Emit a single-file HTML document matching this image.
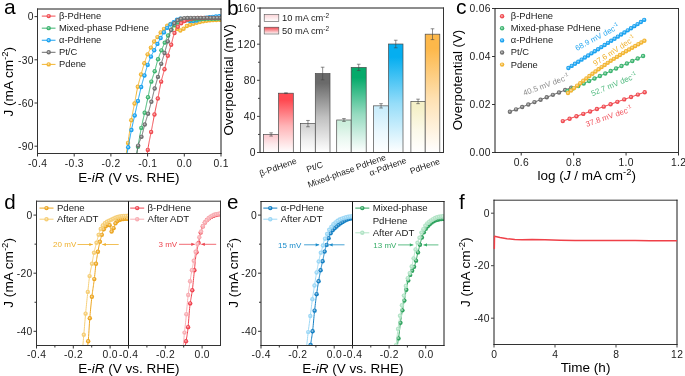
<!DOCTYPE html>
<html><head><meta charset="utf-8"><style>
html,body{margin:0;padding:0;background:#fff;}
svg{display:block;will-change:transform;}
text{font-family:'Liberation Sans', sans-serif;}
</style></head><body>
<svg width="685" height="376" viewBox="0 0 685 376">
<defs><clipPath id="ca"><rect x="37.5" y="9" width="183.5" height="144.5"/></clipPath><linearGradient id="g0" x1="0" y1="0" x2="0" y2="1"><stop offset="0" stop-color="#FBCDD2"/><stop offset="0.12" stop-color="#FBCDD2"/><stop offset="0.55" stop-color="#fdeaec"/><stop offset="1" stop-color="#fff"/></linearGradient><linearGradient id="g1" x1="0" y1="0" x2="0" y2="1"><stop offset="0" stop-color="#FF4A52"/><stop offset="0.12" stop-color="#FF4A52"/><stop offset="0.55" stop-color="#ffb3b6"/><stop offset="1" stop-color="#fff"/></linearGradient><linearGradient id="g2" x1="0" y1="0" x2="0" y2="1"><stop offset="0" stop-color="#D5D5D5"/><stop offset="0.12" stop-color="#D5D5D5"/><stop offset="0.55" stop-color="#ededed"/><stop offset="1" stop-color="#fff"/></linearGradient><linearGradient id="g3" x1="0" y1="0" x2="0" y2="1"><stop offset="0" stop-color="#6A6A6A"/><stop offset="0.12" stop-color="#6A6A6A"/><stop offset="0.55" stop-color="#c0c0c0"/><stop offset="1" stop-color="#fff"/></linearGradient><linearGradient id="g4" x1="0" y1="0" x2="0" y2="1"><stop offset="0" stop-color="#CDEFDD"/><stop offset="0.12" stop-color="#CDEFDD"/><stop offset="0.55" stop-color="#eaf8f1"/><stop offset="1" stop-color="#fff"/></linearGradient><linearGradient id="g5" x1="0" y1="0" x2="0" y2="1"><stop offset="0" stop-color="#05AA6A"/><stop offset="0.12" stop-color="#05AA6A"/><stop offset="0.55" stop-color="#96dbc0"/><stop offset="1" stop-color="#fff"/></linearGradient><linearGradient id="g6" x1="0" y1="0" x2="0" y2="1"><stop offset="0" stop-color="#CDEEFC"/><stop offset="0.12" stop-color="#CDEEFC"/><stop offset="0.55" stop-color="#eaf8fe"/><stop offset="1" stop-color="#fff"/></linearGradient><linearGradient id="g7" x1="0" y1="0" x2="0" y2="1"><stop offset="0" stop-color="#05AEF0"/><stop offset="0.12" stop-color="#05AEF0"/><stop offset="0.55" stop-color="#96ddf9"/><stop offset="1" stop-color="#fff"/></linearGradient><linearGradient id="g8" x1="0" y1="0" x2="0" y2="1"><stop offset="0" stop-color="#F5F0C8"/><stop offset="0.12" stop-color="#F5F0C8"/><stop offset="0.55" stop-color="#fbf9e8"/><stop offset="1" stop-color="#fff"/></linearGradient><linearGradient id="g9" x1="0" y1="0" x2="0" y2="1"><stop offset="0" stop-color="#FDB84A"/><stop offset="0.12" stop-color="#FDB84A"/><stop offset="0.55" stop-color="#fee1b3"/><stop offset="1" stop-color="#fff"/></linearGradient><linearGradient id="lg1" x1="0" y1="0" x2="0" y2="1"><stop offset="0" stop-color="#FBD3D7"/><stop offset="1" stop-color="#fff"/></linearGradient><linearGradient id="lg2" x1="0" y1="0" x2="0" y2="1"><stop offset="0" stop-color="#F2434B"/><stop offset="1" stop-color="#fff"/></linearGradient><clipPath id="cddL"><rect x="36.5" y="201.2" width="92" height="144.3"/></clipPath><clipPath id="cddR"><rect x="128.5" y="201.2" width="92" height="144.3"/></clipPath><clipPath id="cdeL"><rect x="261" y="201.5" width="91.5" height="144"/></clipPath><clipPath id="cdeR"><rect x="352.5" y="201.5" width="91.5" height="144"/></clipPath></defs>
<rect width="685" height="376" fill="#fff"/>
<text x="4" y="13.8" font-size="21" text-anchor="start" fill="#000" >a</text>
<g clip-path="url(#ca)">
<path d="M125.5,158 L125.7,156.87 L125.9,155.73 L126.1,154.57 L126.3,153.41 L126.5,152.22 L126.7,151.03 L126.9,149.82 L127.1,148.6 L127.3,147.36 L127.5,146.11 L127.7,144.84 L127.9,143.55 L128.1,142.23 L128.3,140.86 L128.5,139.46 L128.7,138.03 L128.9,136.58 L129.1,135.12 L129.3,133.65 L129.5,132.19 L129.7,130.73 L129.9,129.29 L130.1,127.86 L130.3,126.47 L130.5,125.11 L130.7,123.79 L130.9,122.52 L131.1,121.3 L131.3,120.13 L131.5,118.99 L131.7,117.88 L131.9,116.79 L132.1,115.73 L132.3,114.69 L132.5,113.66 L132.7,112.65 L132.9,111.65 L133.1,110.66 L133.3,109.68 L133.5,108.69 L133.7,107.71 L133.9,106.73 L134.1,105.74 L134.3,104.74 L134.5,103.73 L134.7,102.7 L134.9,101.66 L135.1,100.6 L135.3,99.52 L135.5,98.44 L135.7,97.35 L135.9,96.27 L136.1,95.19 L136.3,94.11 L136.5,93.05 L136.7,92.01 L136.9,90.99 L137.1,89.99 L137.3,89.02 L137.5,88.09 L137.7,87.2 L137.9,86.34 L138.1,85.5 L138.3,84.69 L138.5,83.89 L138.7,83.11 L138.9,82.35 L139.1,81.6 L139.3,80.86 L139.5,80.14 L139.7,79.42 L139.9,78.7 L140.1,78 L140.3,77.29 L140.5,76.59 L140.7,75.88 L140.9,75.17 L141.1,74.46 L141.3,73.74 L141.5,73.02 L141.7,72.3 L141.9,71.57 L142.1,70.85 L142.3,70.13 L142.5,69.42 L142.7,68.71 L142.9,68.01 L143.1,67.31 L143.3,66.63 L143.5,65.95 L143.7,65.29 L143.9,64.64 L144.1,64.01 L144.3,63.39 L144.5,62.78 L144.7,62.18 L144.9,61.58 L145.1,60.99 L145.3,60.41 L145.5,59.84 L145.7,59.27 L145.9,58.71 L146.1,58.17 L146.3,57.63 L146.5,57.1 L146.7,56.58 L146.9,56.08 L147.1,55.58 L147.3,55.1 L147.5,54.63 L147.7,54.17 L147.9,53.71 L148.1,53.27 L148.3,52.83 L148.5,52.41 L148.7,51.99 L148.9,51.57 L149.1,51.16 L149.3,50.76 L149.5,50.36 L149.7,49.96 L149.9,49.56 L150.1,49.17 L150.3,48.78 L150.5,48.39 L150.7,48 L150.9,47.6 L151.1,47.21 L151.3,46.82 L151.5,46.42 L151.7,46.03 L151.9,45.64 L152.1,45.25 L152.3,44.86 L152.5,44.48 L152.7,44.11 L152.9,43.73 L153.1,43.37 L153.3,43.01 L153.5,42.66 L153.7,42.32 L153.9,41.98 L154.1,41.66 L154.3,41.34 L154.5,41.04 L154.7,40.75 L154.9,40.46 L155.1,40.18 L155.3,39.91 L155.5,39.64 L155.7,39.38 L155.9,39.11 L156.1,38.86 L156.3,38.6 L156.5,38.34 L156.7,38.08 L156.9,37.81 L157.1,37.55 L157.3,37.28 L157.5,37 L157.7,36.72 L157.9,36.43 L158.1,36.13 L158.3,35.84 L158.5,35.54 L158.7,35.24 L158.9,34.94 L159.1,34.64 L159.3,34.34 L159.5,34.04 L159.7,33.75 L159.9,33.47 L160.1,33.19 L160.3,32.92 L160.5,32.65 L160.7,32.4 L160.9,32.15 L161.1,31.91 L161.3,31.68 L161.5,31.45 L161.7,31.22 L161.9,31 L162.1,30.78 L162.3,30.56 L162.5,30.35 L162.7,30.14 L162.9,29.93 L163.1,29.72 L163.3,29.52 L163.5,29.31 L163.7,29.11 L163.9,28.9 L164.1,28.69 L164.3,28.48 L164.5,28.27 L164.7,28.05 L164.9,27.84 L165.1,27.63 L165.3,27.41 L165.5,27.2 L165.7,27 L165.9,26.8 L166.1,26.61 L166.3,26.42 L166.5,26.24 L166.7,26.07 L166.9,25.92 L167.1,25.77 L167.3,25.63 L167.5,25.49 L167.7,25.35 L167.9,25.21 L168.1,25.07 L168.3,24.93 L168.5,24.8 L168.7,24.67 L168.9,24.54 L169.1,24.43 L169.3,24.32 L169.5,24.23 L169.7,24.15 L169.9,24.09 L170.1,24.04 L170.3,24.01 L170.5,24 L170.7,24.01 L170.9,24.02 L171.1,24.05 L171.3,24.09 L171.5,24.14 L171.7,24.19 L171.9,24.25 L172.1,24.32 L172.3,24.4 L172.5,24.48 L172.7,24.57 L172.9,24.66 L173.1,24.75 L173.3,24.85 L173.5,24.95 L173.7,25.06 L173.9,25.2 L174.1,25.38 L174.3,25.59 L174.5,25.82 L174.7,26.08 L174.9,26.36 L175.1,26.65 L175.3,26.94 L175.5,27.24 L175.7,27.53 L175.9,27.81 L176.1,28.08 L176.3,28.34 L176.5,28.56 L176.7,28.76 L176.9,28.93 L177.1,29.06 L177.3,29.19 L177.5,29.32 L177.7,29.45 L177.9,29.57 L178.1,29.69 L178.3,29.81 L178.5,29.92 L178.7,30.02 L178.9,30.12 L179.1,30.21 L179.3,30.29 L179.5,30.35 L179.7,30.41 L179.9,30.45 L180.1,30.48 L180.3,30.5 L180.5,30.5 L180.7,30.48 L180.9,30.43 L181.1,30.38 L181.3,30.3 L181.5,30.21 L181.7,30.1 L181.9,29.99 L182.1,29.86 L182.3,29.72 L182.5,29.58 L182.7,29.43 L182.9,29.28 L183.1,29.12 L183.3,28.97 L183.5,28.81 L183.7,28.66 L183.9,28.51 L184.1,28.37 L184.3,28.23 L184.5,28.08 L184.7,27.92 L184.9,27.75 L185.1,27.57 L185.3,27.39 L185.5,27.2 L185.7,27.01 L185.9,26.83 L186.1,26.65 L186.3,26.47 L186.5,26.3 L186.7,26.14 L186.9,26 L187.1,25.87 L187.3,25.75 L187.5,25.65 L187.7,25.56 L187.9,25.48 L188.1,25.4 L188.3,25.32 L188.5,25.25 L188.7,25.18 L188.9,25.11 L189.1,25.05 L189.3,24.99 L189.5,24.93 L189.7,24.87 L189.9,24.81 L190.1,24.76 L190.3,24.7 L190.5,24.64 L190.7,24.58 L190.9,24.53 L191.1,24.46 L191.3,24.4 L191.5,24.33 L191.7,24.27 L191.9,24.2 L192.1,24.14 L192.3,24.07 L192.5,24.01 L192.7,23.94 L192.9,23.88 L193.1,23.81 L193.3,23.75 L193.5,23.68 L193.7,23.62 L193.9,23.56 L194.1,23.49 L194.3,23.43 L194.5,23.37 L194.7,23.31 L194.9,23.26 L195.1,23.2 L195.3,23.14 L195.5,23.09 L195.7,23.04 L195.9,22.98 L196.1,22.93 L196.3,22.88 L196.5,22.83 L196.7,22.78 L196.9,22.73 L197.1,22.68 L197.3,22.63 L197.5,22.58 L197.7,22.53 L197.9,22.48 L198.1,22.43 L198.3,22.39 L198.5,22.34 L198.7,22.29 L198.9,22.25 L199.1,22.2 L199.3,22.16 L199.5,22.11 L199.7,22.07 L199.9,22.02 L200.1,21.98 L200.3,21.93 L200.5,21.89 L200.7,21.85 L200.9,21.8 L201.1,21.76 L201.3,21.71 L201.5,21.67 L201.7,21.63 L201.9,21.58 L202.1,21.54 L202.3,21.5 L202.5,21.46 L202.7,21.41 L202.9,21.37 L203.1,21.33 L203.3,21.3 L203.5,21.26 L203.7,21.22 L203.9,21.18 L204.1,21.15 L204.3,21.11 L204.5,21.08 L204.7,21.05 L204.9,21.02 L205.1,20.99 L205.3,20.96 L205.5,20.93 L205.7,20.9 L205.9,20.87 L206.1,20.84 L206.3,20.81 L206.5,20.78 L206.7,20.76 L206.9,20.73 L207.1,20.7 L207.3,20.68 L207.5,20.65 L207.7,20.63 L207.9,20.61 L208.1,20.58 L208.3,20.56 L208.5,20.54 L208.7,20.52 L208.9,20.5 L209.1,20.48 L209.3,20.46 L209.5,20.44 L209.7,20.42 L209.9,20.41 L210.1,20.39 L210.3,20.38 L210.5,20.36 L210.7,20.35 L210.9,20.33 L211.1,20.32 L211.3,20.3 L211.5,20.29 L211.7,20.27 L211.9,20.26 L212.1,20.24 L212.3,20.23 L212.5,20.21 L212.7,20.2 L212.9,20.18 L213.1,20.17 L213.3,20.15 L213.5,20.14 L213.7,20.13 L213.9,20.11 L214.1,20.1 L214.3,20.09 L214.5,20.07 L214.7,20.06 L214.9,20.05 L215.1,20.04 L215.3,20.02 L215.5,20.01 L215.7,20 L215.9,19.99 L216.1,19.98 L216.3,19.97 L216.5,19.96 L216.7,19.94 L216.9,19.93 L217.1,19.92 L217.3,19.92 L217.5,19.91 L217.7,19.9 L217.9,19.89 L218.1,19.88 L218.3,19.87 L218.5,19.86 L218.7,19.86 L218.9,19.85 L219.1,19.84 L219.3,19.84 L219.5,19.83 L219.7,19.83 L219.9,19.82 L220.1,19.82 L220.3,19.81 L220.5,19.81 L220.7,19.81 L220.9,19.81 L221.1,19.8 L221.3,19.8 L221.5,19.8" fill="none" stroke="#F2B430" stroke-width="1.0" stroke-linejoin="round"/>
<circle cx="128" cy="142.89" r="2.2" fill="#F2B430"/>
<circle cx="127.8" cy="142.59" r="0.99" fill="#fff" fill-opacity="0.5"/>
<circle cx="131.27" cy="120.3" r="2.2" fill="#F2B430"/>
<circle cx="131.07" cy="120" r="0.99" fill="#fff" fill-opacity="0.5"/>
<circle cx="134.54" cy="103.52" r="2.2" fill="#F2B430"/>
<circle cx="134.34" cy="103.22" r="0.99" fill="#fff" fill-opacity="0.5"/>
<circle cx="137.81" cy="86.72" r="2.2" fill="#F2B430"/>
<circle cx="137.61" cy="86.42" r="0.99" fill="#fff" fill-opacity="0.5"/>
<circle cx="141.08" cy="74.53" r="2.2" fill="#F2B430"/>
<circle cx="140.88" cy="74.23" r="0.99" fill="#fff" fill-opacity="0.5"/>
<circle cx="144.35" cy="63.24" r="2.2" fill="#F2B430"/>
<circle cx="144.15" cy="62.94" r="0.99" fill="#fff" fill-opacity="0.5"/>
<circle cx="147.62" cy="54.35" r="2.2" fill="#F2B430"/>
<circle cx="147.42" cy="54.05" r="0.99" fill="#fff" fill-opacity="0.5"/>
<circle cx="150.89" cy="47.62" r="2.2" fill="#F2B430"/>
<circle cx="150.69" cy="47.32" r="0.99" fill="#fff" fill-opacity="0.5"/>
<circle cx="154.16" cy="41.56" r="2.2" fill="#F2B430"/>
<circle cx="153.96" cy="41.26" r="0.99" fill="#fff" fill-opacity="0.5"/>
<circle cx="157.43" cy="37.1" r="2.2" fill="#F2B430"/>
<circle cx="157.23" cy="36.8" r="0.99" fill="#fff" fill-opacity="0.5"/>
<circle cx="160.7" cy="32.4" r="2.2" fill="#F2B430"/>
<circle cx="160.5" cy="32.1" r="0.99" fill="#fff" fill-opacity="0.5"/>
<circle cx="163.97" cy="28.83" r="2.2" fill="#F2B430"/>
<circle cx="163.77" cy="28.53" r="0.99" fill="#fff" fill-opacity="0.5"/>
<circle cx="167.24" cy="25.67" r="2.2" fill="#F2B430"/>
<circle cx="167.04" cy="25.37" r="0.99" fill="#fff" fill-opacity="0.5"/>
<circle cx="170.51" cy="24" r="2.2" fill="#F2B430"/>
<circle cx="170.31" cy="23.7" r="0.99" fill="#fff" fill-opacity="0.5"/>
<circle cx="173.78" cy="25.11" r="2.2" fill="#F2B430"/>
<circle cx="173.58" cy="24.81" r="0.99" fill="#fff" fill-opacity="0.5"/>
<circle cx="177.05" cy="29.03" r="2.2" fill="#F2B430"/>
<circle cx="176.85" cy="28.73" r="0.99" fill="#fff" fill-opacity="0.5"/>
<circle cx="180.32" cy="30.5" r="2.2" fill="#F2B430"/>
<circle cx="180.12" cy="30.2" r="0.99" fill="#fff" fill-opacity="0.5"/>
<circle cx="183.59" cy="28.74" r="2.2" fill="#F2B430"/>
<circle cx="183.39" cy="28.44" r="0.99" fill="#fff" fill-opacity="0.5"/>
<circle cx="186.86" cy="26.02" r="2.2" fill="#F2B430"/>
<circle cx="186.66" cy="25.72" r="0.99" fill="#fff" fill-opacity="0.5"/>
<circle cx="190.13" cy="24.75" r="2.2" fill="#F2B430"/>
<circle cx="189.93" cy="24.45" r="0.99" fill="#fff" fill-opacity="0.5"/>
<circle cx="193.4" cy="23.71" r="2.2" fill="#F2B430"/>
<circle cx="193.2" cy="23.41" r="0.99" fill="#fff" fill-opacity="0.5"/>
<circle cx="196.67" cy="22.78" r="2.2" fill="#F2B430"/>
<circle cx="196.47" cy="22.48" r="0.99" fill="#fff" fill-opacity="0.5"/>
<circle cx="199.94" cy="22.01" r="2.2" fill="#F2B430"/>
<circle cx="199.74" cy="21.71" r="0.99" fill="#fff" fill-opacity="0.5"/>
<circle cx="203.21" cy="21.31" r="2.2" fill="#F2B430"/>
<circle cx="203.01" cy="21.01" r="0.99" fill="#fff" fill-opacity="0.5"/>
<circle cx="206.48" cy="20.79" r="2.2" fill="#F2B430"/>
<circle cx="206.28" cy="20.49" r="0.99" fill="#fff" fill-opacity="0.5"/>
<circle cx="209.75" cy="20.42" r="2.2" fill="#F2B430"/>
<circle cx="209.55" cy="20.12" r="0.99" fill="#fff" fill-opacity="0.5"/>
<circle cx="213.02" cy="20.17" r="2.2" fill="#F2B430"/>
<circle cx="212.82" cy="19.87" r="0.99" fill="#fff" fill-opacity="0.5"/>
<circle cx="216.29" cy="19.97" r="2.2" fill="#F2B430"/>
<circle cx="216.09" cy="19.67" r="0.99" fill="#fff" fill-opacity="0.5"/>
<circle cx="219.56" cy="19.83" r="2.2" fill="#F2B430"/>
<circle cx="219.36" cy="19.53" r="0.99" fill="#fff" fill-opacity="0.5"/>
</g>
<g clip-path="url(#ca)">
<path d="M126.3,158 L126.5,156.85 L126.7,155.71 L126.9,154.57 L127.1,153.44 L127.3,152.31 L127.5,151.19 L127.7,150.07 L127.9,148.96 L128.1,147.85 L128.3,146.75 L128.5,145.65 L128.7,144.55 L128.9,143.44 L129.1,142.34 L129.3,141.24 L129.5,140.14 L129.7,139.05 L129.9,137.96 L130.1,136.89 L130.3,135.82 L130.5,134.77 L130.7,133.72 L130.9,132.69 L131.1,131.68 L131.3,130.68 L131.5,129.7 L131.7,128.74 L131.9,127.79 L132.1,126.87 L132.3,125.95 L132.5,125.05 L132.7,124.16 L132.9,123.27 L133.1,122.4 L133.3,121.53 L133.5,120.67 L133.7,119.81 L133.9,118.95 L134.1,118.09 L134.3,117.23 L134.5,116.37 L134.7,115.5 L134.9,114.63 L135.1,113.74 L135.3,112.85 L135.5,111.96 L135.7,111.06 L135.9,110.17 L136.1,109.27 L136.3,108.37 L136.5,107.46 L136.7,106.56 L136.9,105.66 L137.1,104.77 L137.3,103.87 L137.5,102.97 L137.7,102.08 L137.9,101.2 L138.1,100.31 L138.3,99.44 L138.5,98.56 L138.7,97.69 L138.9,96.81 L139.1,95.93 L139.3,95.04 L139.5,94.17 L139.7,93.29 L139.9,92.42 L140.1,91.55 L140.3,90.69 L140.5,89.85 L140.7,89.01 L140.9,88.18 L141.1,87.37 L141.3,86.58 L141.5,85.8 L141.7,85.04 L141.9,84.29 L142.1,83.55 L142.3,82.82 L142.5,82.11 L142.7,81.4 L142.9,80.7 L143.1,80.01 L143.3,79.32 L143.5,78.64 L143.7,77.96 L143.9,77.28 L144.1,76.61 L144.3,75.94 L144.5,75.27 L144.7,74.6 L144.9,73.93 L145.1,73.25 L145.3,72.58 L145.5,71.9 L145.7,71.23 L145.9,70.56 L146.1,69.89 L146.3,69.23 L146.5,68.58 L146.7,67.93 L146.9,67.3 L147.1,66.68 L147.3,66.06 L147.5,65.47 L147.7,64.89 L147.9,64.32 L148.1,63.76 L148.3,63.21 L148.5,62.67 L148.7,62.13 L148.9,61.6 L149.1,61.08 L149.3,60.57 L149.5,60.07 L149.7,59.57 L149.9,59.08 L150.1,58.6 L150.3,58.12 L150.5,57.66 L150.7,57.2 L150.9,56.74 L151.1,56.3 L151.3,55.86 L151.5,55.44 L151.7,55.02 L151.9,54.61 L152.1,54.2 L152.3,53.81 L152.5,53.42 L152.7,53.03 L152.9,52.65 L153.1,52.27 L153.3,51.89 L153.5,51.52 L153.7,51.14 L153.9,50.77 L154.1,50.4 L154.3,50.02 L154.5,49.65 L154.7,49.27 L154.9,48.89 L155.1,48.5 L155.3,48.11 L155.5,47.72 L155.7,47.33 L155.9,46.94 L156.1,46.54 L156.3,46.15 L156.5,45.76 L156.7,45.37 L156.9,44.98 L157.1,44.59 L157.3,44.21 L157.5,43.82 L157.7,43.44 L157.9,43.06 L158.1,42.69 L158.3,42.31 L158.5,41.94 L158.7,41.58 L158.9,41.21 L159.1,40.85 L159.3,40.48 L159.5,40.12 L159.7,39.76 L159.9,39.41 L160.1,39.05 L160.3,38.7 L160.5,38.34 L160.7,37.99 L160.9,37.64 L161.1,37.29 L161.3,36.95 L161.5,36.6 L161.7,36.25 L161.9,35.9 L162.1,35.55 L162.3,35.2 L162.5,34.85 L162.7,34.51 L162.9,34.16 L163.1,33.82 L163.3,33.48 L163.5,33.14 L163.7,32.81 L163.9,32.48 L164.1,32.17 L164.3,31.85 L164.5,31.55 L164.7,31.25 L164.9,30.96 L165.1,30.67 L165.3,30.39 L165.5,30.11 L165.7,29.83 L165.9,29.56 L166.1,29.29 L166.3,29.03 L166.5,28.77 L166.7,28.51 L166.9,28.26 L167.1,28.02 L167.3,27.77 L167.5,27.53 L167.7,27.3 L167.9,27.07 L168.1,26.84 L168.3,26.61 L168.5,26.39 L168.7,26.17 L168.9,25.95 L169.1,25.73 L169.3,25.53 L169.5,25.32 L169.7,25.12 L169.9,24.93 L170.1,24.75 L170.3,24.57 L170.5,24.4 L170.7,24.24 L170.9,24.08 L171.1,23.94 L171.3,23.79 L171.5,23.65 L171.7,23.52 L171.9,23.39 L172.1,23.26 L172.3,23.13 L172.5,23.01 L172.7,22.88 L172.9,22.75 L173.1,22.62 L173.3,22.48 L173.5,22.34 L173.7,22.2 L173.9,22.05 L174.1,21.89 L174.3,21.72 L174.5,21.55 L174.7,21.37 L174.9,21.19 L175.1,21.02 L175.3,20.84 L175.5,20.67 L175.7,20.5 L175.9,20.34 L176.1,20.19 L176.3,20.04 L176.5,19.91 L176.7,19.8 L176.9,19.7 L177.1,19.61 L177.3,19.52 L177.5,19.42 L177.7,19.33 L177.9,19.25 L178.1,19.16 L178.3,19.08 L178.5,19.01 L178.7,18.94 L178.9,18.87 L179.1,18.82 L179.3,18.77 L179.5,18.74 L179.7,18.71 L179.9,18.7 L180.1,18.7 L180.3,18.71 L180.5,18.71 L180.7,18.73 L180.9,18.75 L181.1,18.77 L181.3,18.79 L181.5,18.82 L181.7,18.85 L181.9,18.88 L182.1,18.91 L182.3,18.95 L182.5,18.99 L182.7,19.03 L182.9,19.07 L183.1,19.11 L183.3,19.15 L183.5,19.2 L183.7,19.24 L183.9,19.28 L184.1,19.32 L184.3,19.37 L184.5,19.42 L184.7,19.48 L184.9,19.55 L185.1,19.61 L185.3,19.69 L185.5,19.76 L185.7,19.83 L185.9,19.91 L186.1,19.99 L186.3,20.07 L186.5,20.14 L186.7,20.21 L186.9,20.29 L187.1,20.35 L187.3,20.42 L187.5,20.48 L187.7,20.53 L187.9,20.58 L188.1,20.62 L188.3,20.66 L188.5,20.7 L188.7,20.75 L188.9,20.79 L189.1,20.83 L189.3,20.87 L189.5,20.91 L189.7,20.95 L189.9,20.99 L190.1,21.02 L190.3,21.05 L190.5,21.08 L190.7,21.11 L190.9,21.13 L191.1,21.15 L191.3,21.17 L191.5,21.19 L191.7,21.19 L191.9,21.2 L192.1,21.2 L192.3,21.19 L192.5,21.19 L192.7,21.17 L192.9,21.15 L193.1,21.13 L193.3,21.11 L193.5,21.08 L193.7,21.05 L193.9,21.02 L194.1,20.99 L194.3,20.95 L194.5,20.91 L194.7,20.87 L194.9,20.83 L195.1,20.79 L195.3,20.75 L195.5,20.7 L195.7,20.66 L195.9,20.62 L196.1,20.58 L196.3,20.53 L196.5,20.48 L196.7,20.42 L196.9,20.36 L197.1,20.3 L197.3,20.23 L197.5,20.16 L197.7,20.09 L197.9,20.02 L198.1,19.94 L198.3,19.87 L198.5,19.79 L198.7,19.72 L198.9,19.65 L199.1,19.58 L199.3,19.51 L199.5,19.45 L199.7,19.38 L199.9,19.33 L200.1,19.27 L200.3,19.22 L200.5,19.17 L200.7,19.12 L200.9,19.07 L201.1,19.01 L201.3,18.96 L201.5,18.91 L201.7,18.86 L201.9,18.81 L202.1,18.76 L202.3,18.71 L202.5,18.66 L202.7,18.61 L202.9,18.56 L203.1,18.51 L203.3,18.47 L203.5,18.42 L203.7,18.37 L203.9,18.32 L204.1,18.28 L204.3,18.23 L204.5,18.19 L204.7,18.14 L204.9,18.1 L205.1,18.05 L205.3,18.01 L205.5,17.97 L205.7,17.93 L205.9,17.89 L206.1,17.85 L206.3,17.81 L206.5,17.77 L206.7,17.73 L206.9,17.69 L207.1,17.65 L207.3,17.62 L207.5,17.58 L207.7,17.54 L207.9,17.51 L208.1,17.48 L208.3,17.44 L208.5,17.41 L208.7,17.38 L208.9,17.35 L209.1,17.32 L209.3,17.29 L209.5,17.27 L209.7,17.24 L209.9,17.21 L210.1,17.19 L210.3,17.16 L210.5,17.14 L210.7,17.11 L210.9,17.09 L211.1,17.06 L211.3,17.04 L211.5,17.02 L211.7,16.99 L211.9,16.97 L212.1,16.94 L212.3,16.92 L212.5,16.9 L212.7,16.87 L212.9,16.85 L213.1,16.83 L213.3,16.81 L213.5,16.78 L213.7,16.76 L213.9,16.74 L214.1,16.72 L214.3,16.7 L214.5,16.68 L214.7,16.66 L214.9,16.63 L215.1,16.61 L215.3,16.6 L215.5,16.58 L215.7,16.56 L215.9,16.54 L216.1,16.52 L216.3,16.5 L216.5,16.48 L216.7,16.47 L216.9,16.45 L217.1,16.43 L217.3,16.42 L217.5,16.4 L217.7,16.39 L217.9,16.37 L218.1,16.36 L218.3,16.34 L218.5,16.33 L218.7,16.32 L218.9,16.31 L219.1,16.3 L219.3,16.28 L219.5,16.27 L219.7,16.26 L219.9,16.25 L220.1,16.25 L220.3,16.24 L220.5,16.23 L220.7,16.22 L220.9,16.22 L221.1,16.21 L221.3,16.2 L221.5,16.2" fill="none" stroke="#1AA2F0" stroke-width="1.0" stroke-linejoin="round"/>
<circle cx="128.2" cy="147.3" r="2.2" fill="#1AA2F0"/>
<circle cx="128" cy="147" r="0.99" fill="#fff" fill-opacity="0.5"/>
<circle cx="131.45" cy="129.94" r="2.2" fill="#1AA2F0"/>
<circle cx="131.25" cy="129.64" r="0.99" fill="#fff" fill-opacity="0.5"/>
<circle cx="134.7" cy="115.5" r="2.2" fill="#1AA2F0"/>
<circle cx="134.5" cy="115.2" r="0.99" fill="#fff" fill-opacity="0.5"/>
<circle cx="137.95" cy="100.98" r="2.2" fill="#1AA2F0"/>
<circle cx="137.75" cy="100.68" r="0.99" fill="#fff" fill-opacity="0.5"/>
<circle cx="141.2" cy="86.97" r="2.2" fill="#1AA2F0"/>
<circle cx="141" cy="86.67" r="0.99" fill="#fff" fill-opacity="0.5"/>
<circle cx="144.45" cy="75.44" r="2.2" fill="#1AA2F0"/>
<circle cx="144.25" cy="75.14" r="0.99" fill="#fff" fill-opacity="0.5"/>
<circle cx="147.7" cy="64.89" r="2.2" fill="#1AA2F0"/>
<circle cx="147.5" cy="64.59" r="0.99" fill="#fff" fill-opacity="0.5"/>
<circle cx="150.95" cy="56.63" r="2.2" fill="#1AA2F0"/>
<circle cx="150.75" cy="56.33" r="0.99" fill="#fff" fill-opacity="0.5"/>
<circle cx="154.2" cy="50.21" r="2.2" fill="#1AA2F0"/>
<circle cx="154" cy="49.91" r="0.99" fill="#fff" fill-opacity="0.5"/>
<circle cx="157.45" cy="43.92" r="2.2" fill="#1AA2F0"/>
<circle cx="157.25" cy="43.62" r="0.99" fill="#fff" fill-opacity="0.5"/>
<circle cx="160.7" cy="37.99" r="2.2" fill="#1AA2F0"/>
<circle cx="160.5" cy="37.69" r="0.99" fill="#fff" fill-opacity="0.5"/>
<circle cx="163.95" cy="32.4" r="2.2" fill="#1AA2F0"/>
<circle cx="163.75" cy="32.1" r="0.99" fill="#fff" fill-opacity="0.5"/>
<circle cx="167.2" cy="27.89" r="2.2" fill="#1AA2F0"/>
<circle cx="167" cy="27.59" r="0.99" fill="#fff" fill-opacity="0.5"/>
<circle cx="170.45" cy="24.44" r="2.2" fill="#1AA2F0"/>
<circle cx="170.25" cy="24.14" r="0.99" fill="#fff" fill-opacity="0.5"/>
<circle cx="173.7" cy="22.2" r="2.2" fill="#1AA2F0"/>
<circle cx="173.5" cy="21.9" r="0.99" fill="#fff" fill-opacity="0.5"/>
<circle cx="176.95" cy="19.68" r="2.2" fill="#1AA2F0"/>
<circle cx="176.75" cy="19.38" r="0.99" fill="#fff" fill-opacity="0.5"/>
<circle cx="180.2" cy="18.7" r="2.2" fill="#1AA2F0"/>
<circle cx="180" cy="18.4" r="0.99" fill="#fff" fill-opacity="0.5"/>
<circle cx="183.45" cy="19.19" r="2.2" fill="#1AA2F0"/>
<circle cx="183.25" cy="18.89" r="0.99" fill="#fff" fill-opacity="0.5"/>
<circle cx="186.7" cy="20.21" r="2.2" fill="#1AA2F0"/>
<circle cx="186.5" cy="19.91" r="0.99" fill="#fff" fill-opacity="0.5"/>
<circle cx="189.95" cy="20.99" r="2.2" fill="#1AA2F0"/>
<circle cx="189.75" cy="20.69" r="0.99" fill="#fff" fill-opacity="0.5"/>
<circle cx="193.2" cy="21.12" r="2.2" fill="#1AA2F0"/>
<circle cx="193" cy="20.82" r="0.99" fill="#fff" fill-opacity="0.5"/>
<circle cx="196.45" cy="20.49" r="2.2" fill="#1AA2F0"/>
<circle cx="196.25" cy="20.19" r="0.99" fill="#fff" fill-opacity="0.5"/>
<circle cx="199.7" cy="19.38" r="2.2" fill="#1AA2F0"/>
<circle cx="199.5" cy="19.08" r="0.99" fill="#fff" fill-opacity="0.5"/>
<circle cx="202.95" cy="18.55" r="2.2" fill="#1AA2F0"/>
<circle cx="202.75" cy="18.25" r="0.99" fill="#fff" fill-opacity="0.5"/>
<circle cx="206.2" cy="17.82" r="2.2" fill="#1AA2F0"/>
<circle cx="206" cy="17.52" r="0.99" fill="#fff" fill-opacity="0.5"/>
<circle cx="209.45" cy="17.27" r="2.2" fill="#1AA2F0"/>
<circle cx="209.25" cy="16.97" r="0.99" fill="#fff" fill-opacity="0.5"/>
<circle cx="212.7" cy="16.87" r="2.2" fill="#1AA2F0"/>
<circle cx="212.5" cy="16.57" r="0.99" fill="#fff" fill-opacity="0.5"/>
<circle cx="215.95" cy="16.53" r="2.2" fill="#1AA2F0"/>
<circle cx="215.75" cy="16.23" r="0.99" fill="#fff" fill-opacity="0.5"/>
<circle cx="219.2" cy="16.29" r="2.2" fill="#1AA2F0"/>
<circle cx="219" cy="15.99" r="0.99" fill="#fff" fill-opacity="0.5"/>
</g>
<g clip-path="url(#ca)">
<path d="M136,158 L136.2,156.83 L136.4,155.65 L136.6,154.48 L136.8,153.32 L137,152.16 L137.2,151 L137.4,149.84 L137.6,148.69 L137.8,147.54 L138,146.4 L138.2,145.26 L138.4,144.1 L138.6,142.95 L138.8,141.79 L139,140.63 L139.2,139.48 L139.4,138.32 L139.6,137.17 L139.8,136.03 L140,134.9 L140.2,133.78 L140.4,132.67 L140.6,131.58 L140.8,130.5 L141,129.45 L141.2,128.41 L141.4,127.4 L141.6,126.41 L141.8,125.45 L142,124.5 L142.2,123.57 L142.4,122.65 L142.6,121.75 L142.8,120.86 L143,119.98 L143.2,119.1 L143.4,118.23 L143.6,117.36 L143.8,116.49 L144,115.61 L144.2,114.74 L144.4,113.85 L144.6,112.96 L144.8,112.06 L145,111.14 L145.2,110.22 L145.4,109.3 L145.6,108.38 L145.8,107.45 L146,106.53 L146.2,105.6 L146.4,104.67 L146.6,103.74 L146.8,102.81 L147,101.87 L147.2,100.94 L147.4,100 L147.6,99.07 L147.8,98.14 L148,97.2 L148.2,96.27 L148.4,95.33 L148.6,94.37 L148.8,93.4 L149,92.41 L149.2,91.41 L149.4,90.42 L149.6,89.42 L149.8,88.43 L150,87.46 L150.2,86.51 L150.4,85.58 L150.6,84.68 L150.8,83.81 L151,82.98 L151.2,82.2 L151.4,81.46 L151.6,80.75 L151.8,80.07 L152,79.41 L152.2,78.78 L152.4,78.16 L152.6,77.55 L152.8,76.96 L153,76.37 L153.2,75.79 L153.4,75.21 L153.6,74.63 L153.8,74.03 L154,73.43 L154.2,72.82 L154.4,72.19 L154.6,71.53 L154.8,70.86 L155,70.16 L155.2,69.44 L155.4,68.7 L155.6,67.94 L155.8,67.18 L156,66.42 L156.2,65.65 L156.4,64.89 L156.6,64.13 L156.8,63.39 L157,62.66 L157.2,61.95 L157.4,61.27 L157.6,60.62 L157.8,59.99 L158,59.38 L158.2,58.79 L158.4,58.2 L158.6,57.63 L158.8,57.07 L159,56.52 L159.2,55.97 L159.4,55.44 L159.6,54.91 L159.8,54.39 L160,53.87 L160.2,53.36 L160.4,52.85 L160.6,52.35 L160.8,51.85 L161,51.35 L161.2,50.85 L161.4,50.36 L161.6,49.87 L161.8,49.39 L162,48.91 L162.2,48.44 L162.4,47.97 L162.6,47.51 L162.8,47.05 L163,46.59 L163.2,46.13 L163.4,45.68 L163.6,45.23 L163.8,44.78 L164,44.34 L164.2,43.89 L164.4,43.45 L164.6,43 L164.8,42.55 L165,42.11 L165.2,41.66 L165.4,41.22 L165.6,40.77 L165.8,40.33 L166,39.89 L166.2,39.45 L166.4,39.01 L166.6,38.58 L166.8,38.15 L167,37.73 L167.2,37.31 L167.4,36.9 L167.6,36.49 L167.8,36.09 L168,35.69 L168.2,35.31 L168.4,34.92 L168.6,34.54 L168.8,34.16 L169,33.78 L169.2,33.41 L169.4,33.04 L169.6,32.67 L169.8,32.31 L170,31.95 L170.2,31.61 L170.4,31.26 L170.6,30.92 L170.8,30.59 L171,30.27 L171.2,29.96 L171.4,29.65 L171.6,29.35 L171.8,29.06 L172,28.76 L172.2,28.47 L172.4,28.18 L172.6,27.9 L172.8,27.62 L173,27.35 L173.2,27.08 L173.4,26.82 L173.6,26.56 L173.8,26.32 L174,26.07 L174.2,25.84 L174.4,25.62 L174.6,25.4 L174.8,25.2 L175,25 L175.2,24.81 L175.4,24.62 L175.6,24.44 L175.8,24.26 L176,24.08 L176.2,23.9 L176.4,23.73 L176.6,23.56 L176.8,23.4 L177,23.24 L177.2,23.09 L177.4,22.94 L177.6,22.8 L177.8,22.66 L178,22.54 L178.2,22.41 L178.4,22.3 L178.6,22.19 L178.8,22.09 L179,22 L179.2,21.91 L179.4,21.83 L179.6,21.75 L179.8,21.67 L180,21.6 L180.2,21.52 L180.4,21.45 L180.6,21.39 L180.8,21.32 L181,21.26 L181.2,21.19 L181.4,21.13 L181.6,21.08 L181.8,21.02 L182,20.96 L182.2,20.91 L182.4,20.86 L182.6,20.81 L182.8,20.76 L183,20.72 L183.2,20.67 L183.4,20.63 L183.6,20.58 L183.8,20.54 L184,20.5 L184.2,20.46 L184.4,20.42 L184.6,20.38 L184.8,20.34 L185,20.3 L185.2,20.27 L185.4,20.23 L185.6,20.19 L185.8,20.16 L186,20.12 L186.2,20.09 L186.4,20.05 L186.6,20.02 L186.8,19.99 L187,19.96 L187.2,19.93 L187.4,19.9 L187.6,19.87 L187.8,19.84 L188,19.81 L188.2,19.79 L188.4,19.76 L188.6,19.74 L188.8,19.71 L189,19.69 L189.2,19.67 L189.4,19.65 L189.6,19.63 L189.8,19.62 L190,19.6 L190.2,19.58 L190.4,19.57 L190.6,19.55 L190.8,19.54 L191,19.53 L191.2,19.51 L191.4,19.5 L191.6,19.48 L191.8,19.47 L192,19.46 L192.2,19.45 L192.4,19.43 L192.6,19.42 L192.8,19.41 L193,19.4 L193.2,19.39 L193.4,19.38 L193.6,19.36 L193.8,19.35 L194,19.34 L194.2,19.33 L194.4,19.32 L194.6,19.31 L194.8,19.3 L195,19.29 L195.2,19.28 L195.4,19.28 L195.6,19.27 L195.8,19.26 L196,19.25 L196.2,19.24 L196.4,19.23 L196.6,19.22 L196.8,19.22 L197,19.21 L197.2,19.2 L197.4,19.19 L197.6,19.18 L197.8,19.18 L198,19.17 L198.2,19.16 L198.4,19.15 L198.6,19.15 L198.8,19.14 L199,19.13 L199.2,19.13 L199.4,19.12 L199.6,19.11 L199.8,19.11 L200,19.1 L200.2,19.09 L200.4,19.09 L200.6,19.08 L200.8,19.07 L201,19.07 L201.2,19.06 L201.4,19.05 L201.6,19.05 L201.8,19.04 L202,19.03 L202.2,19.03 L202.4,19.02 L202.6,19.01 L202.8,19.01 L203,19 L203.2,19 L203.4,18.99 L203.6,18.98 L203.8,18.98 L204,18.97 L204.2,18.96 L204.4,18.96 L204.6,18.95 L204.8,18.94 L205,18.94 L205.2,18.93 L205.4,18.93 L205.6,18.92 L205.8,18.91 L206,18.91 L206.2,18.9 L206.4,18.9 L206.6,18.89 L206.8,18.88 L207,18.88 L207.2,18.87 L207.4,18.87 L207.6,18.86 L207.8,18.85 L208,18.85 L208.2,18.84 L208.4,18.84 L208.6,18.83 L208.8,18.83 L209,18.82 L209.2,18.81 L209.4,18.81 L209.6,18.8 L209.8,18.8 L210,18.79 L210.2,18.79 L210.4,18.78 L210.6,18.78 L210.8,18.77 L211,18.77 L211.2,18.76 L211.4,18.76 L211.6,18.75 L211.8,18.75 L212,18.74 L212.2,18.74 L212.4,18.73 L212.6,18.73 L212.8,18.73 L213,18.72 L213.2,18.72 L213.4,18.71 L213.6,18.71 L213.8,18.7 L214,18.7 L214.2,18.7 L214.4,18.69 L214.6,18.69 L214.8,18.68 L215,18.68 L215.2,18.68 L215.4,18.67 L215.6,18.67 L215.8,18.67 L216,18.66 L216.2,18.66 L216.4,18.66 L216.6,18.65 L216.8,18.65 L217,18.65 L217.2,18.64 L217.4,18.64 L217.6,18.64 L217.8,18.63 L218,18.63 L218.2,18.63 L218.4,18.63 L218.6,18.62 L218.8,18.62 L219,18.62 L219.2,18.62 L219.4,18.62 L219.6,18.61 L219.8,18.61 L220,18.61 L220.2,18.61 L220.4,18.61 L220.6,18.61 L220.8,18.6 L221,18.6 L221.2,18.6 L221.4,18.6" fill="none" stroke="#3DB470" stroke-width="1.0" stroke-linejoin="round"/>
<circle cx="137.95" cy="146.69" r="2.2" fill="#3DB470"/>
<circle cx="137.75" cy="146.39" r="0.99" fill="#fff" fill-opacity="0.5"/>
<circle cx="141.3" cy="127.9" r="2.2" fill="#3DB470"/>
<circle cx="141.1" cy="127.6" r="0.99" fill="#fff" fill-opacity="0.5"/>
<circle cx="144.65" cy="112.73" r="2.2" fill="#3DB470"/>
<circle cx="144.45" cy="112.43" r="0.99" fill="#fff" fill-opacity="0.5"/>
<circle cx="148" cy="97.2" r="2.2" fill="#3DB470"/>
<circle cx="147.8" cy="96.9" r="0.99" fill="#fff" fill-opacity="0.5"/>
<circle cx="151.35" cy="81.64" r="2.2" fill="#3DB470"/>
<circle cx="151.15" cy="81.34" r="0.99" fill="#fff" fill-opacity="0.5"/>
<circle cx="154.7" cy="71.2" r="2.2" fill="#3DB470"/>
<circle cx="154.5" cy="70.9" r="0.99" fill="#fff" fill-opacity="0.5"/>
<circle cx="158.05" cy="59.23" r="2.2" fill="#3DB470"/>
<circle cx="157.85" cy="58.93" r="0.99" fill="#fff" fill-opacity="0.5"/>
<circle cx="161.4" cy="50.36" r="2.2" fill="#3DB470"/>
<circle cx="161.2" cy="50.06" r="0.99" fill="#fff" fill-opacity="0.5"/>
<circle cx="164.75" cy="42.67" r="2.2" fill="#3DB470"/>
<circle cx="164.55" cy="42.37" r="0.99" fill="#fff" fill-opacity="0.5"/>
<circle cx="168.1" cy="35.5" r="2.2" fill="#3DB470"/>
<circle cx="167.9" cy="35.2" r="0.99" fill="#fff" fill-opacity="0.5"/>
<circle cx="171.45" cy="29.57" r="2.2" fill="#3DB470"/>
<circle cx="171.25" cy="29.27" r="0.99" fill="#fff" fill-opacity="0.5"/>
<circle cx="174.8" cy="25.2" r="2.2" fill="#3DB470"/>
<circle cx="174.6" cy="24.9" r="0.99" fill="#fff" fill-opacity="0.5"/>
<circle cx="178.15" cy="22.44" r="2.2" fill="#3DB470"/>
<circle cx="177.95" cy="22.14" r="0.99" fill="#fff" fill-opacity="0.5"/>
<circle cx="181.5" cy="21.1" r="2.2" fill="#3DB470"/>
<circle cx="181.3" cy="20.8" r="0.99" fill="#fff" fill-opacity="0.5"/>
<circle cx="184.85" cy="20.33" r="2.2" fill="#3DB470"/>
<circle cx="184.65" cy="20.03" r="0.99" fill="#fff" fill-opacity="0.5"/>
<circle cx="188.2" cy="19.79" r="2.2" fill="#3DB470"/>
<circle cx="188" cy="19.49" r="0.99" fill="#fff" fill-opacity="0.5"/>
<circle cx="191.55" cy="19.49" r="2.2" fill="#3DB470"/>
<circle cx="191.35" cy="19.19" r="0.99" fill="#fff" fill-opacity="0.5"/>
<circle cx="194.9" cy="19.3" r="2.2" fill="#3DB470"/>
<circle cx="194.7" cy="19" r="0.99" fill="#fff" fill-opacity="0.5"/>
<circle cx="198.25" cy="19.16" r="2.2" fill="#3DB470"/>
<circle cx="198.05" cy="18.86" r="0.99" fill="#fff" fill-opacity="0.5"/>
<circle cx="201.6" cy="19.05" r="2.2" fill="#3DB470"/>
<circle cx="201.4" cy="18.75" r="0.99" fill="#fff" fill-opacity="0.5"/>
<circle cx="204.95" cy="18.94" r="2.2" fill="#3DB470"/>
<circle cx="204.75" cy="18.64" r="0.99" fill="#fff" fill-opacity="0.5"/>
<circle cx="208.3" cy="18.84" r="2.2" fill="#3DB470"/>
<circle cx="208.1" cy="18.54" r="0.99" fill="#fff" fill-opacity="0.5"/>
<circle cx="211.65" cy="18.75" r="2.2" fill="#3DB470"/>
<circle cx="211.45" cy="18.45" r="0.99" fill="#fff" fill-opacity="0.5"/>
<circle cx="215" cy="18.68" r="2.2" fill="#3DB470"/>
<circle cx="214.8" cy="18.38" r="0.99" fill="#fff" fill-opacity="0.5"/>
<circle cx="218.35" cy="18.63" r="2.2" fill="#3DB470"/>
<circle cx="218.15" cy="18.33" r="0.99" fill="#fff" fill-opacity="0.5"/>
</g>
<g clip-path="url(#ca)">
<path d="M146.8,158 L147,156.27 L147.2,154.57 L147.4,152.91 L147.6,151.34 L147.8,149.88 L148,148.55 L148.2,147.28 L148.4,146.07 L148.6,144.9 L148.8,143.77 L149,142.68 L149.2,141.62 L149.4,140.59 L149.6,139.58 L149.8,138.58 L150,137.61 L150.2,136.64 L150.4,135.67 L150.6,134.7 L150.8,133.73 L151,132.75 L151.2,131.75 L151.4,130.74 L151.6,129.7 L151.8,128.65 L152,127.59 L152.2,126.52 L152.4,125.46 L152.6,124.39 L152.8,123.33 L153,122.26 L153.2,121.2 L153.4,120.14 L153.6,119.08 L153.8,118.03 L154,116.99 L154.2,115.95 L154.4,114.93 L154.6,113.91 L154.8,112.9 L155,111.9 L155.2,110.92 L155.4,109.95 L155.6,108.99 L155.8,108.03 L156,107.09 L156.2,106.14 L156.4,105.2 L156.6,104.26 L156.8,103.32 L157,102.38 L157.2,101.44 L157.4,100.49 L157.6,99.53 L157.8,98.57 L158,97.59 L158.2,96.6 L158.4,95.59 L158.6,94.56 L158.8,93.52 L159,92.46 L159.2,91.39 L159.4,90.33 L159.6,89.27 L159.8,88.21 L160,87.17 L160.2,86.15 L160.4,85.15 L160.6,84.18 L160.8,83.24 L161,82.34 L161.2,81.47 L161.4,80.64 L161.6,79.84 L161.8,79.06 L162,78.29 L162.2,77.55 L162.4,76.82 L162.6,76.1 L162.8,75.39 L163,74.69 L163.2,73.99 L163.4,73.29 L163.6,72.58 L163.8,71.87 L164,71.15 L164.2,70.42 L164.4,69.67 L164.6,68.9 L164.8,68.11 L165,67.31 L165.2,66.49 L165.4,65.67 L165.6,64.83 L165.8,63.99 L166,63.14 L166.2,62.3 L166.4,61.46 L166.6,60.63 L166.8,59.81 L167,59 L167.2,58.2 L167.4,57.42 L167.6,56.67 L167.8,55.94 L168,55.22 L168.2,54.53 L168.4,53.84 L168.6,53.17 L168.8,52.51 L169,51.86 L169.2,51.22 L169.4,50.58 L169.6,49.94 L169.8,49.3 L170,48.66 L170.2,48.02 L170.4,47.38 L170.6,46.72 L170.8,46.06 L171,45.39 L171.2,44.7 L171.4,43.99 L171.6,43.24 L171.8,42.48 L172,41.69 L172.2,40.9 L172.4,40.1 L172.6,39.3 L172.8,38.51 L173,37.73 L173.2,36.98 L173.4,36.26 L173.6,35.58 L173.8,34.93 L174,34.34 L174.2,33.8 L174.4,33.3 L174.6,32.81 L174.8,32.34 L175,31.88 L175.2,31.44 L175.4,31.01 L175.6,30.59 L175.8,30.19 L176,29.8 L176.2,29.42 L176.4,29.06 L176.6,28.7 L176.8,28.36 L177,28.04 L177.2,27.72 L177.4,27.41 L177.6,27.12 L177.8,26.84 L178,26.57 L178.2,26.3 L178.4,26.05 L178.6,25.8 L178.8,25.56 L179,25.33 L179.2,25.11 L179.4,24.89 L179.6,24.68 L179.8,24.48 L180,24.28 L180.2,24.09 L180.4,23.91 L180.6,23.73 L180.8,23.55 L181,23.38 L181.2,23.22 L181.4,23.06 L181.6,22.9 L181.8,22.74 L182,22.59 L182.2,22.44 L182.4,22.3 L182.6,22.16 L182.8,22.02 L183,21.89 L183.2,21.76 L183.4,21.63 L183.6,21.51 L183.8,21.39 L184,21.27 L184.2,21.16 L184.4,21.05 L184.6,20.95 L184.8,20.84 L185,20.74 L185.2,20.64 L185.4,20.54 L185.6,20.45 L185.8,20.35 L186,20.26 L186.2,20.17 L186.4,20.09 L186.6,20 L186.8,19.92 L187,19.84 L187.2,19.77 L187.4,19.69 L187.6,19.63 L187.8,19.56 L188,19.5 L188.2,19.44 L188.4,19.38 L188.6,19.33 L188.8,19.27 L189,19.21 L189.2,19.16 L189.4,19.11 L189.6,19.06 L189.8,19.01 L190,18.96 L190.2,18.92 L190.4,18.87 L190.6,18.83 L190.8,18.79 L191,18.75 L191.2,18.72 L191.4,18.68 L191.6,18.65 L191.8,18.63 L192,18.6 L192.2,18.58 L192.4,18.55 L192.6,18.53 L192.8,18.51 L193,18.49 L193.2,18.46 L193.4,18.44 L193.6,18.42 L193.8,18.4 L194,18.38 L194.2,18.36 L194.4,18.34 L194.6,18.32 L194.8,18.3 L195,18.28 L195.2,18.27 L195.4,18.25 L195.6,18.23 L195.8,18.21 L196,18.2 L196.2,18.18 L196.4,18.17 L196.6,18.15 L196.8,18.14 L197,18.13 L197.2,18.11 L197.4,18.1 L197.6,18.09 L197.8,18.08 L198,18.07 L198.2,18.06 L198.4,18.05 L198.6,18.04 L198.8,18.03 L199,18.03 L199.2,18.02 L199.4,18.01 L199.6,18.01 L199.8,18 L200,18 L200.2,18 L200.4,17.99 L200.6,17.99 L200.8,17.99 L201,17.98 L201.2,17.98 L201.4,17.98 L201.6,17.97 L201.8,17.97 L202,17.97 L202.2,17.96 L202.4,17.96 L202.6,17.96 L202.8,17.95 L203,17.95 L203.2,17.95 L203.4,17.95 L203.6,17.94 L203.8,17.94 L204,17.94 L204.2,17.94 L204.4,17.93 L204.6,17.93 L204.8,17.93 L205,17.93 L205.2,17.93 L205.4,17.92 L205.6,17.92 L205.8,17.92 L206,17.92 L206.2,17.92 L206.4,17.91 L206.6,17.91 L206.8,17.91 L207,17.91 L207.2,17.91 L207.4,17.91 L207.6,17.91 L207.8,17.91 L208,17.9 L208.2,17.9 L208.4,17.9 L208.6,17.9 L208.8,17.9 L209,17.9 L209.2,17.9 L209.4,17.9 L209.6,17.9 L209.8,17.9 L210,17.9 L210.2,17.9 L210.4,17.9 L210.6,17.9 L210.8,17.9 L211,17.9 L211.2,17.9 L211.4,17.9 L211.6,17.9 L211.8,17.9 L212,17.9 L212.2,17.9 L212.4,17.9 L212.6,17.9 L212.8,17.9 L213,17.9 L213.2,17.9 L213.4,17.9 L213.6,17.9 L213.8,17.9 L214,17.9 L214.2,17.9 L214.4,17.9 L214.6,17.9 L214.8,17.9 L215,17.9 L215.2,17.9 L215.4,17.9 L215.6,17.9 L215.8,17.9 L216,17.9 L216.2,17.9 L216.4,17.9 L216.6,17.9 L216.8,17.9 L217,17.9 L217.2,17.9 L217.4,17.9 L217.6,17.9 L217.8,17.9 L218,17.9 L218.2,17.9 L218.4,17.9 L218.6,17.9 L218.8,17.9 L219,17.9 L219.2,17.9 L219.4,17.9 L219.6,17.9 L219.8,17.9 L220,17.9 L220.2,17.9 L220.4,17.9 L220.6,17.9 L220.8,17.9 L221,17.9 L221.2,17.9 L221.4,17.9" fill="none" stroke="#F04A50" stroke-width="1.0" stroke-linejoin="round"/>
<circle cx="147.8" cy="149.88" r="2.2" fill="#F04A50"/>
<circle cx="147.6" cy="149.58" r="0.99" fill="#fff" fill-opacity="0.5"/>
<circle cx="151.14" cy="132.05" r="2.2" fill="#F04A50"/>
<circle cx="150.94" cy="131.75" r="0.99" fill="#fff" fill-opacity="0.5"/>
<circle cx="154.48" cy="114.52" r="2.2" fill="#F04A50"/>
<circle cx="154.28" cy="114.22" r="0.99" fill="#fff" fill-opacity="0.5"/>
<circle cx="157.82" cy="98.47" r="2.2" fill="#F04A50"/>
<circle cx="157.62" cy="98.17" r="0.99" fill="#fff" fill-opacity="0.5"/>
<circle cx="161.16" cy="81.64" r="2.2" fill="#F04A50"/>
<circle cx="160.96" cy="81.34" r="0.99" fill="#fff" fill-opacity="0.5"/>
<circle cx="164.5" cy="69.29" r="2.2" fill="#F04A50"/>
<circle cx="164.3" cy="68.99" r="0.99" fill="#fff" fill-opacity="0.5"/>
<circle cx="167.84" cy="55.79" r="2.2" fill="#F04A50"/>
<circle cx="167.64" cy="55.49" r="0.99" fill="#fff" fill-opacity="0.5"/>
<circle cx="171.18" cy="44.77" r="2.2" fill="#F04A50"/>
<circle cx="170.98" cy="44.47" r="0.99" fill="#fff" fill-opacity="0.5"/>
<circle cx="174.52" cy="33.01" r="2.2" fill="#F04A50"/>
<circle cx="174.32" cy="32.71" r="0.99" fill="#fff" fill-opacity="0.5"/>
<circle cx="177.86" cy="26.75" r="2.2" fill="#F04A50"/>
<circle cx="177.66" cy="26.45" r="0.99" fill="#fff" fill-opacity="0.5"/>
<circle cx="181.2" cy="23.22" r="2.2" fill="#F04A50"/>
<circle cx="181" cy="22.92" r="0.99" fill="#fff" fill-opacity="0.5"/>
<circle cx="184.54" cy="20.98" r="2.2" fill="#F04A50"/>
<circle cx="184.34" cy="20.68" r="0.99" fill="#fff" fill-opacity="0.5"/>
<circle cx="187.88" cy="19.54" r="2.2" fill="#F04A50"/>
<circle cx="187.68" cy="19.24" r="0.99" fill="#fff" fill-opacity="0.5"/>
<circle cx="191.22" cy="18.71" r="2.2" fill="#F04A50"/>
<circle cx="191.02" cy="18.41" r="0.99" fill="#fff" fill-opacity="0.5"/>
<circle cx="194.56" cy="18.32" r="2.2" fill="#F04A50"/>
<circle cx="194.36" cy="18.02" r="0.99" fill="#fff" fill-opacity="0.5"/>
<circle cx="197.9" cy="18.07" r="2.2" fill="#F04A50"/>
<circle cx="197.7" cy="17.77" r="0.99" fill="#fff" fill-opacity="0.5"/>
<circle cx="201.24" cy="17.98" r="2.2" fill="#F04A50"/>
<circle cx="201.04" cy="17.68" r="0.99" fill="#fff" fill-opacity="0.5"/>
<circle cx="204.58" cy="17.93" r="2.2" fill="#F04A50"/>
<circle cx="204.38" cy="17.63" r="0.99" fill="#fff" fill-opacity="0.5"/>
<circle cx="207.92" cy="17.9" r="2.2" fill="#F04A50"/>
<circle cx="207.72" cy="17.6" r="0.99" fill="#fff" fill-opacity="0.5"/>
<circle cx="211.26" cy="17.9" r="2.2" fill="#F04A50"/>
<circle cx="211.06" cy="17.6" r="0.99" fill="#fff" fill-opacity="0.5"/>
<circle cx="214.6" cy="17.9" r="2.2" fill="#F04A50"/>
<circle cx="214.4" cy="17.6" r="0.99" fill="#fff" fill-opacity="0.5"/>
<circle cx="217.94" cy="17.9" r="2.2" fill="#F04A50"/>
<circle cx="217.74" cy="17.6" r="0.99" fill="#fff" fill-opacity="0.5"/>
<circle cx="221.28" cy="17.9" r="2.2" fill="#F04A50"/>
<circle cx="221.08" cy="17.6" r="0.99" fill="#fff" fill-opacity="0.5"/>
</g>
<g clip-path="url(#ca)">
<path d="M136.3,158 L136.5,156.38 L136.7,154.78 L136.9,153.22 L137.1,151.72 L137.3,150.31 L137.5,149.01 L137.7,147.85 L137.9,146.84 L138.1,145.99 L138.3,145.23 L138.5,144.53 L138.7,143.88 L138.9,143.28 L139.1,142.72 L139.3,142.19 L139.5,141.69 L139.7,141.21 L139.9,140.75 L140.1,140.29 L140.3,139.84 L140.5,139.39 L140.7,138.92 L140.9,138.44 L141.1,137.93 L141.3,137.39 L141.5,136.82 L141.7,136.2 L141.9,135.54 L142.1,134.85 L142.3,134.14 L142.5,133.4 L142.7,132.64 L142.9,131.86 L143.1,131.07 L143.3,130.28 L143.5,129.48 L143.7,128.68 L143.9,127.88 L144.1,127.1 L144.3,126.32 L144.5,125.56 L144.7,124.82 L144.9,124.1 L145.1,123.4 L145.3,122.72 L145.5,122.05 L145.7,121.38 L145.9,120.73 L146.1,120.08 L146.3,119.44 L146.5,118.8 L146.7,118.16 L146.9,117.52 L147.1,116.88 L147.3,116.23 L147.5,115.59 L147.7,114.93 L147.9,114.26 L148.1,113.59 L148.3,112.9 L148.5,112.2 L148.7,111.5 L148.9,110.79 L149.1,110.08 L149.3,109.37 L149.5,108.64 L149.7,107.92 L149.9,107.19 L150.1,106.45 L150.3,105.71 L150.5,104.97 L150.7,104.22 L150.9,103.47 L151.1,102.71 L151.3,101.95 L151.5,101.18 L151.7,100.41 L151.9,99.63 L152.1,98.83 L152.3,98.02 L152.5,97.21 L152.7,96.38 L152.9,95.55 L153.1,94.72 L153.3,93.9 L153.5,93.07 L153.7,92.25 L153.9,91.43 L154.1,90.63 L154.3,89.84 L154.5,89.06 L154.7,88.3 L154.9,87.56 L155.1,86.83 L155.3,86.11 L155.5,85.41 L155.7,84.71 L155.9,84.03 L156.1,83.34 L156.3,82.66 L156.5,81.98 L156.7,81.3 L156.9,80.62 L157.1,79.93 L157.3,79.23 L157.5,78.52 L157.7,77.81 L157.9,77.07 L158.1,76.32 L158.3,75.55 L158.5,74.76 L158.7,73.96 L158.9,73.14 L159.1,72.32 L159.3,71.49 L159.5,70.66 L159.7,69.83 L159.9,69 L160.1,68.18 L160.3,67.37 L160.5,66.57 L160.7,65.79 L160.9,65.04 L161.1,64.3 L161.3,63.59 L161.5,62.89 L161.7,62.2 L161.9,61.53 L162.1,60.87 L162.3,60.22 L162.5,59.58 L162.7,58.94 L162.9,58.3 L163.1,57.67 L163.3,57.04 L163.5,56.4 L163.7,55.76 L163.9,55.12 L164.1,54.47 L164.3,53.81 L164.5,53.14 L164.7,52.46 L164.9,51.77 L165.1,51.07 L165.3,50.37 L165.5,49.66 L165.7,48.95 L165.9,48.24 L166.1,47.52 L166.3,46.81 L166.5,46.09 L166.7,45.37 L166.9,44.65 L167.1,43.94 L167.3,43.22 L167.5,42.51 L167.7,41.8 L167.9,41.08 L168.1,40.35 L168.3,39.61 L168.5,38.86 L168.7,38.1 L168.9,37.35 L169.1,36.6 L169.3,35.85 L169.5,35.12 L169.7,34.4 L169.9,33.7 L170.1,33.03 L170.3,32.38 L170.5,31.76 L170.7,31.18 L170.9,30.63 L171.1,30.09 L171.3,29.56 L171.5,29.03 L171.7,28.52 L171.9,28.01 L172.1,27.52 L172.3,27.04 L172.5,26.58 L172.7,26.14 L172.9,25.72 L173.1,25.31 L173.3,24.93 L173.5,24.58 L173.7,24.25 L173.9,23.94 L174.1,23.66 L174.3,23.4 L174.5,23.14 L174.7,22.9 L174.9,22.66 L175.1,22.44 L175.3,22.22 L175.5,22.02 L175.7,21.82 L175.9,21.63 L176.1,21.45 L176.3,21.28 L176.5,21.11 L176.7,20.96 L176.9,20.81 L177.1,20.67 L177.3,20.53 L177.5,20.4 L177.7,20.28 L177.9,20.16 L178.1,20.04 L178.3,19.93 L178.5,19.82 L178.7,19.71 L178.9,19.61 L179.1,19.52 L179.3,19.43 L179.5,19.34 L179.7,19.26 L179.9,19.18 L180.1,19.1 L180.3,19.03 L180.5,18.97 L180.7,18.9 L180.9,18.84 L181.1,18.78 L181.3,18.71 L181.5,18.65 L181.7,18.59 L181.9,18.53 L182.1,18.48 L182.3,18.43 L182.5,18.38 L182.7,18.33 L182.9,18.28 L183.1,18.24 L183.3,18.21 L183.5,18.18 L183.7,18.15 L183.9,18.13 L184.1,18.11 L184.3,18.09 L184.5,18.08 L184.7,18.07 L184.9,18.06 L185.1,18.05 L185.3,18.04 L185.5,18.02 L185.7,18.01 L185.9,18 L186.1,18 L186.3,17.99 L186.5,17.98 L186.7,17.97 L186.9,17.96 L187.1,17.95 L187.3,17.95 L187.5,17.94 L187.7,17.93 L187.9,17.93 L188.1,17.92 L188.3,17.92 L188.5,17.91 L188.7,17.91 L188.9,17.91 L189.1,17.91 L189.3,17.9 L189.5,17.9 L189.7,17.9 L189.9,17.9 L190.1,17.9 L190.3,17.9 L190.5,17.9 L190.7,17.9 L190.9,17.9 L191.1,17.9 L191.3,17.9 L191.5,17.9 L191.7,17.9 L191.9,17.9 L192.1,17.9 L192.3,17.9 L192.5,17.9 L192.7,17.9 L192.9,17.9 L193.1,17.9 L193.3,17.9 L193.5,17.9 L193.7,17.9 L193.9,17.9 L194.1,17.9 L194.3,17.9 L194.5,17.9 L194.7,17.9 L194.9,17.9 L195.1,17.9 L195.3,17.9 L195.5,17.9 L195.7,17.9 L195.9,17.9 L196.1,17.9 L196.3,17.9 L196.5,17.9 L196.7,17.9 L196.9,17.9 L197.1,17.9 L197.3,17.9 L197.5,17.9 L197.7,17.9 L197.9,17.9 L198.1,17.9 L198.3,17.9 L198.5,17.9 L198.7,17.9 L198.9,17.9 L199.1,17.9 L199.3,17.9 L199.5,17.9 L199.7,17.9 L199.9,17.9 L200.1,17.9 L200.3,17.9 L200.5,17.9 L200.7,17.9 L200.9,17.9 L201.1,17.9 L201.3,17.9 L201.5,17.9 L201.7,17.9 L201.9,17.9 L202.1,17.9 L202.3,17.9 L202.5,17.9 L202.7,17.9 L202.9,17.9 L203.1,17.9 L203.3,17.9 L203.5,17.9 L203.7,17.9 L203.9,17.9 L204.1,17.9 L204.3,17.9 L204.5,17.9 L204.7,17.9 L204.9,17.9 L205.1,17.9 L205.3,17.9 L205.5,17.9 L205.7,17.9 L205.9,17.9 L206.1,17.9 L206.3,17.9 L206.5,17.9 L206.7,17.9 L206.9,17.9 L207.1,17.9 L207.3,17.9 L207.5,17.9 L207.7,17.9 L207.9,17.9 L208.1,17.9 L208.3,17.9 L208.5,17.9 L208.7,17.9 L208.9,17.9 L209.1,17.9 L209.3,17.9 L209.5,17.9 L209.7,17.9 L209.9,17.9 L210.1,17.9 L210.3,17.9 L210.5,17.9 L210.7,17.9 L210.9,17.9 L211.1,17.9 L211.3,17.9 L211.5,17.9 L211.7,17.9 L211.9,17.9 L212.1,17.9 L212.3,17.9 L212.5,17.9 L212.7,17.9 L212.9,17.9 L213.1,17.9 L213.3,17.9 L213.5,17.9 L213.7,17.9 L213.9,17.9 L214.1,17.9 L214.3,17.9 L214.5,17.9 L214.7,17.9 L214.9,17.9 L215.1,17.9 L215.3,17.9 L215.5,17.9 L215.7,17.9 L215.9,17.9 L216.1,17.9 L216.3,17.9 L216.5,17.9 L216.7,17.9 L216.9,17.9 L217.1,17.9 L217.3,17.9 L217.5,17.9 L217.7,17.9 L217.9,17.9 L218.1,17.9 L218.3,17.9 L218.5,17.9 L218.7,17.9 L218.9,17.9 L219.1,17.9 L219.3,17.9 L219.5,17.9 L219.7,17.9 L219.9,17.9 L220.1,17.9 L220.3,17.9 L220.5,17.9 L220.7,17.9 L220.9,17.9 L221.1,17.9 L221.3,17.9 L221.5,17.9" fill="none" stroke="#6E6E6E" stroke-width="1.0" stroke-linejoin="round"/>
<circle cx="138.2" cy="145.6" r="2.2" fill="#6E6E6E"/>
<circle cx="138" cy="145.3" r="0.99" fill="#fff" fill-opacity="0.5"/>
<circle cx="141.49" cy="136.85" r="2.2" fill="#6E6E6E"/>
<circle cx="141.29" cy="136.55" r="0.99" fill="#fff" fill-opacity="0.5"/>
<circle cx="144.78" cy="124.53" r="2.2" fill="#6E6E6E"/>
<circle cx="144.58" cy="124.23" r="0.99" fill="#fff" fill-opacity="0.5"/>
<circle cx="148.07" cy="113.69" r="2.2" fill="#6E6E6E"/>
<circle cx="147.87" cy="113.39" r="0.99" fill="#fff" fill-opacity="0.5"/>
<circle cx="151.36" cy="101.72" r="2.2" fill="#6E6E6E"/>
<circle cx="151.16" cy="101.42" r="0.99" fill="#fff" fill-opacity="0.5"/>
<circle cx="154.65" cy="88.49" r="2.2" fill="#6E6E6E"/>
<circle cx="154.45" cy="88.19" r="0.99" fill="#fff" fill-opacity="0.5"/>
<circle cx="157.94" cy="76.92" r="2.2" fill="#6E6E6E"/>
<circle cx="157.74" cy="76.62" r="0.99" fill="#fff" fill-opacity="0.5"/>
<circle cx="161.23" cy="63.83" r="2.2" fill="#6E6E6E"/>
<circle cx="161.03" cy="63.53" r="0.99" fill="#fff" fill-opacity="0.5"/>
<circle cx="164.52" cy="53.07" r="2.2" fill="#6E6E6E"/>
<circle cx="164.32" cy="52.77" r="0.99" fill="#fff" fill-opacity="0.5"/>
<circle cx="167.81" cy="41.41" r="2.2" fill="#6E6E6E"/>
<circle cx="167.61" cy="41.11" r="0.99" fill="#fff" fill-opacity="0.5"/>
<circle cx="171.1" cy="30.09" r="2.2" fill="#6E6E6E"/>
<circle cx="170.9" cy="29.79" r="0.99" fill="#fff" fill-opacity="0.5"/>
<circle cx="174.39" cy="23.28" r="2.2" fill="#6E6E6E"/>
<circle cx="174.19" cy="22.98" r="0.99" fill="#fff" fill-opacity="0.5"/>
<circle cx="177.68" cy="20.29" r="2.2" fill="#6E6E6E"/>
<circle cx="177.48" cy="19.99" r="0.99" fill="#fff" fill-opacity="0.5"/>
<circle cx="180.97" cy="18.82" r="2.2" fill="#6E6E6E"/>
<circle cx="180.77" cy="18.52" r="0.99" fill="#fff" fill-opacity="0.5"/>
<circle cx="184.26" cy="18.1" r="2.2" fill="#6E6E6E"/>
<circle cx="184.06" cy="17.8" r="0.99" fill="#fff" fill-opacity="0.5"/>
<circle cx="187.55" cy="17.94" r="2.2" fill="#6E6E6E"/>
<circle cx="187.35" cy="17.64" r="0.99" fill="#fff" fill-opacity="0.5"/>
<circle cx="190.84" cy="17.9" r="2.2" fill="#6E6E6E"/>
<circle cx="190.64" cy="17.6" r="0.99" fill="#fff" fill-opacity="0.5"/>
<circle cx="194.13" cy="17.9" r="2.2" fill="#6E6E6E"/>
<circle cx="193.93" cy="17.6" r="0.99" fill="#fff" fill-opacity="0.5"/>
<circle cx="197.42" cy="17.9" r="2.2" fill="#6E6E6E"/>
<circle cx="197.22" cy="17.6" r="0.99" fill="#fff" fill-opacity="0.5"/>
<circle cx="200.71" cy="17.9" r="2.2" fill="#6E6E6E"/>
<circle cx="200.51" cy="17.6" r="0.99" fill="#fff" fill-opacity="0.5"/>
<circle cx="204" cy="17.9" r="2.2" fill="#6E6E6E"/>
<circle cx="203.8" cy="17.6" r="0.99" fill="#fff" fill-opacity="0.5"/>
<circle cx="207.29" cy="17.9" r="2.2" fill="#6E6E6E"/>
<circle cx="207.09" cy="17.6" r="0.99" fill="#fff" fill-opacity="0.5"/>
<circle cx="210.58" cy="17.9" r="2.2" fill="#6E6E6E"/>
<circle cx="210.38" cy="17.6" r="0.99" fill="#fff" fill-opacity="0.5"/>
<circle cx="213.87" cy="17.9" r="2.2" fill="#6E6E6E"/>
<circle cx="213.67" cy="17.6" r="0.99" fill="#fff" fill-opacity="0.5"/>
<circle cx="217.16" cy="17.9" r="2.2" fill="#6E6E6E"/>
<circle cx="216.96" cy="17.6" r="0.99" fill="#fff" fill-opacity="0.5"/>
<circle cx="220.45" cy="17.9" r="2.2" fill="#6E6E6E"/>
<circle cx="220.25" cy="17.6" r="0.99" fill="#fff" fill-opacity="0.5"/>
</g>
<line x1="37.5" y1="9" x2="221" y2="9" stroke="#1a1a1a" stroke-width="1" stroke-linecap="square"/>
<line x1="37.5" y1="153.5" x2="221" y2="153.5" stroke="#333" stroke-width="1" stroke-linecap="square"/>
<line x1="37.5" y1="9" x2="37.5" y2="153.5" stroke="#333" stroke-width="1" stroke-linecap="square"/>
<line x1="221" y1="9" x2="221" y2="153.5" stroke="#1a1a1a" stroke-width="1" stroke-linecap="square"/>
<line x1="34.5" y1="16.6" x2="37.5" y2="16.6" stroke="#333333" stroke-width="1"/>
<text x="33.85" y="20.3" font-size="10.3" text-anchor="end" fill="#1a1a1a" letter-spacing="0.35">0</text>
<line x1="34.5" y1="59.8" x2="37.5" y2="59.8" stroke="#333333" stroke-width="1"/>
<text x="33.85" y="63.5" font-size="10.3" text-anchor="end" fill="#1a1a1a" letter-spacing="0.35">-30</text>
<line x1="34.5" y1="103" x2="37.5" y2="103" stroke="#333333" stroke-width="1"/>
<text x="33.85" y="106.7" font-size="10.3" text-anchor="end" fill="#1a1a1a" letter-spacing="0.35">-60</text>
<line x1="34.5" y1="146.2" x2="37.5" y2="146.2" stroke="#333333" stroke-width="1"/>
<text x="33.85" y="149.9" font-size="10.3" text-anchor="end" fill="#1a1a1a" letter-spacing="0.35">-90</text>
<line x1="37.5" y1="153.5" x2="37.5" y2="156.5" stroke="#333333" stroke-width="1"/>
<text x="37.67" y="166.5" font-size="10.3" text-anchor="middle" fill="#1a1a1a" letter-spacing="0.35">-0.4</text>
<line x1="74.2" y1="153.5" x2="74.2" y2="156.5" stroke="#333333" stroke-width="1"/>
<text x="74.37" y="166.5" font-size="10.3" text-anchor="middle" fill="#1a1a1a" letter-spacing="0.35">-0.3</text>
<line x1="110.9" y1="153.5" x2="110.9" y2="156.5" stroke="#333333" stroke-width="1"/>
<text x="111.07" y="166.5" font-size="10.3" text-anchor="middle" fill="#1a1a1a" letter-spacing="0.35">-0.2</text>
<line x1="147.6" y1="153.5" x2="147.6" y2="156.5" stroke="#333333" stroke-width="1"/>
<text x="147.77" y="166.5" font-size="10.3" text-anchor="middle" fill="#1a1a1a" letter-spacing="0.35">-0.1</text>
<line x1="184.3" y1="153.5" x2="184.3" y2="156.5" stroke="#333333" stroke-width="1"/>
<text x="184.47" y="166.5" font-size="10.3" text-anchor="middle" fill="#1a1a1a" letter-spacing="0.35">0.0</text>
<line x1="221" y1="153.5" x2="221" y2="156.5" stroke="#333333" stroke-width="1"/>
<text x="221.17" y="166.5" font-size="10.3" text-anchor="middle" fill="#1a1a1a" letter-spacing="0.35">0.1</text>
<text x="128.8" y="182.3" font-size="13.5" text-anchor="middle" fill="#000" >E-<tspan font-style="italic">iR</tspan> (V vs. RHE)</text>
<text transform="translate(13.4,81.7) rotate(-90)" font-size="13.6" text-anchor="middle" fill="#000">J (mA cm<tspan font-size="9.52" baseline-shift="4.9">-2</tspan>)</text>
<line x1="41.8" y1="16.1" x2="55.5" y2="16.1" stroke="#F04A50" stroke-width="1"/>
<circle cx="48.7" cy="16.1" r="2.2" fill="#F04A50"/>
<circle cx="48.5" cy="15.8" r="0.99" fill="#fff" fill-opacity="0.5"/>
<text x="59" y="19" font-size="9.35" text-anchor="start" fill="#1a1a1a" >β-PdHene</text>
<line x1="41.8" y1="28.17" x2="55.5" y2="28.17" stroke="#3DB470" stroke-width="1"/>
<circle cx="48.7" cy="28.17" r="2.2" fill="#3DB470"/>
<circle cx="48.5" cy="27.87" r="0.99" fill="#fff" fill-opacity="0.5"/>
<text x="59" y="31.07" font-size="9.35" text-anchor="start" fill="#1a1a1a" >Mixed-phase PdHene</text>
<line x1="41.8" y1="40.24" x2="55.5" y2="40.24" stroke="#1AA2F0" stroke-width="1"/>
<circle cx="48.7" cy="40.24" r="2.2" fill="#1AA2F0"/>
<circle cx="48.5" cy="39.94" r="0.99" fill="#fff" fill-opacity="0.5"/>
<text x="59" y="43.14" font-size="9.35" text-anchor="start" fill="#1a1a1a" >α-PdHene</text>
<line x1="41.8" y1="52.31" x2="55.5" y2="52.31" stroke="#6E6E6E" stroke-width="1"/>
<circle cx="48.7" cy="52.31" r="2.2" fill="#6E6E6E"/>
<circle cx="48.5" cy="52.01" r="0.99" fill="#fff" fill-opacity="0.5"/>
<text x="59" y="55.21" font-size="9.35" text-anchor="start" fill="#1a1a1a" >Pt/C</text>
<line x1="41.8" y1="64.38" x2="55.5" y2="64.38" stroke="#F2B430" stroke-width="1"/>
<circle cx="48.7" cy="64.38" r="2.2" fill="#F2B430"/>
<circle cx="48.5" cy="64.08" r="0.99" fill="#fff" fill-opacity="0.5"/>
<text x="59" y="67.28" font-size="9.35" text-anchor="start" fill="#1a1a1a" >Pdene</text>
<text x="227" y="14.8" font-size="21" text-anchor="start" fill="#000" >b</text>
<rect x="263.6" y="134.45" width="15" height="18.05" fill="url(#g0)" stroke="#4a4a4a" stroke-width="0.7"/>
<line x1="271.1" y1="132.83" x2="271.1" y2="136.07" stroke="#444" stroke-width="0.6"/>
<line x1="269.3" y1="132.83" x2="272.9" y2="132.83" stroke="#444" stroke-width="0.6"/>
<line x1="269.3" y1="136.07" x2="272.9" y2="136.07" stroke="#444" stroke-width="0.6"/>
<rect x="278.6" y="93.21" width="14.7" height="59.29" fill="url(#g1)" stroke="#4a4a4a" stroke-width="0.7"/>
<line x1="285.95" y1="92.84" x2="285.95" y2="93.57" stroke="#444" stroke-width="0.6"/>
<line x1="284.15" y1="92.84" x2="287.75" y2="92.84" stroke="#444" stroke-width="0.6"/>
<line x1="284.15" y1="93.57" x2="287.75" y2="93.57" stroke="#444" stroke-width="0.6"/>
<rect x="300.6" y="123.62" width="14.7" height="28.88" fill="url(#g2)" stroke="#4a4a4a" stroke-width="0.7"/>
<line x1="307.95" y1="120.46" x2="307.95" y2="126.78" stroke="#444" stroke-width="0.6"/>
<line x1="306.15" y1="120.46" x2="309.75" y2="120.46" stroke="#444" stroke-width="0.6"/>
<line x1="306.15" y1="126.78" x2="309.75" y2="126.78" stroke="#444" stroke-width="0.6"/>
<rect x="315.3" y="73.53" width="14.7" height="78.97" fill="url(#g3)" stroke="#4a4a4a" stroke-width="0.7"/>
<line x1="322.65" y1="67.21" x2="322.65" y2="79.85" stroke="#444" stroke-width="0.6"/>
<line x1="320.85" y1="67.21" x2="324.45" y2="67.21" stroke="#444" stroke-width="0.6"/>
<line x1="320.85" y1="79.85" x2="324.45" y2="79.85" stroke="#444" stroke-width="0.6"/>
<rect x="336.7" y="120.01" width="14.5" height="32.49" fill="url(#g4)" stroke="#4a4a4a" stroke-width="0.7"/>
<line x1="343.95" y1="118.57" x2="343.95" y2="121.45" stroke="#444" stroke-width="0.6"/>
<line x1="342.15" y1="118.57" x2="345.75" y2="118.57" stroke="#444" stroke-width="0.6"/>
<line x1="342.15" y1="121.45" x2="345.75" y2="121.45" stroke="#444" stroke-width="0.6"/>
<rect x="351.2" y="67.39" width="15" height="85.11" fill="url(#g5)" stroke="#4a4a4a" stroke-width="0.7"/>
<line x1="358.7" y1="64.24" x2="358.7" y2="70.55" stroke="#444" stroke-width="0.6"/>
<line x1="356.9" y1="64.24" x2="360.5" y2="64.24" stroke="#444" stroke-width="0.6"/>
<line x1="356.9" y1="70.55" x2="360.5" y2="70.55" stroke="#444" stroke-width="0.6"/>
<rect x="373.6" y="105.84" width="14.9" height="46.66" fill="url(#g6)" stroke="#4a4a4a" stroke-width="0.7"/>
<line x1="381.05" y1="103.67" x2="381.05" y2="108.01" stroke="#444" stroke-width="0.6"/>
<line x1="379.25" y1="103.67" x2="382.85" y2="103.67" stroke="#444" stroke-width="0.6"/>
<line x1="379.25" y1="108.01" x2="382.85" y2="108.01" stroke="#444" stroke-width="0.6"/>
<rect x="388.5" y="44.02" width="14.5" height="108.48" fill="url(#g7)" stroke="#4a4a4a" stroke-width="0.7"/>
<line x1="395.75" y1="40.23" x2="395.75" y2="47.81" stroke="#444" stroke-width="0.6"/>
<line x1="393.95" y1="40.23" x2="397.55" y2="40.23" stroke="#444" stroke-width="0.6"/>
<line x1="393.95" y1="47.81" x2="397.55" y2="47.81" stroke="#444" stroke-width="0.6"/>
<rect x="410.9" y="101.42" width="14.3" height="51.08" fill="url(#g8)" stroke="#4a4a4a" stroke-width="0.7"/>
<line x1="418.05" y1="99.16" x2="418.05" y2="103.67" stroke="#444" stroke-width="0.6"/>
<line x1="416.25" y1="99.16" x2="419.85" y2="99.16" stroke="#444" stroke-width="0.6"/>
<line x1="416.25" y1="103.67" x2="419.85" y2="103.67" stroke="#444" stroke-width="0.6"/>
<rect x="425.2" y="34.18" width="14.6" height="118.32" fill="url(#g9)" stroke="#4a4a4a" stroke-width="0.7"/>
<line x1="432.5" y1="28.77" x2="432.5" y2="39.6" stroke="#444" stroke-width="0.6"/>
<line x1="430.7" y1="28.77" x2="434.3" y2="28.77" stroke="#444" stroke-width="0.6"/>
<line x1="430.7" y1="39.6" x2="434.3" y2="39.6" stroke="#444" stroke-width="0.6"/>
<line x1="260" y1="8" x2="443.5" y2="8" stroke="#1a1a1a" stroke-width="1" stroke-linecap="square"/>
<line x1="260" y1="152.5" x2="443.5" y2="152.5" stroke="#333" stroke-width="1" stroke-linecap="square"/>
<line x1="260" y1="8" x2="260" y2="152.5" stroke="#1a1a1a" stroke-width="1" stroke-linecap="square"/>
<line x1="443.5" y1="8" x2="443.5" y2="152.5" stroke="#333" stroke-width="1" stroke-linecap="square"/>
<line x1="257" y1="152.5" x2="260" y2="152.5" stroke="#444" stroke-width="1"/>
<text x="255.85" y="156.2" font-size="10.3" text-anchor="end" fill="#1a1a1a" letter-spacing="0.35">0</text>
<line x1="258" y1="134.45" x2="260" y2="134.45" stroke="#444" stroke-width="1"/>
<line x1="257" y1="116.4" x2="260" y2="116.4" stroke="#444" stroke-width="1"/>
<text x="255.85" y="120.1" font-size="10.3" text-anchor="end" fill="#1a1a1a" letter-spacing="0.35">40</text>
<line x1="258" y1="98.35" x2="260" y2="98.35" stroke="#444" stroke-width="1"/>
<line x1="257" y1="80.3" x2="260" y2="80.3" stroke="#444" stroke-width="1"/>
<text x="255.85" y="84" font-size="10.3" text-anchor="end" fill="#1a1a1a" letter-spacing="0.35">80</text>
<line x1="258" y1="62.25" x2="260" y2="62.25" stroke="#444" stroke-width="1"/>
<line x1="257" y1="44.2" x2="260" y2="44.2" stroke="#444" stroke-width="1"/>
<text x="255.85" y="47.9" font-size="10.3" text-anchor="end" fill="#1a1a1a" letter-spacing="0.35">120</text>
<line x1="258" y1="26.15" x2="260" y2="26.15" stroke="#444" stroke-width="1"/>
<line x1="257" y1="8.1" x2="260" y2="8.1" stroke="#444" stroke-width="1"/>
<text x="255.85" y="11.8" font-size="10.3" text-anchor="end" fill="#1a1a1a" letter-spacing="0.35">160</text>
<text transform="translate(278,167) rotate(-20)" font-size="8.6" text-anchor="middle" dominant-baseline="central" fill="#1a1a1a">β-PdHene</text>
<text transform="translate(314.6,166.8) rotate(-20)" font-size="8.6" text-anchor="middle" dominant-baseline="central" fill="#1a1a1a">Pt/C</text>
<text transform="translate(346.7,170.9) rotate(-20)" font-size="8.6" text-anchor="middle" dominant-baseline="central" fill="#1a1a1a">Mixed-phase PdHene</text>
<text transform="translate(387.8,166.5) rotate(-20)" font-size="8.6" text-anchor="middle" dominant-baseline="central" fill="#1a1a1a">α-PdHene</text>
<text transform="translate(424.8,166) rotate(-20)" font-size="8.6" text-anchor="middle" dominant-baseline="central" fill="#1a1a1a">PdHene</text>
<text transform="translate(233.1,79.8) rotate(-90)" font-size="13.3" text-anchor="middle" fill="#000">Overpotential (mV)</text>
<rect x="264.2" y="14.6" width="14.6" height="6.8" fill="url(#lg1)" stroke="#555" stroke-width="0.6"/>
<rect x="264.2" y="27.2" width="14.6" height="6.8" fill="url(#lg2)" stroke="#555" stroke-width="0.6"/>
<text x="282" y="21.1" font-size="9.3" text-anchor="start" fill="#1a1a1a" >10 mA cm<tspan font-size="6.51" baseline-shift="3.35">-2</tspan></text>
<text x="282" y="33.7" font-size="9.3" text-anchor="start" fill="#1a1a1a" >50 mA cm<tspan font-size="6.51" baseline-shift="3.35">-2</tspan></text>
<text x="456" y="13.6" font-size="21" text-anchor="start" fill="#000" >c</text>
<line x1="495" y1="8.5" x2="678.5" y2="8.5" stroke="#333" stroke-width="1" stroke-linecap="square"/>
<line x1="495" y1="152.5" x2="678.5" y2="152.5" stroke="#333" stroke-width="1" stroke-linecap="square"/>
<line x1="495" y1="8.5" x2="495" y2="152.5" stroke="#1a1a1a" stroke-width="1" stroke-linecap="square"/>
<line x1="678.5" y1="8.5" x2="678.5" y2="152.5" stroke="#333" stroke-width="1" stroke-linecap="square"/>
<line x1="492" y1="152.5" x2="495" y2="152.5" stroke="#333333" stroke-width="1"/>
<text x="490.85" y="156.2" font-size="10.3" text-anchor="end" fill="#1a1a1a" letter-spacing="0.35">0.00</text>
<line x1="492" y1="104.5" x2="495" y2="104.5" stroke="#333333" stroke-width="1"/>
<text x="490.85" y="108.2" font-size="10.3" text-anchor="end" fill="#1a1a1a" letter-spacing="0.35">0.02</text>
<line x1="492" y1="56.5" x2="495" y2="56.5" stroke="#333333" stroke-width="1"/>
<text x="490.85" y="60.2" font-size="10.3" text-anchor="end" fill="#1a1a1a" letter-spacing="0.35">0.04</text>
<line x1="492" y1="8.5" x2="495" y2="8.5" stroke="#333333" stroke-width="1"/>
<text x="490.85" y="12.2" font-size="10.3" text-anchor="end" fill="#1a1a1a" letter-spacing="0.35">0.06</text>
<line x1="521.21" y1="152.5" x2="521.21" y2="155.5" stroke="#333333" stroke-width="1"/>
<text x="521.38" y="165.5" font-size="10.3" text-anchor="middle" fill="#1a1a1a" letter-spacing="0.35">0.6</text>
<line x1="573.64" y1="152.5" x2="573.64" y2="155.5" stroke="#333333" stroke-width="1"/>
<text x="573.81" y="165.5" font-size="10.3" text-anchor="middle" fill="#1a1a1a" letter-spacing="0.35">0.8</text>
<line x1="626.07" y1="152.5" x2="626.07" y2="155.5" stroke="#333333" stroke-width="1"/>
<text x="626.24" y="165.5" font-size="10.3" text-anchor="middle" fill="#1a1a1a" letter-spacing="0.35">1.0</text>
<line x1="678.5" y1="152.5" x2="678.5" y2="155.5" stroke="#333333" stroke-width="1"/>
<text x="678.67" y="165.5" font-size="10.3" text-anchor="middle" fill="#1a1a1a" letter-spacing="0.35">1.2</text>
<text x="586.7" y="179.7" font-size="13.5" text-anchor="middle" fill="#000" >log (<tspan font-style="italic">J</tspan> / mA cm<tspan font-size="9.45" baseline-shift="4.86">-2</tspan>)</text>
<text transform="translate(462.0,80.0) rotate(-90)" font-size="13.3" text-anchor="middle" fill="#000">Overpotential (V)</text>
<path d="M509.9,111.8 L516.04,109.38 L522.18,106.96 L528.32,104.54 L534.46,102.12 L540.6,99.7 L546.74,97.28 L552.88,94.86 L559.02,92.44 L565.16,90.02 L571.3,87.6" fill="none" stroke="#6E6E6E" stroke-width="1"/>
<circle cx="509.9" cy="111.8" r="2.2" fill="#6E6E6E"/>
<circle cx="509.7" cy="111.5" r="0.99" fill="#fff" fill-opacity="0.5"/>
<circle cx="516.04" cy="109.38" r="2.2" fill="#6E6E6E"/>
<circle cx="515.84" cy="109.08" r="0.99" fill="#fff" fill-opacity="0.5"/>
<circle cx="522.18" cy="106.96" r="2.2" fill="#6E6E6E"/>
<circle cx="521.98" cy="106.66" r="0.99" fill="#fff" fill-opacity="0.5"/>
<circle cx="528.32" cy="104.54" r="2.2" fill="#6E6E6E"/>
<circle cx="528.12" cy="104.24" r="0.99" fill="#fff" fill-opacity="0.5"/>
<circle cx="534.46" cy="102.12" r="2.2" fill="#6E6E6E"/>
<circle cx="534.26" cy="101.82" r="0.99" fill="#fff" fill-opacity="0.5"/>
<circle cx="540.6" cy="99.7" r="2.2" fill="#6E6E6E"/>
<circle cx="540.4" cy="99.4" r="0.99" fill="#fff" fill-opacity="0.5"/>
<circle cx="546.74" cy="97.28" r="2.2" fill="#6E6E6E"/>
<circle cx="546.54" cy="96.98" r="0.99" fill="#fff" fill-opacity="0.5"/>
<circle cx="552.88" cy="94.86" r="2.2" fill="#6E6E6E"/>
<circle cx="552.68" cy="94.56" r="0.99" fill="#fff" fill-opacity="0.5"/>
<circle cx="559.02" cy="92.44" r="2.2" fill="#6E6E6E"/>
<circle cx="558.82" cy="92.14" r="0.99" fill="#fff" fill-opacity="0.5"/>
<circle cx="565.16" cy="90.02" r="2.2" fill="#6E6E6E"/>
<circle cx="564.96" cy="89.72" r="0.99" fill="#fff" fill-opacity="0.5"/>
<circle cx="571.3" cy="87.6" r="2.2" fill="#6E6E6E"/>
<circle cx="571.1" cy="87.3" r="0.99" fill="#fff" fill-opacity="0.5"/>
<path d="M562.8,121.1 L569.62,118.69 L576.45,116.28 L583.27,113.88 L590.1,111.47 L596.92,109.06 L603.75,106.65 L610.58,104.24 L617.4,101.83 L624.23,99.42 L631.05,97.02 L637.88,94.61 L644.7,92.2" fill="none" stroke="#F04A50" stroke-width="1"/>
<circle cx="562.8" cy="121.1" r="2.2" fill="#F04A50"/>
<circle cx="562.6" cy="120.8" r="0.99" fill="#fff" fill-opacity="0.5"/>
<circle cx="569.62" cy="118.69" r="2.2" fill="#F04A50"/>
<circle cx="569.42" cy="118.39" r="0.99" fill="#fff" fill-opacity="0.5"/>
<circle cx="576.45" cy="116.28" r="2.2" fill="#F04A50"/>
<circle cx="576.25" cy="115.98" r="0.99" fill="#fff" fill-opacity="0.5"/>
<circle cx="583.27" cy="113.88" r="2.2" fill="#F04A50"/>
<circle cx="583.07" cy="113.58" r="0.99" fill="#fff" fill-opacity="0.5"/>
<circle cx="590.1" cy="111.47" r="2.2" fill="#F04A50"/>
<circle cx="589.9" cy="111.17" r="0.99" fill="#fff" fill-opacity="0.5"/>
<circle cx="596.92" cy="109.06" r="2.2" fill="#F04A50"/>
<circle cx="596.72" cy="108.76" r="0.99" fill="#fff" fill-opacity="0.5"/>
<circle cx="603.75" cy="106.65" r="2.2" fill="#F04A50"/>
<circle cx="603.55" cy="106.35" r="0.99" fill="#fff" fill-opacity="0.5"/>
<circle cx="610.58" cy="104.24" r="2.2" fill="#F04A50"/>
<circle cx="610.38" cy="103.94" r="0.99" fill="#fff" fill-opacity="0.5"/>
<circle cx="617.4" cy="101.83" r="2.2" fill="#F04A50"/>
<circle cx="617.2" cy="101.53" r="0.99" fill="#fff" fill-opacity="0.5"/>
<circle cx="624.23" cy="99.42" r="2.2" fill="#F04A50"/>
<circle cx="624.02" cy="99.12" r="0.99" fill="#fff" fill-opacity="0.5"/>
<circle cx="631.05" cy="97.02" r="2.2" fill="#F04A50"/>
<circle cx="630.85" cy="96.72" r="0.99" fill="#fff" fill-opacity="0.5"/>
<circle cx="637.88" cy="94.61" r="2.2" fill="#F04A50"/>
<circle cx="637.67" cy="94.31" r="0.99" fill="#fff" fill-opacity="0.5"/>
<circle cx="644.7" cy="92.2" r="2.2" fill="#F04A50"/>
<circle cx="644.5" cy="91.9" r="0.99" fill="#fff" fill-opacity="0.5"/>
<path d="M567.5,91 L572.9,88.5 L578.3,86 L583.7,83.5 L589.1,81 L594.5,78.5 L599.9,76 L605.3,73.5 L610.7,71 L616.1,68.5 L621.5,66 L626.9,63.5 L632.3,61 L637.7,58.5 L643.1,56" fill="none" stroke="#3DB470" stroke-width="1"/>
<circle cx="567.5" cy="91" r="2.2" fill="#3DB470"/>
<circle cx="567.3" cy="90.7" r="0.99" fill="#fff" fill-opacity="0.5"/>
<circle cx="572.9" cy="88.5" r="2.2" fill="#3DB470"/>
<circle cx="572.7" cy="88.2" r="0.99" fill="#fff" fill-opacity="0.5"/>
<circle cx="578.3" cy="86" r="2.2" fill="#3DB470"/>
<circle cx="578.1" cy="85.7" r="0.99" fill="#fff" fill-opacity="0.5"/>
<circle cx="583.7" cy="83.5" r="2.2" fill="#3DB470"/>
<circle cx="583.5" cy="83.2" r="0.99" fill="#fff" fill-opacity="0.5"/>
<circle cx="589.1" cy="81" r="2.2" fill="#3DB470"/>
<circle cx="588.9" cy="80.7" r="0.99" fill="#fff" fill-opacity="0.5"/>
<circle cx="594.5" cy="78.5" r="2.2" fill="#3DB470"/>
<circle cx="594.3" cy="78.2" r="0.99" fill="#fff" fill-opacity="0.5"/>
<circle cx="599.9" cy="76" r="2.2" fill="#3DB470"/>
<circle cx="599.7" cy="75.7" r="0.99" fill="#fff" fill-opacity="0.5"/>
<circle cx="605.3" cy="73.5" r="2.2" fill="#3DB470"/>
<circle cx="605.1" cy="73.2" r="0.99" fill="#fff" fill-opacity="0.5"/>
<circle cx="610.7" cy="71" r="2.2" fill="#3DB470"/>
<circle cx="610.5" cy="70.7" r="0.99" fill="#fff" fill-opacity="0.5"/>
<circle cx="616.1" cy="68.5" r="2.2" fill="#3DB470"/>
<circle cx="615.9" cy="68.2" r="0.99" fill="#fff" fill-opacity="0.5"/>
<circle cx="621.5" cy="66" r="2.2" fill="#3DB470"/>
<circle cx="621.3" cy="65.7" r="0.99" fill="#fff" fill-opacity="0.5"/>
<circle cx="626.9" cy="63.5" r="2.2" fill="#3DB470"/>
<circle cx="626.7" cy="63.2" r="0.99" fill="#fff" fill-opacity="0.5"/>
<circle cx="632.3" cy="61" r="2.2" fill="#3DB470"/>
<circle cx="632.1" cy="60.7" r="0.99" fill="#fff" fill-opacity="0.5"/>
<circle cx="637.7" cy="58.5" r="2.2" fill="#3DB470"/>
<circle cx="637.5" cy="58.2" r="0.99" fill="#fff" fill-opacity="0.5"/>
<circle cx="643.1" cy="56" r="2.2" fill="#3DB470"/>
<circle cx="642.9" cy="55.7" r="0.99" fill="#fff" fill-opacity="0.5"/>
<path d="M568,93 L571.06,90.54 L574.11,88.08 L577.17,85.63 L580.22,83.2 L583.28,80.8 L586.34,78.42 L589.39,76.07 L592.45,73.76 L595.5,71.49 L598.56,69.27 L601.62,67.09 L604.67,64.95 L607.73,62.86 L610.78,60.82 L613.84,58.83 L616.9,56.88 L619.95,54.97 L623.01,53.1 L626.06,51.27 L629.12,49.48 L632.18,47.71 L635.23,45.96 L638.29,44.23 L641.34,42.51 L644.4,40.8" fill="none" stroke="#F2B430" stroke-width="1"/>
<circle cx="568" cy="93" r="2.2" fill="#F2B430"/>
<circle cx="567.8" cy="92.7" r="0.99" fill="#fff" fill-opacity="0.5"/>
<circle cx="571.06" cy="90.54" r="2.2" fill="#F2B430"/>
<circle cx="570.86" cy="90.24" r="0.99" fill="#fff" fill-opacity="0.5"/>
<circle cx="574.11" cy="88.08" r="2.2" fill="#F2B430"/>
<circle cx="573.91" cy="87.78" r="0.99" fill="#fff" fill-opacity="0.5"/>
<circle cx="577.17" cy="85.63" r="2.2" fill="#F2B430"/>
<circle cx="576.97" cy="85.33" r="0.99" fill="#fff" fill-opacity="0.5"/>
<circle cx="580.22" cy="83.2" r="2.2" fill="#F2B430"/>
<circle cx="580.02" cy="82.9" r="0.99" fill="#fff" fill-opacity="0.5"/>
<circle cx="583.28" cy="80.8" r="2.2" fill="#F2B430"/>
<circle cx="583.08" cy="80.5" r="0.99" fill="#fff" fill-opacity="0.5"/>
<circle cx="586.34" cy="78.42" r="2.2" fill="#F2B430"/>
<circle cx="586.14" cy="78.12" r="0.99" fill="#fff" fill-opacity="0.5"/>
<circle cx="589.39" cy="76.07" r="2.2" fill="#F2B430"/>
<circle cx="589.19" cy="75.77" r="0.99" fill="#fff" fill-opacity="0.5"/>
<circle cx="592.45" cy="73.76" r="2.2" fill="#F2B430"/>
<circle cx="592.25" cy="73.46" r="0.99" fill="#fff" fill-opacity="0.5"/>
<circle cx="595.5" cy="71.49" r="2.2" fill="#F2B430"/>
<circle cx="595.3" cy="71.19" r="0.99" fill="#fff" fill-opacity="0.5"/>
<circle cx="598.56" cy="69.27" r="2.2" fill="#F2B430"/>
<circle cx="598.36" cy="68.97" r="0.99" fill="#fff" fill-opacity="0.5"/>
<circle cx="601.62" cy="67.09" r="2.2" fill="#F2B430"/>
<circle cx="601.42" cy="66.79" r="0.99" fill="#fff" fill-opacity="0.5"/>
<circle cx="604.67" cy="64.95" r="2.2" fill="#F2B430"/>
<circle cx="604.47" cy="64.65" r="0.99" fill="#fff" fill-opacity="0.5"/>
<circle cx="607.73" cy="62.86" r="2.2" fill="#F2B430"/>
<circle cx="607.53" cy="62.56" r="0.99" fill="#fff" fill-opacity="0.5"/>
<circle cx="610.78" cy="60.82" r="2.2" fill="#F2B430"/>
<circle cx="610.58" cy="60.52" r="0.99" fill="#fff" fill-opacity="0.5"/>
<circle cx="613.84" cy="58.83" r="2.2" fill="#F2B430"/>
<circle cx="613.64" cy="58.53" r="0.99" fill="#fff" fill-opacity="0.5"/>
<circle cx="616.9" cy="56.88" r="2.2" fill="#F2B430"/>
<circle cx="616.7" cy="56.58" r="0.99" fill="#fff" fill-opacity="0.5"/>
<circle cx="619.95" cy="54.97" r="2.2" fill="#F2B430"/>
<circle cx="619.75" cy="54.67" r="0.99" fill="#fff" fill-opacity="0.5"/>
<circle cx="623.01" cy="53.1" r="2.2" fill="#F2B430"/>
<circle cx="622.81" cy="52.8" r="0.99" fill="#fff" fill-opacity="0.5"/>
<circle cx="626.06" cy="51.27" r="2.2" fill="#F2B430"/>
<circle cx="625.86" cy="50.97" r="0.99" fill="#fff" fill-opacity="0.5"/>
<circle cx="629.12" cy="49.48" r="2.2" fill="#F2B430"/>
<circle cx="628.92" cy="49.18" r="0.99" fill="#fff" fill-opacity="0.5"/>
<circle cx="632.18" cy="47.71" r="2.2" fill="#F2B430"/>
<circle cx="631.98" cy="47.41" r="0.99" fill="#fff" fill-opacity="0.5"/>
<circle cx="635.23" cy="45.96" r="2.2" fill="#F2B430"/>
<circle cx="635.03" cy="45.66" r="0.99" fill="#fff" fill-opacity="0.5"/>
<circle cx="638.29" cy="44.23" r="2.2" fill="#F2B430"/>
<circle cx="638.09" cy="43.93" r="0.99" fill="#fff" fill-opacity="0.5"/>
<circle cx="641.34" cy="42.51" r="2.2" fill="#F2B430"/>
<circle cx="641.14" cy="42.21" r="0.99" fill="#fff" fill-opacity="0.5"/>
<circle cx="644.4" cy="40.8" r="2.2" fill="#F2B430"/>
<circle cx="644.2" cy="40.5" r="0.99" fill="#fff" fill-opacity="0.5"/>
<path d="M568.4,68 L571.7,65.91 L574.99,63.82 L578.29,61.73 L581.58,59.63 L584.88,57.54 L588.17,55.45 L591.47,53.36 L594.77,51.27 L598.06,49.18 L601.36,47.09 L604.65,45 L607.95,42.9 L611.24,40.81 L614.54,38.72 L617.83,36.63 L621.13,34.54 L624.43,32.45 L627.72,30.36 L631.02,28.27 L634.31,26.17 L637.61,24.08 L640.9,21.99 L644.2,19.9" fill="none" stroke="#1AA2F0" stroke-width="1"/>
<circle cx="568.4" cy="68" r="2.2" fill="#1AA2F0"/>
<circle cx="568.2" cy="67.7" r="0.99" fill="#fff" fill-opacity="0.5"/>
<circle cx="571.7" cy="65.91" r="2.2" fill="#1AA2F0"/>
<circle cx="571.5" cy="65.61" r="0.99" fill="#fff" fill-opacity="0.5"/>
<circle cx="574.99" cy="63.82" r="2.2" fill="#1AA2F0"/>
<circle cx="574.79" cy="63.52" r="0.99" fill="#fff" fill-opacity="0.5"/>
<circle cx="578.29" cy="61.73" r="2.2" fill="#1AA2F0"/>
<circle cx="578.09" cy="61.43" r="0.99" fill="#fff" fill-opacity="0.5"/>
<circle cx="581.58" cy="59.63" r="2.2" fill="#1AA2F0"/>
<circle cx="581.38" cy="59.33" r="0.99" fill="#fff" fill-opacity="0.5"/>
<circle cx="584.88" cy="57.54" r="2.2" fill="#1AA2F0"/>
<circle cx="584.68" cy="57.24" r="0.99" fill="#fff" fill-opacity="0.5"/>
<circle cx="588.17" cy="55.45" r="2.2" fill="#1AA2F0"/>
<circle cx="587.97" cy="55.15" r="0.99" fill="#fff" fill-opacity="0.5"/>
<circle cx="591.47" cy="53.36" r="2.2" fill="#1AA2F0"/>
<circle cx="591.27" cy="53.06" r="0.99" fill="#fff" fill-opacity="0.5"/>
<circle cx="594.77" cy="51.27" r="2.2" fill="#1AA2F0"/>
<circle cx="594.57" cy="50.97" r="0.99" fill="#fff" fill-opacity="0.5"/>
<circle cx="598.06" cy="49.18" r="2.2" fill="#1AA2F0"/>
<circle cx="597.86" cy="48.88" r="0.99" fill="#fff" fill-opacity="0.5"/>
<circle cx="601.36" cy="47.09" r="2.2" fill="#1AA2F0"/>
<circle cx="601.16" cy="46.79" r="0.99" fill="#fff" fill-opacity="0.5"/>
<circle cx="604.65" cy="45" r="2.2" fill="#1AA2F0"/>
<circle cx="604.45" cy="44.7" r="0.99" fill="#fff" fill-opacity="0.5"/>
<circle cx="607.95" cy="42.9" r="2.2" fill="#1AA2F0"/>
<circle cx="607.75" cy="42.6" r="0.99" fill="#fff" fill-opacity="0.5"/>
<circle cx="611.24" cy="40.81" r="2.2" fill="#1AA2F0"/>
<circle cx="611.04" cy="40.51" r="0.99" fill="#fff" fill-opacity="0.5"/>
<circle cx="614.54" cy="38.72" r="2.2" fill="#1AA2F0"/>
<circle cx="614.34" cy="38.42" r="0.99" fill="#fff" fill-opacity="0.5"/>
<circle cx="617.83" cy="36.63" r="2.2" fill="#1AA2F0"/>
<circle cx="617.63" cy="36.33" r="0.99" fill="#fff" fill-opacity="0.5"/>
<circle cx="621.13" cy="34.54" r="2.2" fill="#1AA2F0"/>
<circle cx="620.93" cy="34.24" r="0.99" fill="#fff" fill-opacity="0.5"/>
<circle cx="624.43" cy="32.45" r="2.2" fill="#1AA2F0"/>
<circle cx="624.23" cy="32.15" r="0.99" fill="#fff" fill-opacity="0.5"/>
<circle cx="627.72" cy="30.36" r="2.2" fill="#1AA2F0"/>
<circle cx="627.52" cy="30.06" r="0.99" fill="#fff" fill-opacity="0.5"/>
<circle cx="631.02" cy="28.27" r="2.2" fill="#1AA2F0"/>
<circle cx="630.82" cy="27.97" r="0.99" fill="#fff" fill-opacity="0.5"/>
<circle cx="634.31" cy="26.17" r="2.2" fill="#1AA2F0"/>
<circle cx="634.11" cy="25.87" r="0.99" fill="#fff" fill-opacity="0.5"/>
<circle cx="637.61" cy="24.08" r="2.2" fill="#1AA2F0"/>
<circle cx="637.41" cy="23.78" r="0.99" fill="#fff" fill-opacity="0.5"/>
<circle cx="640.9" cy="21.99" r="2.2" fill="#1AA2F0"/>
<circle cx="640.7" cy="21.69" r="0.99" fill="#fff" fill-opacity="0.5"/>
<circle cx="644.2" cy="19.9" r="2.2" fill="#1AA2F0"/>
<circle cx="644" cy="19.6" r="0.99" fill="#fff" fill-opacity="0.5"/>
<text transform="translate(597.3,37.3) rotate(-28)" font-size="7.8" text-anchor="middle" dominant-baseline="central" fill="#2AA8F0">68.9 mV dec<tspan font-size="5.46" baseline-shift="2.81">-1</tspan></text>
<text transform="translate(614.3,50.8) rotate(-33)" font-size="7.8" text-anchor="middle" dominant-baseline="central" fill="#EFB02C">97.6 mV dec<tspan font-size="5.46" baseline-shift="2.81">-1</tspan></text>
<text transform="translate(614,84.6) rotate(-22.5)" font-size="7.8" text-anchor="middle" dominant-baseline="central" fill="#4CB97C">52.7 mV dec<tspan font-size="5.46" baseline-shift="2.81">-1</tspan></text>
<text transform="translate(608.9,116.6) rotate(-19)" font-size="7.8" text-anchor="middle" dominant-baseline="central" fill="#F0505A">37.8 mV dec<tspan font-size="5.46" baseline-shift="2.81">-1</tspan></text>
<text transform="translate(546.2,85) rotate(-20)" font-size="7.8" text-anchor="middle" dominant-baseline="central" fill="#8A8A8A">40.5 mV dec<tspan font-size="5.46" baseline-shift="2.81">-1</tspan></text>
<circle cx="502.1" cy="16.2" r="2.2" fill="#F04A50"/>
<circle cx="501.9" cy="15.9" r="0.99" fill="#fff" fill-opacity="0.5"/>
<text x="510.8" y="19.1" font-size="9.35" text-anchor="start" fill="#1a1a1a" >β-PdHene</text>
<circle cx="502.1" cy="28.3" r="2.2" fill="#3DB470"/>
<circle cx="501.9" cy="28" r="0.99" fill="#fff" fill-opacity="0.5"/>
<text x="510.8" y="31.2" font-size="9.35" text-anchor="start" fill="#1a1a1a" >Mixed-phase PdHene</text>
<circle cx="502.1" cy="40.4" r="2.2" fill="#1AA2F0"/>
<circle cx="501.9" cy="40.1" r="0.99" fill="#fff" fill-opacity="0.5"/>
<text x="510.8" y="43.3" font-size="9.35" text-anchor="start" fill="#1a1a1a" >α-PdHene</text>
<circle cx="502.1" cy="52.5" r="2.2" fill="#6E6E6E"/>
<circle cx="501.9" cy="52.2" r="0.99" fill="#fff" fill-opacity="0.5"/>
<text x="510.8" y="55.4" font-size="9.35" text-anchor="start" fill="#1a1a1a" >Pt/C</text>
<circle cx="502.1" cy="64.6" r="2.2" fill="#F2B430"/>
<circle cx="501.9" cy="64.3" r="0.99" fill="#fff" fill-opacity="0.5"/>
<text x="510.8" y="67.5" font-size="9.35" text-anchor="start" fill="#1a1a1a" >Pdene</text>
<text x="4.3" y="208.5" font-size="20.6" text-anchor="start" fill="#000" >d</text>
<g clip-path="url(#cddL)">
<path d="M87,350 L87.2,349.04 L87.4,347.85 L87.6,346.45 L87.8,344.87 L88,343.15 L88.2,341.3 L88.4,339.12 L88.6,336.46 L88.8,333.46 L89,330.26 L89.2,327 L89.4,323.81 L89.6,320.83 L89.8,318.2 L90,315.82 L90.2,313.52 L90.4,311.29 L90.6,309.13 L90.8,307.04 L91,305.02 L91.2,303.06 L91.4,301.17 L91.6,299.34 L91.8,297.56 L92,295.86 L92.2,294.24 L92.4,292.71 L92.6,291.25 L92.8,289.84 L93,288.46 L93.2,287.09 L93.4,285.73 L93.6,284.34 L93.8,282.92 L94,281.45 L94.2,279.9 L94.4,278.27 L94.6,276.5 L94.8,274.63 L95,272.7 L95.2,270.76 L95.4,268.85 L95.6,267.01 L95.8,265.28 L96,263.7 L96.2,262.25 L96.4,260.86 L96.6,259.52 L96.8,258.24 L97,257 L97.2,255.8 L97.4,254.63 L97.6,253.48 L97.8,252.36 L98,251.25 L98.2,250.15 L98.4,249.06 L98.6,248 L98.8,246.96 L99,245.95 L99.2,244.97 L99.4,244.02 L99.6,243.1 L99.8,242.22 L100,241.39 L100.2,240.59 L100.4,239.82 L100.6,239.08 L100.8,238.37 L101,237.67 L101.2,237 L101.4,236.33 L101.6,235.67 L101.8,235.01 L102,234.34 L102.2,233.69 L102.4,233.04 L102.6,232.42 L102.8,231.82 L103,231.25 L103.2,230.72 L103.4,230.23 L103.6,229.78 L103.8,229.36 L104,228.95 L104.2,228.56 L104.4,228.18 L104.6,227.83 L104.8,227.5 L105,227.19 L105.2,226.89 L105.4,226.63 L105.6,226.38 L105.8,226.12 L106,225.86 L106.2,225.6 L106.4,225.36 L106.6,225.13 L106.8,224.94 L107,224.78 L107.2,224.67 L107.4,224.61 L107.6,224.6 L107.8,224.61 L108,224.63 L108.2,224.65 L108.4,224.69 L108.6,224.73 L108.8,224.78 L109,224.83 L109.2,224.89 L109.4,224.96 L109.6,225.08 L109.8,225.45 L110,226.05 L110.2,226.82 L110.4,227.69 L110.6,228.6 L110.8,229.49 L111,230.29 L111.2,230.95 L111.4,231.38 L111.6,231.58 L111.8,231.73 L112,231.85 L112.2,231.94 L112.4,231.99 L112.6,231.93 L112.8,231.45 L113,230.65 L113.2,229.69 L113.4,228.75 L113.6,228 L113.8,227.39 L114,226.79 L114.2,226.2 L114.4,225.63 L114.6,225.09 L114.8,224.58 L115,224.12 L115.2,223.71 L115.4,223.35 L115.6,223.06 L115.8,222.78 L116,222.52 L116.2,222.26 L116.4,222.03 L116.6,221.8 L116.8,221.59 L117,221.39 L117.2,221.2 L117.4,221.03 L117.6,220.86 L117.8,220.72 L118,220.58 L118.2,220.46 L118.4,220.35 L118.6,220.25 L118.8,220.16 L119,220.07 L119.2,219.99 L119.4,219.9 L119.6,219.82 L119.8,219.75 L120,219.68 L120.2,219.61 L120.4,219.55 L120.6,219.49 L120.8,219.44 L121,219.39 L121.2,219.34 L121.4,219.3 L121.6,219.26 L121.8,219.23 L122,219.2 L122.2,219.17 L122.4,219.15 L122.6,219.12 L122.8,219.1 L123,219.07 L123.2,219.05 L123.4,219.03 L123.6,219 L123.8,218.98 L124,218.96 L124.2,218.94 L124.4,218.92 L124.6,218.9 L124.8,218.88 L125,218.86 L125.2,218.85 L125.4,218.83 L125.6,218.82 L125.8,218.8 L126,218.79 L126.2,218.77 L126.4,218.76 L126.6,218.75 L126.8,218.74 L127,218.73 L127.2,218.72 L127.4,218.72 L127.6,218.71 L127.8,218.71 L128,218.7 L128.2,218.7 L128.4,218.7" fill="none" stroke="#ECA622" stroke-width="1.0" stroke-linejoin="round"/>
<circle cx="88.2" cy="341.3" r="2.2" fill="#ECA622"/>
<circle cx="88" cy="341" r="0.99" fill="#fff" fill-opacity="0.5"/>
<circle cx="89.8" cy="318.2" r="2.2" fill="#ECA622"/>
<circle cx="89.6" cy="317.9" r="0.99" fill="#fff" fill-opacity="0.5"/>
<circle cx="91.9" cy="296.7" r="2.2" fill="#ECA622"/>
<circle cx="91.7" cy="296.4" r="0.99" fill="#fff" fill-opacity="0.5"/>
<circle cx="94.3" cy="279.1" r="2.2" fill="#ECA622"/>
<circle cx="94.1" cy="278.8" r="0.99" fill="#fff" fill-opacity="0.5"/>
<circle cx="96" cy="263.7" r="2.2" fill="#ECA622"/>
<circle cx="95.8" cy="263.4" r="0.99" fill="#fff" fill-opacity="0.5"/>
<circle cx="97.9" cy="251.8" r="2.2" fill="#ECA622"/>
<circle cx="97.7" cy="251.5" r="0.99" fill="#fff" fill-opacity="0.5"/>
<circle cx="99.9" cy="241.8" r="2.2" fill="#ECA622"/>
<circle cx="99.7" cy="241.5" r="0.99" fill="#fff" fill-opacity="0.5"/>
<circle cx="101.85" cy="234.84" r="2.2" fill="#ECA622"/>
<circle cx="101.65" cy="234.54" r="0.99" fill="#fff" fill-opacity="0.5"/>
<circle cx="103.8" cy="229.36" r="2.2" fill="#ECA622"/>
<circle cx="103.6" cy="229.06" r="0.99" fill="#fff" fill-opacity="0.5"/>
<circle cx="105.75" cy="226.18" r="2.2" fill="#ECA622"/>
<circle cx="105.55" cy="225.88" r="0.99" fill="#fff" fill-opacity="0.5"/>
<circle cx="107.7" cy="224.6" r="2.2" fill="#ECA622"/>
<circle cx="107.5" cy="224.3" r="0.99" fill="#fff" fill-opacity="0.5"/>
<circle cx="109.65" cy="225.14" r="2.2" fill="#ECA622"/>
<circle cx="109.45" cy="224.84" r="0.99" fill="#fff" fill-opacity="0.5"/>
<circle cx="111.6" cy="231.58" r="2.2" fill="#ECA622"/>
<circle cx="111.4" cy="231.28" r="0.99" fill="#fff" fill-opacity="0.5"/>
<circle cx="113.55" cy="228.16" r="2.2" fill="#ECA622"/>
<circle cx="113.35" cy="227.86" r="0.99" fill="#fff" fill-opacity="0.5"/>
<circle cx="115.5" cy="223.2" r="2.2" fill="#ECA622"/>
<circle cx="115.3" cy="222.9" r="0.99" fill="#fff" fill-opacity="0.5"/>
<circle cx="117.45" cy="220.98" r="2.2" fill="#ECA622"/>
<circle cx="117.25" cy="220.68" r="0.99" fill="#fff" fill-opacity="0.5"/>
<circle cx="119.4" cy="219.9" r="2.2" fill="#ECA622"/>
<circle cx="119.2" cy="219.6" r="0.99" fill="#fff" fill-opacity="0.5"/>
<circle cx="121.35" cy="219.31" r="2.2" fill="#ECA622"/>
<circle cx="121.15" cy="219.01" r="0.99" fill="#fff" fill-opacity="0.5"/>
<circle cx="123.3" cy="219.04" r="2.2" fill="#ECA622"/>
<circle cx="123.1" cy="218.74" r="0.99" fill="#fff" fill-opacity="0.5"/>
<circle cx="125.25" cy="218.84" r="2.2" fill="#ECA622"/>
<circle cx="125.05" cy="218.54" r="0.99" fill="#fff" fill-opacity="0.5"/>
<circle cx="127.2" cy="218.72" r="2.2" fill="#ECA622"/>
<circle cx="127" cy="218.42" r="0.99" fill="#fff" fill-opacity="0.5"/>
</g>
<g clip-path="url(#cddL)">
<path d="M82.5,350 L82.7,347.66 L82.9,345.32 L83.1,342.98 L83.3,340.64 L83.5,338.3 L83.7,335.97 L83.9,333.63 L84.1,331.26 L84.3,328.87 L84.5,326.48 L84.7,324.09 L84.9,321.71 L85.1,319.35 L85.3,317.04 L85.5,314.78 L85.7,312.57 L85.9,310.44 L86.1,308.36 L86.3,306.31 L86.5,304.3 L86.7,302.33 L86.9,300.38 L87.1,298.46 L87.3,296.57 L87.5,294.69 L87.7,292.83 L87.9,290.97 L88.1,289.08 L88.3,287.17 L88.5,285.27 L88.7,283.4 L88.9,281.59 L89.1,279.87 L89.3,278.26 L89.5,276.78 L89.7,275.45 L89.9,274.23 L90.1,273.08 L90.3,272.01 L90.5,270.98 L90.7,270 L90.9,269.04 L91.1,268.1 L91.3,267.16 L91.5,266.21 L91.7,265.24 L91.9,264.22 L92.1,263.16 L92.3,262.06 L92.5,260.94 L92.7,259.8 L92.9,258.65 L93.1,257.52 L93.3,256.4 L93.5,255.31 L93.7,254.26 L93.9,253.27 L94.1,252.34 L94.3,251.45 L94.5,250.59 L94.7,249.76 L94.9,248.95 L95.1,248.16 L95.3,247.38 L95.5,246.62 L95.7,245.86 L95.9,245.1 L96.1,244.34 L96.3,243.58 L96.5,242.8 L96.7,242.01 L96.9,241.22 L97.1,240.43 L97.3,239.64 L97.5,238.86 L97.7,238.1 L97.9,237.36 L98.1,236.64 L98.3,235.92 L98.5,235.21 L98.7,234.51 L98.9,233.83 L99.1,233.18 L99.3,232.57 L99.5,232 L99.7,231.47 L99.9,230.95 L100.1,230.45 L100.3,229.97 L100.5,229.51 L100.7,229.06 L100.9,228.64 L101.1,228.24 L101.3,227.86 L101.5,227.5 L101.7,227.16 L101.9,226.82 L102.1,226.49 L102.3,226.18 L102.5,225.87 L102.7,225.58 L102.9,225.3 L103.1,225.03 L103.3,224.78 L103.5,224.54 L103.7,224.31 L103.9,224.1 L104.1,223.9 L104.3,223.72 L104.5,223.54 L104.7,223.37 L104.9,223.21 L105.1,223.05 L105.3,222.9 L105.5,222.76 L105.7,222.62 L105.9,222.48 L106.1,222.35 L106.3,222.23 L106.5,222.1 L106.7,221.98 L106.9,221.86 L107.1,221.74 L107.3,221.63 L107.5,221.52 L107.7,221.41 L107.9,221.31 L108.1,221.2 L108.3,221.11 L108.5,221.01 L108.7,220.91 L108.9,220.82 L109.1,220.72 L109.3,220.63 L109.5,220.54 L109.7,220.44 L109.9,220.35 L110.1,220.25 L110.3,220.16 L110.5,220.06 L110.7,219.97 L110.9,219.87 L111.1,219.78 L111.3,219.69 L111.5,219.59 L111.7,219.5 L111.9,219.41 L112.1,219.31 L112.3,219.22 L112.5,219.13 L112.7,219.04 L112.9,218.95 L113.1,218.85 L113.3,218.76 L113.5,218.66 L113.7,218.56 L113.9,218.46 L114.1,218.36 L114.3,218.26 L114.5,218.16 L114.7,218.07 L114.9,217.97 L115.1,217.87 L115.3,217.78 L115.5,217.69 L115.7,217.6 L115.9,217.52 L116.1,217.44 L116.3,217.37 L116.5,217.3 L116.7,217.23 L116.9,217.17 L117.1,217.11 L117.3,217.05 L117.5,216.99 L117.7,216.93 L117.9,216.87 L118.1,216.82 L118.3,216.77 L118.5,216.72 L118.7,216.67 L118.9,216.62 L119.1,216.58 L119.3,216.53 L119.5,216.49 L119.7,216.45 L119.9,216.42 L120.1,216.38 L120.3,216.35 L120.5,216.32 L120.7,216.28 L120.9,216.25 L121.1,216.22 L121.3,216.19 L121.5,216.16 L121.7,216.13 L121.9,216.1 L122.1,216.07 L122.3,216.05 L122.5,216.02 L122.7,216 L122.9,215.98 L123.1,215.96 L123.3,215.94 L123.5,215.93 L123.7,215.91 L123.9,215.9 L124.1,215.9 L124.3,215.89 L124.5,215.88 L124.7,215.87 L124.9,215.87 L125.1,215.86 L125.3,215.85 L125.5,215.85 L125.7,215.84 L125.9,215.84 L126.1,215.83 L126.3,215.83 L126.5,215.82 L126.7,215.82 L126.9,215.81 L127.1,215.81 L127.3,215.81 L127.5,215.81 L127.7,215.8 L127.9,215.8 L128.1,215.8 L128.3,215.8 L128.5,215.8" fill="none" stroke="#F6CF78" stroke-width="1.0" stroke-linejoin="round"/>
<circle cx="83.8" cy="334.8" r="2.2" fill="#F6CF78"/>
<circle cx="83.6" cy="334.5" r="0.79" fill="#fff" fill-opacity="0.5"/>
<circle cx="85.6" cy="313.67" r="2.2" fill="#F6CF78"/>
<circle cx="85.4" cy="313.37" r="0.79" fill="#fff" fill-opacity="0.5"/>
<circle cx="87.8" cy="291.9" r="2.2" fill="#F6CF78"/>
<circle cx="87.6" cy="291.6" r="0.79" fill="#fff" fill-opacity="0.5"/>
<circle cx="89.6" cy="276.1" r="2.2" fill="#F6CF78"/>
<circle cx="89.4" cy="275.8" r="0.79" fill="#fff" fill-opacity="0.5"/>
<circle cx="92" cy="263.7" r="2.2" fill="#F6CF78"/>
<circle cx="91.8" cy="263.4" r="0.79" fill="#fff" fill-opacity="0.5"/>
<circle cx="94" cy="252.8" r="2.2" fill="#F6CF78"/>
<circle cx="93.8" cy="252.5" r="0.79" fill="#fff" fill-opacity="0.5"/>
<circle cx="96.5" cy="242.8" r="2.2" fill="#F6CF78"/>
<circle cx="96.3" cy="242.5" r="0.79" fill="#fff" fill-opacity="0.5"/>
<circle cx="98.6" cy="234.86" r="2.2" fill="#F6CF78"/>
<circle cx="98.4" cy="234.56" r="0.79" fill="#fff" fill-opacity="0.5"/>
<circle cx="100.7" cy="229.06" r="2.2" fill="#F6CF78"/>
<circle cx="100.5" cy="228.76" r="0.79" fill="#fff" fill-opacity="0.5"/>
<circle cx="102.8" cy="225.44" r="2.2" fill="#F6CF78"/>
<circle cx="102.6" cy="225.14" r="0.79" fill="#fff" fill-opacity="0.5"/>
<circle cx="104.9" cy="223.21" r="2.2" fill="#F6CF78"/>
<circle cx="104.7" cy="222.91" r="0.79" fill="#fff" fill-opacity="0.5"/>
<circle cx="107" cy="221.8" r="2.2" fill="#F6CF78"/>
<circle cx="106.8" cy="221.5" r="0.79" fill="#fff" fill-opacity="0.5"/>
<circle cx="109.1" cy="220.72" r="2.2" fill="#F6CF78"/>
<circle cx="108.9" cy="220.42" r="0.79" fill="#fff" fill-opacity="0.5"/>
<circle cx="111.2" cy="219.73" r="2.2" fill="#F6CF78"/>
<circle cx="111" cy="219.43" r="0.79" fill="#fff" fill-opacity="0.5"/>
<circle cx="113.3" cy="218.76" r="2.2" fill="#F6CF78"/>
<circle cx="113.1" cy="218.46" r="0.79" fill="#fff" fill-opacity="0.5"/>
<circle cx="115.4" cy="217.74" r="2.2" fill="#F6CF78"/>
<circle cx="115.2" cy="217.44" r="0.79" fill="#fff" fill-opacity="0.5"/>
<circle cx="117.5" cy="216.99" r="2.2" fill="#F6CF78"/>
<circle cx="117.3" cy="216.69" r="0.79" fill="#fff" fill-opacity="0.5"/>
<circle cx="119.6" cy="216.47" r="2.2" fill="#F6CF78"/>
<circle cx="119.4" cy="216.17" r="0.79" fill="#fff" fill-opacity="0.5"/>
<circle cx="121.7" cy="216.13" r="2.2" fill="#F6CF78"/>
<circle cx="121.5" cy="215.83" r="0.79" fill="#fff" fill-opacity="0.5"/>
<circle cx="123.8" cy="215.91" r="2.2" fill="#F6CF78"/>
<circle cx="123.6" cy="215.61" r="0.79" fill="#fff" fill-opacity="0.5"/>
<circle cx="125.9" cy="215.84" r="2.2" fill="#F6CF78"/>
<circle cx="125.7" cy="215.54" r="0.79" fill="#fff" fill-opacity="0.5"/>
<circle cx="128" cy="215.8" r="2.2" fill="#F6CF78"/>
<circle cx="127.8" cy="215.5" r="0.79" fill="#fff" fill-opacity="0.5"/>
</g>
<g clip-path="url(#cddR)">
<path d="M184.8,350 L185,348.24 L185.2,346.55 L185.4,345 L185.6,343.62 L185.8,342.35 L186,341.18 L186.2,340.08 L186.4,339 L186.6,337.94 L186.8,336.86 L187,335.73 L187.2,334.52 L187.4,333.22 L187.6,331.78 L187.8,330.16 L188,328.22 L188.2,326.02 L188.4,323.61 L188.6,321.05 L188.8,318.43 L189,315.8 L189.2,313.23 L189.4,310.8 L189.6,308.55 L189.8,306.57 L190,304.89 L190.2,303.39 L190.4,302.02 L190.6,300.74 L190.8,299.54 L191,298.39 L191.2,297.26 L191.4,296.13 L191.6,294.97 L191.8,293.76 L192,292.46 L192.2,291.05 L192.4,289.51 L192.6,287.86 L192.8,286.1 L193,284.25 L193.2,282.33 L193.4,280.36 L193.6,278.36 L193.8,276.33 L194,274.3 L194.2,272.27 L194.4,270.28 L194.6,268.3 L194.8,266.19 L195,264 L195.2,261.83 L195.4,259.78 L195.6,257.94 L195.8,256.4 L196,255.1 L196.2,253.91 L196.4,252.8 L196.6,251.76 L196.8,250.79 L197,249.88 L197.2,249 L197.4,248.15 L197.6,247.31 L197.8,246.48 L198,245.63 L198.2,244.77 L198.4,243.87 L198.6,242.92 L198.8,241.94 L199,240.94 L199.2,239.92 L199.4,238.89 L199.6,237.86 L199.8,236.84 L200,235.84 L200.2,234.87 L200.4,233.94 L200.6,233.04 L200.8,232.21 L201,231.43 L201.2,230.72 L201.4,230.09 L201.6,229.49 L201.8,228.91 L202,228.36 L202.2,227.83 L202.4,227.32 L202.6,226.84 L202.8,226.38 L203,225.93 L203.2,225.51 L203.4,225.11 L203.6,224.72 L203.8,224.35 L204,224 L204.2,223.66 L204.4,223.34 L204.6,223.02 L204.8,222.71 L205,222.42 L205.2,222.13 L205.4,221.86 L205.6,221.59 L205.8,221.33 L206,221.09 L206.2,220.85 L206.4,220.62 L206.6,220.41 L206.8,220.2 L207,220 L207.2,219.81 L207.4,219.62 L207.6,219.44 L207.8,219.26 L208,219.08 L208.2,218.91 L208.4,218.75 L208.6,218.59 L208.8,218.43 L209,218.28 L209.2,218.13 L209.4,217.99 L209.6,217.85 L209.8,217.71 L210,217.58 L210.2,217.46 L210.4,217.34 L210.6,217.22 L210.8,217.11 L211,217 L211.2,216.9 L211.4,216.79 L211.6,216.69 L211.8,216.59 L212,216.5 L212.2,216.4 L212.4,216.31 L212.6,216.22 L212.8,216.13 L213,216.04 L213.2,215.96 L213.4,215.88 L213.6,215.8 L213.8,215.72 L214,215.64 L214.2,215.57 L214.4,215.5 L214.6,215.43 L214.8,215.36 L215,215.29 L215.2,215.23 L215.4,215.17 L215.6,215.11 L215.8,215.05 L216,215 L216.2,214.95 L216.4,214.89 L216.6,214.84 L216.8,214.79 L217,214.74 L217.2,214.69 L217.4,214.64 L217.6,214.6 L217.8,214.55 L218,214.5 L218.2,214.46 L218.4,214.42 L218.6,214.38 L218.8,214.33 L219,214.3 L219.2,214.26 L219.4,214.22 L219.6,214.19 L219.8,214.16 L220,214.13 L220.2,214.1 L220.4,214.07 L220.6,214.04 L220.8,214.02 L221,214" fill="none" stroke="#F04652" stroke-width="1.0" stroke-linejoin="round"/>
<circle cx="186" cy="341.18" r="2.2" fill="#F04652"/>
<circle cx="185.8" cy="340.88" r="0.99" fill="#fff" fill-opacity="0.5"/>
<circle cx="188.1" cy="327.15" r="2.2" fill="#F04652"/>
<circle cx="187.9" cy="326.85" r="0.99" fill="#fff" fill-opacity="0.5"/>
<circle cx="190.2" cy="303.39" r="2.2" fill="#F04652"/>
<circle cx="190" cy="303.09" r="0.99" fill="#fff" fill-opacity="0.5"/>
<circle cx="192.3" cy="290.3" r="2.2" fill="#F04652"/>
<circle cx="192.1" cy="290" r="0.99" fill="#fff" fill-opacity="0.5"/>
<circle cx="194.4" cy="270.28" r="2.2" fill="#F04652"/>
<circle cx="194.2" cy="269.98" r="0.99" fill="#fff" fill-opacity="0.5"/>
<circle cx="196.5" cy="252.27" r="2.2" fill="#F04652"/>
<circle cx="196.3" cy="251.97" r="0.99" fill="#fff" fill-opacity="0.5"/>
<circle cx="198.6" cy="242.92" r="2.2" fill="#F04652"/>
<circle cx="198.4" cy="242.62" r="0.99" fill="#fff" fill-opacity="0.5"/>
<circle cx="200.7" cy="232.62" r="2.2" fill="#F04652"/>
<circle cx="200.5" cy="232.32" r="0.99" fill="#fff" fill-opacity="0.5"/>
<circle cx="202.8" cy="226.38" r="2.2" fill="#F04652"/>
<circle cx="202.6" cy="226.08" r="0.99" fill="#fff" fill-opacity="0.5"/>
<circle cx="204.9" cy="222.56" r="2.2" fill="#F04652"/>
<circle cx="204.7" cy="222.26" r="0.99" fill="#fff" fill-opacity="0.5"/>
<circle cx="207" cy="220" r="2.2" fill="#F04652"/>
<circle cx="206.8" cy="219.7" r="0.99" fill="#fff" fill-opacity="0.5"/>
<circle cx="209.1" cy="218.2" r="2.2" fill="#F04652"/>
<circle cx="208.9" cy="217.9" r="0.99" fill="#fff" fill-opacity="0.5"/>
<circle cx="211.2" cy="216.9" r="2.2" fill="#F04652"/>
<circle cx="211" cy="216.6" r="0.99" fill="#fff" fill-opacity="0.5"/>
<circle cx="213.3" cy="215.92" r="2.2" fill="#F04652"/>
<circle cx="213.1" cy="215.62" r="0.99" fill="#fff" fill-opacity="0.5"/>
<circle cx="215.4" cy="215.17" r="2.2" fill="#F04652"/>
<circle cx="215.2" cy="214.87" r="0.99" fill="#fff" fill-opacity="0.5"/>
<circle cx="217.5" cy="214.62" r="2.2" fill="#F04652"/>
<circle cx="217.3" cy="214.32" r="0.99" fill="#fff" fill-opacity="0.5"/>
<circle cx="219.6" cy="214.19" r="2.2" fill="#F04652"/>
<circle cx="219.4" cy="213.89" r="0.99" fill="#fff" fill-opacity="0.5"/>
</g>
<g clip-path="url(#cddR)">
<path d="M183,350 L183.2,347.26 L183.4,344.59 L183.6,342.08 L183.8,339.77 L184,337.6 L184.2,335.55 L184.4,333.57 L184.6,331.66 L184.8,329.79 L185,327.93 L185.2,326.07 L185.4,324.17 L185.6,322.23 L185.8,320.2 L186,318.08 L186.2,315.87 L186.4,313.61 L186.6,311.32 L186.8,309.03 L187,306.77 L187.2,304.57 L187.4,302.45 L187.6,300.45 L187.8,298.58 L188,296.78 L188.2,295.05 L188.4,293.38 L188.6,291.76 L188.8,290.2 L189,288.68 L189.2,287.2 L189.4,285.76 L189.6,284.36 L189.8,282.99 L190,281.64 L190.2,280.33 L190.4,279.05 L190.6,277.79 L190.8,276.56 L191,275.35 L191.2,274.17 L191.4,273 L191.6,271.86 L191.8,270.75 L192,269.66 L192.2,268.6 L192.4,267.55 L192.6,266.52 L192.8,265.51 L193,264.5 L193.2,263.5 L193.4,262.5 L193.6,261.5 L193.8,260.5 L194,259.5 L194.2,258.51 L194.4,257.52 L194.6,256.53 L194.8,255.56 L195,254.59 L195.2,253.64 L195.4,252.71 L195.6,251.79 L195.8,250.88 L196,250 L196.2,249.13 L196.4,248.27 L196.6,247.43 L196.8,246.59 L197,245.76 L197.2,244.95 L197.4,244.15 L197.6,243.36 L197.8,242.59 L198,241.83 L198.2,241.09 L198.4,240.36 L198.6,239.65 L198.8,238.95 L199,238.28 L199.2,237.62 L199.4,236.97 L199.6,236.33 L199.8,235.7 L200,235.08 L200.2,234.46 L200.4,233.84 L200.6,233.23 L200.8,232.62 L201,232 L201.2,231.37 L201.4,230.72 L201.6,230.07 L201.8,229.42 L202,228.77 L202.2,228.15 L202.4,227.55 L202.6,226.99 L202.8,226.47 L203,226 L203.2,225.57 L203.4,225.16 L203.6,224.76 L203.8,224.38 L204,224.01 L204.2,223.66 L204.4,223.32 L204.6,222.99 L204.8,222.68 L205,222.37 L205.2,222.08 L205.4,221.8 L205.6,221.52 L205.8,221.26 L206,221 L206.2,220.75 L206.4,220.5 L206.6,220.26 L206.8,220.02 L207,219.79 L207.2,219.56 L207.4,219.34 L207.6,219.12 L207.8,218.91 L208,218.7 L208.2,218.5 L208.4,218.31 L208.6,218.12 L208.8,217.94 L209,217.77 L209.2,217.6 L209.4,217.44 L209.6,217.29 L209.8,217.14 L210,217 L210.2,216.87 L210.4,216.73 L210.6,216.6 L210.8,216.47 L211,216.35 L211.2,216.22 L211.4,216.1 L211.6,215.98 L211.8,215.87 L212,215.76 L212.2,215.65 L212.4,215.54 L212.6,215.44 L212.8,215.34 L213,215.24 L213.2,215.15 L213.4,215.06 L213.6,214.97 L213.8,214.89 L214,214.81 L214.2,214.74 L214.4,214.67 L214.6,214.61 L214.8,214.55 L215,214.5 L215.2,214.45 L215.4,214.4 L215.6,214.35 L215.8,214.3 L216,214.25 L216.2,214.2 L216.4,214.15 L216.6,214.11 L216.8,214.06 L217,214.02 L217.2,213.97 L217.4,213.93 L217.6,213.89 L217.8,213.85 L218,213.81 L218.2,213.77 L218.4,213.74 L218.6,213.71 L218.8,213.68 L219,213.65 L219.2,213.62 L219.4,213.6 L219.6,213.57 L219.8,213.56 L220,213.54 L220.2,213.53 L220.4,213.51 L220.6,213.51 L220.8,213.5 L221,213.5" fill="none" stroke="#F8AEB4" stroke-width="1.0" stroke-linejoin="round"/>
<circle cx="184.5" cy="332.61" r="2.2" fill="#F8AEB4"/>
<circle cx="184.3" cy="332.31" r="0.79" fill="#fff" fill-opacity="0.5"/>
<circle cx="186.35" cy="314.18" r="2.2" fill="#F8AEB4"/>
<circle cx="186.15" cy="313.88" r="0.79" fill="#fff" fill-opacity="0.5"/>
<circle cx="188.2" cy="295.05" r="2.2" fill="#F8AEB4"/>
<circle cx="188" cy="294.75" r="0.79" fill="#fff" fill-opacity="0.5"/>
<circle cx="190.05" cy="281.31" r="2.2" fill="#F8AEB4"/>
<circle cx="189.85" cy="281.01" r="0.79" fill="#fff" fill-opacity="0.5"/>
<circle cx="191.9" cy="270.2" r="2.2" fill="#F8AEB4"/>
<circle cx="191.7" cy="269.9" r="0.79" fill="#fff" fill-opacity="0.5"/>
<circle cx="193.75" cy="260.75" r="2.2" fill="#F8AEB4"/>
<circle cx="193.55" cy="260.45" r="0.79" fill="#fff" fill-opacity="0.5"/>
<circle cx="195.6" cy="251.79" r="2.2" fill="#F8AEB4"/>
<circle cx="195.4" cy="251.49" r="0.79" fill="#fff" fill-opacity="0.5"/>
<circle cx="197.45" cy="243.95" r="2.2" fill="#F8AEB4"/>
<circle cx="197.25" cy="243.65" r="0.79" fill="#fff" fill-opacity="0.5"/>
<circle cx="199.3" cy="237.29" r="2.2" fill="#F8AEB4"/>
<circle cx="199.1" cy="236.99" r="0.79" fill="#fff" fill-opacity="0.5"/>
<circle cx="201.15" cy="231.53" r="2.2" fill="#F8AEB4"/>
<circle cx="200.95" cy="231.23" r="0.79" fill="#fff" fill-opacity="0.5"/>
<circle cx="203" cy="226" r="2.2" fill="#F8AEB4"/>
<circle cx="202.8" cy="225.7" r="0.79" fill="#fff" fill-opacity="0.5"/>
<circle cx="204.85" cy="222.6" r="2.2" fill="#F8AEB4"/>
<circle cx="204.65" cy="222.3" r="0.79" fill="#fff" fill-opacity="0.5"/>
<circle cx="206.7" cy="220.14" r="2.2" fill="#F8AEB4"/>
<circle cx="206.5" cy="219.84" r="0.79" fill="#fff" fill-opacity="0.5"/>
<circle cx="208.55" cy="218.17" r="2.2" fill="#F8AEB4"/>
<circle cx="208.35" cy="217.87" r="0.79" fill="#fff" fill-opacity="0.5"/>
<circle cx="210.4" cy="216.73" r="2.2" fill="#F8AEB4"/>
<circle cx="210.2" cy="216.43" r="0.79" fill="#fff" fill-opacity="0.5"/>
<circle cx="212.25" cy="215.62" r="2.2" fill="#F8AEB4"/>
<circle cx="212.05" cy="215.32" r="0.79" fill="#fff" fill-opacity="0.5"/>
<circle cx="214.1" cy="214.78" r="2.2" fill="#F8AEB4"/>
<circle cx="213.9" cy="214.48" r="0.79" fill="#fff" fill-opacity="0.5"/>
<circle cx="215.95" cy="214.26" r="2.2" fill="#F8AEB4"/>
<circle cx="215.75" cy="213.96" r="0.79" fill="#fff" fill-opacity="0.5"/>
<circle cx="217.8" cy="213.85" r="2.2" fill="#F8AEB4"/>
<circle cx="217.6" cy="213.55" r="0.79" fill="#fff" fill-opacity="0.5"/>
<circle cx="219.65" cy="213.57" r="2.2" fill="#F8AEB4"/>
<circle cx="219.45" cy="213.27" r="0.79" fill="#fff" fill-opacity="0.5"/>
</g>
<line x1="36.5" y1="201.2" x2="220.5" y2="201.2" stroke="#333" stroke-width="1" stroke-linecap="square"/>
<line x1="36.5" y1="345.5" x2="220.5" y2="345.5" stroke="#333" stroke-width="1" stroke-linecap="square"/>
<line x1="36.5" y1="201.2" x2="36.5" y2="345.5" stroke="#333" stroke-width="1" stroke-linecap="square"/>
<line x1="220.5" y1="201.2" x2="220.5" y2="345.5" stroke="#333" stroke-width="1" stroke-linecap="square"/>
<line x1="128.5" y1="201.2" x2="128.5" y2="345.5" stroke="#111" stroke-width="1"/>
<line x1="33.5" y1="215.1" x2="36.5" y2="215.1" stroke="#333333" stroke-width="1"/>
<text x="32.65" y="218.8" font-size="10.3" text-anchor="end" fill="#1a1a1a" letter-spacing="0.35">0</text>
<line x1="34.5" y1="244.15" x2="36.5" y2="244.15" stroke="#333333" stroke-width="1"/>
<line x1="33.5" y1="273.2" x2="36.5" y2="273.2" stroke="#333333" stroke-width="1"/>
<text x="32.65" y="276.9" font-size="10.3" text-anchor="end" fill="#1a1a1a" letter-spacing="0.35">-20</text>
<line x1="34.5" y1="302.25" x2="36.5" y2="302.25" stroke="#333333" stroke-width="1"/>
<line x1="33.5" y1="331.3" x2="36.5" y2="331.3" stroke="#333333" stroke-width="1"/>
<text x="32.65" y="335" font-size="10.3" text-anchor="end" fill="#1a1a1a" letter-spacing="0.35">-40</text>
<line x1="36.5" y1="345.5" x2="36.5" y2="348.5" stroke="#333333" stroke-width="1"/>
<text x="36.67" y="357.6" font-size="10.3" text-anchor="middle" fill="#1a1a1a" letter-spacing="0.35">-0.4</text>
<line x1="54.9" y1="345.5" x2="54.9" y2="347.5" stroke="#333333" stroke-width="1"/>
<line x1="73.3" y1="345.5" x2="73.3" y2="348.5" stroke="#333333" stroke-width="1"/>
<text x="73.47" y="357.6" font-size="10.3" text-anchor="middle" fill="#1a1a1a" letter-spacing="0.35">-0.2</text>
<line x1="91.7" y1="345.5" x2="91.7" y2="347.5" stroke="#333333" stroke-width="1"/>
<line x1="110.1" y1="345.5" x2="110.1" y2="348.5" stroke="#333333" stroke-width="1"/>
<text x="110.27" y="357.6" font-size="10.3" text-anchor="middle" fill="#1a1a1a" letter-spacing="0.35">0.0</text>
<line x1="128.5" y1="345.5" x2="128.5" y2="348.5" stroke="#333333" stroke-width="1"/>
<text x="128.67" y="357.6" font-size="10.3" text-anchor="middle" fill="#1a1a1a" letter-spacing="0.35">-0.4</text>
<line x1="146.9" y1="345.5" x2="146.9" y2="347.5" stroke="#333333" stroke-width="1"/>
<line x1="165.3" y1="345.5" x2="165.3" y2="348.5" stroke="#333333" stroke-width="1"/>
<text x="165.47" y="357.6" font-size="10.3" text-anchor="middle" fill="#1a1a1a" letter-spacing="0.35">-0.2</text>
<line x1="183.7" y1="345.5" x2="183.7" y2="347.5" stroke="#333333" stroke-width="1"/>
<line x1="202.1" y1="345.5" x2="202.1" y2="348.5" stroke="#333333" stroke-width="1"/>
<text x="202.27" y="357.6" font-size="10.3" text-anchor="middle" fill="#1a1a1a" letter-spacing="0.35">0.0</text>
<text x="128.9" y="372.8" font-size="13.5" text-anchor="middle" fill="#000" >E-<tspan font-style="italic">iR</tspan> (V vs. RHE)</text>
<text transform="translate(13.4,272.9) rotate(-90)" font-size="13.6" text-anchor="middle" fill="#000">J (mA cm<tspan font-size="9.52" baseline-shift="4.9">-2</tspan>)</text>
<line x1="39.5" y1="208.1" x2="53.5" y2="208.1" stroke="#ECA622" stroke-width="1"/>
<circle cx="46.5" cy="208.1" r="2.2" fill="#ECA622"/>
<circle cx="46.3" cy="207.8" r="0.99" fill="#fff" fill-opacity="0.5"/>
<text x="56.9" y="210.9" font-size="9.6" text-anchor="start" fill="#1a1a1a" >Pdene</text>
<line x1="39.5" y1="219.2" x2="53.5" y2="219.2" stroke="#F6CF78" stroke-width="1"/>
<circle cx="46.5" cy="219.2" r="2.2" fill="#F6CF78"/>
<circle cx="46.3" cy="218.9" r="0.79" fill="#fff" fill-opacity="0.5"/>
<text x="56.9" y="222" font-size="9.6" text-anchor="start" fill="#1a1a1a" >After ADT</text>
<line x1="130.2" y1="208.1" x2="144.2" y2="208.1" stroke="#F04652" stroke-width="1"/>
<circle cx="137.2" cy="208.1" r="2.2" fill="#F04652"/>
<circle cx="137" cy="207.8" r="0.99" fill="#fff" fill-opacity="0.5"/>
<text x="147.6" y="210.9" font-size="9.6" text-anchor="start" fill="#1a1a1a" >β-PdHene</text>
<line x1="130.2" y1="219.2" x2="144.2" y2="219.2" stroke="#F8AEB4" stroke-width="1"/>
<circle cx="137.2" cy="219.2" r="2.2" fill="#F8AEB4"/>
<circle cx="137" cy="218.9" r="0.79" fill="#fff" fill-opacity="0.5"/>
<text x="147.6" y="222" font-size="9.6" text-anchor="start" fill="#1a1a1a" >After ADT</text>
<text x="53.1" y="247.3" font-size="8" text-anchor="start" fill="#EFB02C" >20 mV</text>
<line x1="77.5" y1="244.5" x2="92.8" y2="244.5" stroke="#EFB02C" stroke-width="0.8"/>
<path d="M92.8,244.5 L89.3,242.9 L89.3,246.1 Z" fill="#EFB02C"/>
<line x1="118.7" y1="244.5" x2="102.3" y2="244.5" stroke="#EFB02C" stroke-width="0.8"/>
<path d="M102.3,244.5 L105.8,242.9 L105.8,246.1 Z" fill="#EFB02C"/>
<text x="158.5" y="247.1" font-size="8" text-anchor="start" fill="#EE4550" >3 mV</text>
<line x1="179" y1="244.3" x2="194.8" y2="244.3" stroke="#EE4550" stroke-width="0.8"/>
<path d="M194.8,244.3 L191.3,242.7 L191.3,245.9 Z" fill="#EE4550"/>
<line x1="216.2" y1="244.3" x2="201.3" y2="244.3" stroke="#EE4550" stroke-width="0.8"/>
<path d="M201.3,244.3 L204.8,242.7 L204.8,245.9 Z" fill="#EE4550"/>
<text x="226.9" y="208.5" font-size="20.6" text-anchor="start" fill="#000" >e</text>
<g clip-path="url(#cdeL)">
<path d="M310,350 L310.2,348.27 L310.4,346.59 L310.6,345 L310.8,343.52 L311,342.13 L311.2,340.81 L311.4,339.53 L311.6,338.26 L311.8,336.98 L312,335.66 L312.2,334.27 L312.4,332.8 L312.6,331.2 L312.8,329.43 L313,327.47 L313.2,325.38 L313.4,323.19 L313.6,320.96 L313.8,318.73 L314,316.54 L314.2,314.45 L314.4,312.5 L314.6,310.65 L314.8,308.83 L315,307.04 L315.2,305.28 L315.4,303.57 L315.6,301.89 L315.8,300.25 L316,298.65 L316.2,297.1 L316.4,295.6 L316.6,294.14 L316.8,292.72 L317,291.33 L317.2,289.97 L317.4,288.65 L317.6,287.35 L317.8,286.08 L318,284.83 L318.2,283.61 L318.4,282.4 L318.6,281.21 L318.8,280.03 L319,278.88 L319.2,277.74 L319.4,276.62 L319.6,275.52 L319.8,274.44 L320,273.38 L320.2,272.33 L320.4,271.31 L320.6,270.3 L320.8,269.31 L321,268.35 L321.2,267.41 L321.4,266.5 L321.6,265.6 L321.8,264.71 L322,263.84 L322.2,262.96 L322.4,262.09 L322.6,261.21 L322.8,260.32 L323,259.42 L323.2,258.5 L323.4,257.54 L323.6,256.55 L323.8,255.54 L324,254.51 L324.2,253.5 L324.4,252.52 L324.6,251.58 L324.8,250.7 L325,249.9 L325.2,249.17 L325.4,248.48 L325.6,247.83 L325.8,247.21 L326,246.61 L326.2,246.03 L326.4,245.46 L326.6,244.9 L326.8,244.33 L327,243.76 L327.2,243.16 L327.4,242.55 L327.6,241.9 L327.8,241.2 L328,240.45 L328.2,239.67 L328.4,238.89 L328.6,238.13 L328.8,237.41 L329,236.76 L329.2,236.2 L329.4,235.71 L329.6,235.23 L329.8,234.79 L330,234.36 L330.2,233.95 L330.4,233.56 L330.6,233.19 L330.8,232.83 L331,232.5 L331.2,232.18 L331.4,231.87 L331.6,231.58 L331.8,231.3 L332,231.03 L332.2,230.77 L332.4,230.53 L332.6,230.28 L332.8,230.05 L333,229.83 L333.2,229.61 L333.4,229.39 L333.6,229.19 L333.8,228.99 L334,228.79 L334.2,228.6 L334.4,228.41 L334.6,228.22 L334.8,228.04 L335,227.86 L335.2,227.68 L335.4,227.51 L335.6,227.33 L335.8,227.15 L336,226.98 L336.2,226.8 L336.4,226.62 L336.6,226.45 L336.8,226.27 L337,226.1 L337.2,225.93 L337.4,225.76 L337.6,225.59 L337.8,225.43 L338,225.26 L338.2,225.1 L338.4,224.94 L338.6,224.78 L338.8,224.62 L339,224.47 L339.2,224.31 L339.4,224.16 L339.6,224.01 L339.8,223.86 L340,223.71 L340.2,223.57 L340.4,223.42 L340.6,223.28 L340.8,223.14 L341,223 L341.2,222.87 L341.4,222.73 L341.6,222.6 L341.8,222.47 L342,222.34 L342.2,222.2 L342.4,222.07 L342.6,221.94 L342.8,221.81 L343,221.68 L343.2,221.55 L343.4,221.42 L343.6,221.3 L343.8,221.17 L344,221.05 L344.2,220.93 L344.4,220.82 L344.6,220.7 L344.8,220.59 L345,220.48 L345.2,220.38 L345.4,220.28 L345.6,220.18 L345.8,220.09 L346,220 L346.2,219.92 L346.4,219.84 L346.6,219.76 L346.8,219.69 L347,219.62 L347.2,219.55 L347.4,219.47 L347.6,219.4 L347.8,219.34 L348,219.27 L348.2,219.2 L348.4,219.13 L348.6,219.07 L348.8,219.01 L349,218.95 L349.2,218.89 L349.4,218.83 L349.6,218.77 L349.8,218.72 L350,218.66 L350.2,218.61 L350.4,218.56 L350.6,218.52 L350.8,218.47 L351,218.43 L351.2,218.39 L351.4,218.35 L351.6,218.32 L351.8,218.29 L352,218.26 L352.2,218.23 L352.4,218.21" fill="none" stroke="#1580C4" stroke-width="1.0" stroke-linejoin="round"/>
<circle cx="310.6" cy="345" r="2.2" fill="#1580C4"/>
<circle cx="310.4" cy="344.7" r="0.99" fill="#fff" fill-opacity="0.5"/>
<circle cx="312.6" cy="331.2" r="2.2" fill="#1580C4"/>
<circle cx="312.4" cy="330.9" r="0.99" fill="#fff" fill-opacity="0.5"/>
<circle cx="314.6" cy="310.65" r="2.2" fill="#1580C4"/>
<circle cx="314.4" cy="310.35" r="0.99" fill="#fff" fill-opacity="0.5"/>
<circle cx="316.6" cy="294.14" r="2.2" fill="#1580C4"/>
<circle cx="316.4" cy="293.84" r="0.99" fill="#fff" fill-opacity="0.5"/>
<circle cx="318.6" cy="281.21" r="2.2" fill="#1580C4"/>
<circle cx="318.4" cy="280.91" r="0.99" fill="#fff" fill-opacity="0.5"/>
<circle cx="320.6" cy="270.3" r="2.2" fill="#1580C4"/>
<circle cx="320.4" cy="270" r="0.99" fill="#fff" fill-opacity="0.5"/>
<circle cx="322.6" cy="261.21" r="2.2" fill="#1580C4"/>
<circle cx="322.4" cy="260.91" r="0.99" fill="#fff" fill-opacity="0.5"/>
<circle cx="324.6" cy="251.58" r="2.2" fill="#1580C4"/>
<circle cx="324.4" cy="251.28" r="0.99" fill="#fff" fill-opacity="0.5"/>
<circle cx="326.6" cy="244.9" r="2.2" fill="#1580C4"/>
<circle cx="326.4" cy="244.6" r="0.99" fill="#fff" fill-opacity="0.5"/>
<circle cx="328.6" cy="238.13" r="2.2" fill="#1580C4"/>
<circle cx="328.4" cy="237.83" r="0.99" fill="#fff" fill-opacity="0.5"/>
<circle cx="330.6" cy="233.19" r="2.2" fill="#1580C4"/>
<circle cx="330.4" cy="232.89" r="0.99" fill="#fff" fill-opacity="0.5"/>
<circle cx="332.6" cy="230.28" r="2.2" fill="#1580C4"/>
<circle cx="332.4" cy="229.98" r="0.99" fill="#fff" fill-opacity="0.5"/>
<circle cx="334.6" cy="228.22" r="2.2" fill="#1580C4"/>
<circle cx="334.4" cy="227.92" r="0.99" fill="#fff" fill-opacity="0.5"/>
<circle cx="336.6" cy="226.45" r="2.2" fill="#1580C4"/>
<circle cx="336.4" cy="226.15" r="0.99" fill="#fff" fill-opacity="0.5"/>
<circle cx="338.6" cy="224.78" r="2.2" fill="#1580C4"/>
<circle cx="338.4" cy="224.48" r="0.99" fill="#fff" fill-opacity="0.5"/>
<circle cx="340.6" cy="223.28" r="2.2" fill="#1580C4"/>
<circle cx="340.4" cy="222.98" r="0.99" fill="#fff" fill-opacity="0.5"/>
<circle cx="342.6" cy="221.94" r="2.2" fill="#1580C4"/>
<circle cx="342.4" cy="221.64" r="0.99" fill="#fff" fill-opacity="0.5"/>
<circle cx="344.6" cy="220.7" r="2.2" fill="#1580C4"/>
<circle cx="344.4" cy="220.4" r="0.99" fill="#fff" fill-opacity="0.5"/>
<circle cx="346.6" cy="219.76" r="2.2" fill="#1580C4"/>
<circle cx="346.4" cy="219.46" r="0.99" fill="#fff" fill-opacity="0.5"/>
<circle cx="348.6" cy="219.07" r="2.2" fill="#1580C4"/>
<circle cx="348.4" cy="218.77" r="0.99" fill="#fff" fill-opacity="0.5"/>
<circle cx="350.6" cy="218.52" r="2.2" fill="#1580C4"/>
<circle cx="350.4" cy="218.22" r="0.99" fill="#fff" fill-opacity="0.5"/>
<circle cx="352.6" cy="218.19" r="2.2" fill="#1580C4"/>
<circle cx="352.4" cy="217.89" r="0.99" fill="#fff" fill-opacity="0.5"/>
</g>
<g clip-path="url(#cdeL)">
<path d="M306.3,350 L306.5,347.97 L306.7,345.97 L306.9,344.04 L307.1,342.11 L307.3,340.21 L307.5,338.33 L307.7,336.49 L307.9,334.7 L308.1,332.95 L308.3,331.27 L308.5,329.64 L308.7,328.06 L308.9,326.52 L309.1,325.01 L309.3,323.52 L309.5,322.04 L309.7,320.56 L309.9,319.06 L310.1,317.55 L310.3,316 L310.5,314.41 L310.7,312.79 L310.9,311.15 L311.1,309.5 L311.3,307.85 L311.5,306.21 L311.7,304.59 L311.9,303.01 L312.1,301.48 L312.3,300 L312.5,298.58 L312.7,297.19 L312.9,295.84 L313.1,294.52 L313.3,293.22 L313.5,291.93 L313.7,290.66 L313.9,289.39 L314.1,288.12 L314.3,286.84 L314.5,285.56 L314.7,284.26 L314.9,282.96 L315.1,281.66 L315.3,280.37 L315.5,279.09 L315.7,277.83 L315.9,276.58 L316.1,275.37 L316.3,274.18 L316.5,273.03 L316.7,271.89 L316.9,270.78 L317.1,269.68 L317.3,268.61 L317.5,267.55 L317.7,266.5 L317.9,265.48 L318.1,264.47 L318.3,263.49 L318.5,262.52 L318.7,261.55 L318.9,260.6 L319.1,259.65 L319.3,258.73 L319.5,257.83 L319.7,256.95 L319.9,256.1 L320.1,255.28 L320.3,254.5 L320.5,253.76 L320.7,253.07 L320.9,252.41 L321.1,251.77 L321.3,251.15 L321.5,250.53 L321.7,249.91 L321.9,249.26 L322.1,248.6 L322.3,247.9 L322.5,247.14 L322.7,246.33 L322.9,245.48 L323.1,244.63 L323.3,243.78 L323.5,242.96 L323.7,242.19 L323.9,241.51 L324.1,240.91 L324.3,240.36 L324.5,239.85 L324.7,239.37 L324.9,238.91 L325.1,238.47 L325.3,238.05 L325.5,237.63 L325.7,237.21 L325.9,236.78 L326.1,236.35 L326.3,235.9 L326.5,235.43 L326.7,234.95 L326.9,234.46 L327.1,233.97 L327.3,233.48 L327.5,233 L327.7,232.54 L327.9,232.1 L328.1,231.68 L328.3,231.3 L328.5,230.94 L328.7,230.6 L328.9,230.28 L329.1,229.96 L329.3,229.66 L329.5,229.36 L329.7,229.08 L329.9,228.79 L330.1,228.52 L330.3,228.25 L330.5,227.98 L330.7,227.71 L330.9,227.44 L331.1,227.16 L331.3,226.89 L331.5,226.61 L331.7,226.34 L331.9,226.07 L332.1,225.8 L332.3,225.53 L332.5,225.27 L332.7,225.02 L332.9,224.78 L333.1,224.54 L333.3,224.32 L333.5,224.1 L333.7,223.9 L333.9,223.71 L334.1,223.52 L334.3,223.33 L334.5,223.15 L334.7,222.98 L334.9,222.81 L335.1,222.64 L335.3,222.48 L335.5,222.33 L335.7,222.17 L335.9,222.02 L336.1,221.87 L336.3,221.73 L336.5,221.58 L336.7,221.44 L336.9,221.3 L337.1,221.16 L337.3,221.02 L337.5,220.89 L337.7,220.76 L337.9,220.62 L338.1,220.49 L338.3,220.37 L338.5,220.24 L338.7,220.12 L338.9,220 L339.1,219.88 L339.3,219.77 L339.5,219.66 L339.7,219.55 L339.9,219.45 L340.1,219.35 L340.3,219.25 L340.5,219.16 L340.7,219.07 L340.9,218.97 L341.1,218.89 L341.3,218.8 L341.5,218.71 L341.7,218.63 L341.9,218.55 L342.1,218.47 L342.3,218.39 L342.5,218.31 L342.7,218.24 L342.9,218.17 L343.1,218.1 L343.3,218.03 L343.5,217.96 L343.7,217.89 L343.9,217.83 L344.1,217.77 L344.3,217.71 L344.5,217.65 L344.7,217.59 L344.9,217.53 L345.1,217.48 L345.3,217.42 L345.5,217.37 L345.7,217.31 L345.9,217.26 L346.1,217.21 L346.3,217.16 L346.5,217.11 L346.7,217.06 L346.9,217.02 L347.1,216.98 L347.3,216.93 L347.5,216.89 L347.7,216.85 L347.9,216.82 L348.1,216.78 L348.3,216.75 L348.5,216.71 L348.7,216.68 L348.9,216.65 L349.1,216.61 L349.3,216.58 L349.5,216.55 L349.7,216.52 L349.9,216.49 L350.1,216.46 L350.3,216.43 L350.5,216.41 L350.7,216.38 L350.9,216.36 L351.1,216.33 L351.3,216.31 L351.5,216.29 L351.7,216.27 L351.9,216.25 L352.1,216.23 L352.3,216.22 L352.5,216.2" fill="none" stroke="#9DD8F6" stroke-width="1.0" stroke-linejoin="round"/>
<circle cx="308.2" cy="332.1" r="2.2" fill="#9DD8F6"/>
<circle cx="308" cy="331.8" r="0.79" fill="#fff" fill-opacity="0.5"/>
<circle cx="310.3" cy="316" r="2.2" fill="#9DD8F6"/>
<circle cx="310.1" cy="315.7" r="0.79" fill="#fff" fill-opacity="0.5"/>
<circle cx="312.4" cy="299.28" r="2.2" fill="#9DD8F6"/>
<circle cx="312.2" cy="298.98" r="0.79" fill="#fff" fill-opacity="0.5"/>
<circle cx="314.5" cy="285.56" r="2.2" fill="#9DD8F6"/>
<circle cx="314.3" cy="285.26" r="0.79" fill="#fff" fill-opacity="0.5"/>
<circle cx="316.6" cy="272.46" r="2.2" fill="#9DD8F6"/>
<circle cx="316.4" cy="272.16" r="0.79" fill="#fff" fill-opacity="0.5"/>
<circle cx="318.7" cy="261.55" r="2.2" fill="#9DD8F6"/>
<circle cx="318.5" cy="261.25" r="0.79" fill="#fff" fill-opacity="0.5"/>
<circle cx="320.8" cy="252.74" r="2.2" fill="#9DD8F6"/>
<circle cx="320.6" cy="252.44" r="0.79" fill="#fff" fill-opacity="0.5"/>
<circle cx="322.9" cy="245.48" r="2.2" fill="#9DD8F6"/>
<circle cx="322.7" cy="245.18" r="0.79" fill="#fff" fill-opacity="0.5"/>
<circle cx="325" cy="238.69" r="2.2" fill="#9DD8F6"/>
<circle cx="324.8" cy="238.39" r="0.79" fill="#fff" fill-opacity="0.5"/>
<circle cx="327.1" cy="233.97" r="2.2" fill="#9DD8F6"/>
<circle cx="326.9" cy="233.67" r="0.79" fill="#fff" fill-opacity="0.5"/>
<circle cx="329.2" cy="229.81" r="2.2" fill="#9DD8F6"/>
<circle cx="329" cy="229.51" r="0.79" fill="#fff" fill-opacity="0.5"/>
<circle cx="331.3" cy="226.89" r="2.2" fill="#9DD8F6"/>
<circle cx="331.1" cy="226.59" r="0.79" fill="#fff" fill-opacity="0.5"/>
<circle cx="333.4" cy="224.21" r="2.2" fill="#9DD8F6"/>
<circle cx="333.2" cy="223.91" r="0.79" fill="#fff" fill-opacity="0.5"/>
<circle cx="335.5" cy="222.33" r="2.2" fill="#9DD8F6"/>
<circle cx="335.3" cy="222.03" r="0.79" fill="#fff" fill-opacity="0.5"/>
<circle cx="337.6" cy="220.82" r="2.2" fill="#9DD8F6"/>
<circle cx="337.4" cy="220.52" r="0.79" fill="#fff" fill-opacity="0.5"/>
<circle cx="339.7" cy="219.55" r="2.2" fill="#9DD8F6"/>
<circle cx="339.5" cy="219.25" r="0.79" fill="#fff" fill-opacity="0.5"/>
<circle cx="341.8" cy="218.59" r="2.2" fill="#9DD8F6"/>
<circle cx="341.6" cy="218.29" r="0.79" fill="#fff" fill-opacity="0.5"/>
<circle cx="343.9" cy="217.83" r="2.2" fill="#9DD8F6"/>
<circle cx="343.7" cy="217.53" r="0.79" fill="#fff" fill-opacity="0.5"/>
<circle cx="346" cy="217.23" r="2.2" fill="#9DD8F6"/>
<circle cx="345.8" cy="216.93" r="0.79" fill="#fff" fill-opacity="0.5"/>
<circle cx="348.1" cy="216.78" r="2.2" fill="#9DD8F6"/>
<circle cx="347.9" cy="216.48" r="0.79" fill="#fff" fill-opacity="0.5"/>
<circle cx="350.2" cy="216.45" r="2.2" fill="#9DD8F6"/>
<circle cx="350" cy="216.15" r="0.79" fill="#fff" fill-opacity="0.5"/>
<circle cx="352.3" cy="216.22" r="2.2" fill="#9DD8F6"/>
<circle cx="352.1" cy="215.92" r="0.79" fill="#fff" fill-opacity="0.5"/>
</g>
<g clip-path="url(#cdeR)">
<path d="M397,350 L397.2,347.84 L397.4,345.87 L397.6,344.21 L397.8,342.77 L398,341.48 L398.2,340.25 L398.4,339.02 L398.6,337.71 L398.8,336.26 L399,334.7 L399.2,333.06 L399.4,331.37 L399.6,329.66 L399.8,327.96 L400,326.3 L400.2,324.7 L400.4,323.2 L400.6,321.77 L400.8,320.37 L401,319 L401.2,317.67 L401.4,316.36 L401.6,315.09 L401.8,313.85 L402,312.65 L402.2,311.47 L402.4,310.34 L402.6,309.25 L402.8,308.21 L403,307.2 L403.2,306.22 L403.4,305.25 L403.6,304.29 L403.8,303.33 L404,302.35 L404.2,301.36 L404.4,300.33 L404.6,299.26 L404.8,298.15 L405,297 L405.2,295.84 L405.4,294.67 L405.6,293.51 L405.8,292.37 L406,291.26 L406.2,290.2 L406.4,289.16 L406.6,288.1 L406.8,287.05 L407,286.02 L407.2,285 L407.4,284.01 L407.6,283.06 L407.8,282.16 L408,281.33 L408.2,280.56 L408.4,279.86 L408.6,279.21 L408.8,278.59 L409,278 L409.2,277.44 L409.4,276.91 L409.6,276.39 L409.8,275.89 L410,275.4 L410.2,274.92 L410.4,274.45 L410.6,273.98 L410.8,273.5 L411,273.03 L411.2,272.59 L411.4,272.16 L411.6,271.75 L411.8,271.36 L412,270.97 L412.2,270.59 L412.4,270.22 L412.6,269.84 L412.8,269.47 L413,269.09 L413.2,268.71 L413.4,268.32 L413.6,267.91 L413.8,267.49 L414,267.06 L414.2,266.6 L414.4,266.12 L414.6,265.61 L414.8,265.08 L415,264.51 L415.2,263.88 L415.4,263.19 L415.6,262.45 L415.8,261.66 L416,260.85 L416.2,260 L416.4,259.14 L416.6,258.26 L416.8,257.39 L417,256.51 L417.2,255.65 L417.4,254.81 L417.6,254 L417.8,253.2 L418,252.4 L418.2,251.61 L418.4,250.81 L418.6,250.01 L418.8,249.21 L419,248.41 L419.2,247.62 L419.4,246.83 L419.6,246.05 L419.8,245.27 L420,244.5 L420.2,243.72 L420.4,242.94 L420.6,242.16 L420.8,241.38 L421,240.62 L421.2,239.88 L421.4,239.17 L421.6,238.5 L421.8,237.85 L422,237.22 L422.2,236.59 L422.4,235.98 L422.6,235.39 L422.8,234.82 L423,234.27 L423.2,233.75 L423.4,233.26 L423.6,232.8 L423.8,232.36 L424,231.95 L424.2,231.54 L424.4,231.15 L424.6,230.77 L424.8,230.41 L425,230.06 L425.2,229.73 L425.4,229.4 L425.6,229.09 L425.8,228.79 L426,228.5 L426.2,228.22 L426.4,227.95 L426.6,227.68 L426.8,227.43 L427,227.18 L427.2,226.93 L427.4,226.7 L427.6,226.47 L427.8,226.24 L428,226.02 L428.2,225.81 L428.4,225.6 L428.6,225.4 L428.8,225.2 L429,225 L429.2,224.81 L429.4,224.61 L429.6,224.42 L429.8,224.23 L430,224.05 L430.2,223.86 L430.4,223.68 L430.6,223.5 L430.8,223.32 L431,223.15 L431.2,222.99 L431.4,222.82 L431.6,222.66 L431.8,222.51 L432,222.36 L432.2,222.22 L432.4,222.08 L432.6,221.95 L432.8,221.82 L433,221.7 L433.2,221.58 L433.4,221.47 L433.6,221.36 L433.8,221.24 L434,221.13 L434.2,221.02 L434.4,220.92 L434.6,220.81 L434.8,220.71 L435,220.61 L435.2,220.51 L435.4,220.42 L435.6,220.33 L435.8,220.24 L436,220.16 L436.2,220.08 L436.4,220.01 L436.6,219.94 L436.8,219.88 L437,219.82 L437.2,219.77 L437.4,219.72 L437.6,219.68 L437.8,219.64 L438,219.6 L438.2,219.56 L438.4,219.52 L438.6,219.48 L438.8,219.44 L439,219.4 L439.2,219.37 L439.4,219.33 L439.6,219.3 L439.8,219.26 L440,219.23 L440.2,219.2 L440.4,219.16 L440.6,219.13 L440.8,219.1 L441,219.07 L441.2,219.05 L441.4,219.02 L441.6,219 L441.8,218.97 L442,218.95 L442.2,218.93 L442.4,218.91 L442.6,218.89 L442.8,218.87 L443,218.86 L443.2,218.85 L443.4,218.83 L443.6,218.82 L443.8,218.82 L444,218.81 L444.2,218.8 L444.4,218.8 L444.6,218.8" fill="none" stroke="#2FA35E" stroke-width="1.0" stroke-linejoin="round"/>
<circle cx="398.5" cy="338.38" r="2.2" fill="#2FA35E"/>
<circle cx="398.3" cy="338.08" r="0.99" fill="#fff" fill-opacity="0.5"/>
<circle cx="400.45" cy="322.84" r="2.2" fill="#2FA35E"/>
<circle cx="400.25" cy="322.54" r="0.99" fill="#fff" fill-opacity="0.5"/>
<circle cx="402.4" cy="310.34" r="2.2" fill="#2FA35E"/>
<circle cx="402.2" cy="310.04" r="0.99" fill="#fff" fill-opacity="0.5"/>
<circle cx="404.35" cy="300.59" r="2.2" fill="#2FA35E"/>
<circle cx="404.15" cy="300.29" r="0.99" fill="#fff" fill-opacity="0.5"/>
<circle cx="406.3" cy="289.68" r="2.2" fill="#2FA35E"/>
<circle cx="406.1" cy="289.38" r="0.99" fill="#fff" fill-opacity="0.5"/>
<circle cx="408.25" cy="280.38" r="2.2" fill="#2FA35E"/>
<circle cx="408.05" cy="280.08" r="0.99" fill="#fff" fill-opacity="0.5"/>
<circle cx="410.2" cy="274.92" r="2.2" fill="#2FA35E"/>
<circle cx="410" cy="274.62" r="0.99" fill="#fff" fill-opacity="0.5"/>
<circle cx="412.15" cy="270.68" r="2.2" fill="#2FA35E"/>
<circle cx="411.95" cy="270.38" r="0.99" fill="#fff" fill-opacity="0.5"/>
<circle cx="414.1" cy="266.83" r="2.2" fill="#2FA35E"/>
<circle cx="413.9" cy="266.53" r="0.99" fill="#fff" fill-opacity="0.5"/>
<circle cx="416.05" cy="260.64" r="2.2" fill="#2FA35E"/>
<circle cx="415.85" cy="260.34" r="0.99" fill="#fff" fill-opacity="0.5"/>
<circle cx="418" cy="252.4" r="2.2" fill="#2FA35E"/>
<circle cx="417.8" cy="252.1" r="0.99" fill="#fff" fill-opacity="0.5"/>
<circle cx="419.95" cy="244.69" r="2.2" fill="#2FA35E"/>
<circle cx="419.75" cy="244.39" r="0.99" fill="#fff" fill-opacity="0.5"/>
<circle cx="421.9" cy="237.53" r="2.2" fill="#2FA35E"/>
<circle cx="421.7" cy="237.23" r="0.99" fill="#fff" fill-opacity="0.5"/>
<circle cx="423.85" cy="232.26" r="2.2" fill="#2FA35E"/>
<circle cx="423.65" cy="231.96" r="0.99" fill="#fff" fill-opacity="0.5"/>
<circle cx="425.8" cy="228.79" r="2.2" fill="#2FA35E"/>
<circle cx="425.6" cy="228.49" r="0.99" fill="#fff" fill-opacity="0.5"/>
<circle cx="427.75" cy="226.3" r="2.2" fill="#2FA35E"/>
<circle cx="427.55" cy="226" r="0.99" fill="#fff" fill-opacity="0.5"/>
<circle cx="429.7" cy="224.33" r="2.2" fill="#2FA35E"/>
<circle cx="429.5" cy="224.03" r="0.99" fill="#fff" fill-opacity="0.5"/>
<circle cx="431.65" cy="222.62" r="2.2" fill="#2FA35E"/>
<circle cx="431.45" cy="222.32" r="0.99" fill="#fff" fill-opacity="0.5"/>
<circle cx="433.6" cy="221.36" r="2.2" fill="#2FA35E"/>
<circle cx="433.4" cy="221.06" r="0.99" fill="#fff" fill-opacity="0.5"/>
<circle cx="435.55" cy="220.35" r="2.2" fill="#2FA35E"/>
<circle cx="435.35" cy="220.05" r="0.99" fill="#fff" fill-opacity="0.5"/>
<circle cx="437.5" cy="219.7" r="2.2" fill="#2FA35E"/>
<circle cx="437.3" cy="219.4" r="0.99" fill="#fff" fill-opacity="0.5"/>
<circle cx="439.45" cy="219.32" r="2.2" fill="#2FA35E"/>
<circle cx="439.25" cy="219.02" r="0.99" fill="#fff" fill-opacity="0.5"/>
<circle cx="441.4" cy="219.02" r="2.2" fill="#2FA35E"/>
<circle cx="441.2" cy="218.72" r="0.99" fill="#fff" fill-opacity="0.5"/>
<circle cx="443.35" cy="218.84" r="2.2" fill="#2FA35E"/>
<circle cx="443.15" cy="218.54" r="0.99" fill="#fff" fill-opacity="0.5"/>
</g>
<g clip-path="url(#cdeR)">
<path d="M395.5,350 L395.7,348.2 L395.9,346.41 L396.1,344.65 L396.3,342.91 L396.5,341.19 L396.7,339.49 L396.9,337.82 L397.1,336.18 L397.3,334.54 L397.5,332.9 L397.7,331.28 L397.9,329.68 L398.1,328.11 L398.3,326.59 L398.5,325.11 L398.7,323.69 L398.9,322.33 L399.1,321.01 L399.3,319.73 L399.5,318.49 L399.7,317.28 L399.9,316.09 L400.1,314.93 L400.3,313.79 L400.5,312.66 L400.7,311.55 L400.9,310.45 L401.1,309.37 L401.3,308.32 L401.5,307.28 L401.7,306.26 L401.9,305.26 L402.1,304.26 L402.3,303.27 L402.5,302.28 L402.7,301.29 L402.9,300.3 L403.1,299.3 L403.3,298.31 L403.5,297.32 L403.7,296.33 L403.9,295.35 L404.1,294.37 L404.3,293.39 L404.5,292.42 L404.7,291.45 L404.9,290.48 L405.1,289.51 L405.3,288.51 L405.5,287.49 L405.7,286.46 L405.9,285.44 L406.1,284.43 L406.3,283.46 L406.5,282.53 L406.7,281.66 L406.9,280.87 L407.1,280.15 L407.3,279.49 L407.5,278.88 L407.7,278.3 L407.9,277.75 L408.1,277.22 L408.3,276.72 L408.5,276.22 L408.7,275.73 L408.9,275.23 L409.1,274.73 L409.3,274.21 L409.5,273.67 L409.7,273.1 L409.9,272.5 L410.1,271.87 L410.3,271.23 L410.5,270.58 L410.7,269.91 L410.9,269.23 L411.1,268.54 L411.3,267.83 L411.5,267.11 L411.7,266.38 L411.9,265.63 L412.1,264.87 L412.3,264.09 L412.5,263.3 L412.7,262.5 L412.9,261.66 L413.1,260.76 L413.3,259.83 L413.5,258.86 L413.7,257.87 L413.9,256.87 L414.1,255.87 L414.3,254.88 L414.5,253.91 L414.7,252.96 L414.9,252.06 L415.1,251.21 L415.3,250.4 L415.5,249.63 L415.7,248.87 L415.9,248.13 L416.1,247.4 L416.3,246.69 L416.5,246 L416.7,245.33 L416.9,244.67 L417.1,244.03 L417.3,243.41 L417.5,242.8 L417.7,242.21 L417.9,241.64 L418.1,241.1 L418.3,240.58 L418.5,240.07 L418.7,239.57 L418.9,239.08 L419.1,238.58 L419.3,238.08 L419.5,237.56 L419.7,237.03 L419.9,236.48 L420.1,235.91 L420.3,235.34 L420.5,234.77 L420.7,234.23 L420.9,233.71 L421.1,233.22 L421.3,232.79 L421.5,232.38 L421.7,232 L421.9,231.63 L422.1,231.28 L422.3,230.94 L422.5,230.6 L422.7,230.27 L422.9,229.93 L423.1,229.58 L423.3,229.22 L423.5,228.85 L423.7,228.47 L423.9,228.08 L424.1,227.7 L424.3,227.32 L424.5,226.95 L424.7,226.6 L424.9,226.26 L425.1,225.95 L425.3,225.66 L425.5,225.38 L425.7,225.11 L425.9,224.86 L426.1,224.61 L426.3,224.37 L426.5,224.14 L426.7,223.92 L426.9,223.71 L427.1,223.5 L427.3,223.3 L427.5,223.11 L427.7,222.93 L427.9,222.75 L428.1,222.58 L428.3,222.41 L428.5,222.24 L428.7,222.08 L428.9,221.93 L429.1,221.77 L429.3,221.62 L429.5,221.47 L429.7,221.33 L429.9,221.18 L430.1,221.04 L430.3,220.9 L430.5,220.77 L430.7,220.63 L430.9,220.5 L431.1,220.37 L431.3,220.24 L431.5,220.12 L431.7,219.99 L431.9,219.86 L432.1,219.74 L432.3,219.61 L432.5,219.48 L432.7,219.35 L432.9,219.23 L433.1,219.1 L433.3,218.97 L433.5,218.85 L433.7,218.73 L433.9,218.62 L434.1,218.5 L434.3,218.4 L434.5,218.3 L434.7,218.2 L434.9,218.11 L435.1,218.02 L435.3,217.92 L435.5,217.83 L435.7,217.74 L435.9,217.66 L436.1,217.57 L436.3,217.49 L436.5,217.41 L436.7,217.34 L436.9,217.27 L437.1,217.2 L437.3,217.14 L437.5,217.09 L437.7,217.04 L437.9,217 L438.1,216.96 L438.3,216.92 L438.5,216.89 L438.7,216.85 L438.9,216.81 L439.1,216.78 L439.3,216.74 L439.5,216.71 L439.7,216.67 L439.9,216.64 L440.1,216.61 L440.3,216.57 L440.5,216.54 L440.7,216.51 L440.9,216.49 L441.1,216.46 L441.3,216.43 L441.5,216.41 L441.7,216.38 L441.9,216.36 L442.1,216.34 L442.3,216.32 L442.5,216.3 L442.7,216.28 L442.9,216.27 L443.1,216.25 L443.3,216.24 L443.5,216.23 L443.7,216.22 L443.9,216.21 L444.1,216.21 L444.3,216.2 L444.5,216.2" fill="none" stroke="#B3E4C7" stroke-width="1.0" stroke-linejoin="round"/>
<circle cx="396.05" cy="345.09" r="2.2" fill="#B3E4C7"/>
<circle cx="395.85" cy="344.79" r="0.79" fill="#fff" fill-opacity="0.5"/>
<circle cx="398" cy="328.89" r="2.2" fill="#B3E4C7"/>
<circle cx="397.8" cy="328.59" r="0.79" fill="#fff" fill-opacity="0.5"/>
<circle cx="399.95" cy="315.8" r="2.2" fill="#B3E4C7"/>
<circle cx="399.75" cy="315.5" r="0.79" fill="#fff" fill-opacity="0.5"/>
<circle cx="401.9" cy="305.26" r="2.2" fill="#B3E4C7"/>
<circle cx="401.7" cy="304.96" r="0.79" fill="#fff" fill-opacity="0.5"/>
<circle cx="403.85" cy="295.59" r="2.2" fill="#B3E4C7"/>
<circle cx="403.65" cy="295.29" r="0.79" fill="#fff" fill-opacity="0.5"/>
<circle cx="405.8" cy="285.95" r="2.2" fill="#B3E4C7"/>
<circle cx="405.6" cy="285.65" r="0.79" fill="#fff" fill-opacity="0.5"/>
<circle cx="407.75" cy="278.16" r="2.2" fill="#B3E4C7"/>
<circle cx="407.55" cy="277.86" r="0.79" fill="#fff" fill-opacity="0.5"/>
<circle cx="409.7" cy="273.1" r="2.2" fill="#B3E4C7"/>
<circle cx="409.5" cy="272.8" r="0.79" fill="#fff" fill-opacity="0.5"/>
<circle cx="411.65" cy="266.56" r="2.2" fill="#B3E4C7"/>
<circle cx="411.45" cy="266.26" r="0.79" fill="#fff" fill-opacity="0.5"/>
<circle cx="413.6" cy="258.37" r="2.2" fill="#B3E4C7"/>
<circle cx="413.4" cy="258.07" r="0.79" fill="#fff" fill-opacity="0.5"/>
<circle cx="415.55" cy="249.44" r="2.2" fill="#B3E4C7"/>
<circle cx="415.35" cy="249.14" r="0.79" fill="#fff" fill-opacity="0.5"/>
<circle cx="417.5" cy="242.8" r="2.2" fill="#B3E4C7"/>
<circle cx="417.3" cy="242.5" r="0.79" fill="#fff" fill-opacity="0.5"/>
<circle cx="419.45" cy="237.69" r="2.2" fill="#B3E4C7"/>
<circle cx="419.25" cy="237.39" r="0.79" fill="#fff" fill-opacity="0.5"/>
<circle cx="421.4" cy="232.58" r="2.2" fill="#B3E4C7"/>
<circle cx="421.2" cy="232.28" r="0.79" fill="#fff" fill-opacity="0.5"/>
<circle cx="423.35" cy="229.13" r="2.2" fill="#B3E4C7"/>
<circle cx="423.15" cy="228.83" r="0.79" fill="#fff" fill-opacity="0.5"/>
<circle cx="425.3" cy="225.66" r="2.2" fill="#B3E4C7"/>
<circle cx="425.1" cy="225.36" r="0.79" fill="#fff" fill-opacity="0.5"/>
<circle cx="427.25" cy="223.35" r="2.2" fill="#B3E4C7"/>
<circle cx="427.05" cy="223.05" r="0.79" fill="#fff" fill-opacity="0.5"/>
<circle cx="429.2" cy="221.7" r="2.2" fill="#B3E4C7"/>
<circle cx="429" cy="221.4" r="0.79" fill="#fff" fill-opacity="0.5"/>
<circle cx="431.15" cy="220.34" r="2.2" fill="#B3E4C7"/>
<circle cx="430.95" cy="220.04" r="0.79" fill="#fff" fill-opacity="0.5"/>
<circle cx="433.1" cy="219.1" r="2.2" fill="#B3E4C7"/>
<circle cx="432.9" cy="218.8" r="0.79" fill="#fff" fill-opacity="0.5"/>
<circle cx="435.05" cy="218.04" r="2.2" fill="#B3E4C7"/>
<circle cx="434.85" cy="217.74" r="0.79" fill="#fff" fill-opacity="0.5"/>
<circle cx="437" cy="217.24" r="2.2" fill="#B3E4C7"/>
<circle cx="436.8" cy="216.94" r="0.79" fill="#fff" fill-opacity="0.5"/>
<circle cx="438.95" cy="216.8" r="2.2" fill="#B3E4C7"/>
<circle cx="438.75" cy="216.5" r="0.79" fill="#fff" fill-opacity="0.5"/>
<circle cx="440.9" cy="216.49" r="2.2" fill="#B3E4C7"/>
<circle cx="440.7" cy="216.19" r="0.79" fill="#fff" fill-opacity="0.5"/>
<circle cx="442.85" cy="216.27" r="2.2" fill="#B3E4C7"/>
<circle cx="442.65" cy="215.97" r="0.79" fill="#fff" fill-opacity="0.5"/>
</g>
<line x1="261" y1="201.5" x2="444" y2="201.5" stroke="#333" stroke-width="1" stroke-linecap="square"/>
<line x1="261" y1="345.5" x2="444" y2="345.5" stroke="#333" stroke-width="1" stroke-linecap="square"/>
<line x1="261" y1="201.5" x2="261" y2="345.5" stroke="#1a1a1a" stroke-width="1" stroke-linecap="square"/>
<line x1="444" y1="201.5" x2="444" y2="345.5" stroke="#1a1a1a" stroke-width="1" stroke-linecap="square"/>
<line x1="352.5" y1="201.5" x2="352.5" y2="345.5" stroke="#111" stroke-width="1"/>
<line x1="258" y1="215.1" x2="261" y2="215.1" stroke="#333333" stroke-width="1"/>
<text x="257.15" y="218.8" font-size="10.3" text-anchor="end" fill="#1a1a1a" letter-spacing="0.35">0</text>
<line x1="259" y1="244.15" x2="261" y2="244.15" stroke="#333333" stroke-width="1"/>
<line x1="258" y1="273.2" x2="261" y2="273.2" stroke="#333333" stroke-width="1"/>
<text x="257.15" y="276.9" font-size="10.3" text-anchor="end" fill="#1a1a1a" letter-spacing="0.35">-20</text>
<line x1="259" y1="302.25" x2="261" y2="302.25" stroke="#333333" stroke-width="1"/>
<line x1="258" y1="331.3" x2="261" y2="331.3" stroke="#333333" stroke-width="1"/>
<text x="257.15" y="335" font-size="10.3" text-anchor="end" fill="#1a1a1a" letter-spacing="0.35">-40</text>
<line x1="261" y1="345.5" x2="261" y2="348.5" stroke="#333333" stroke-width="1"/>
<text x="261.17" y="357.6" font-size="10.3" text-anchor="middle" fill="#1a1a1a" letter-spacing="0.35">-0.4</text>
<line x1="279.3" y1="345.5" x2="279.3" y2="347.5" stroke="#333333" stroke-width="1"/>
<line x1="297.6" y1="345.5" x2="297.6" y2="348.5" stroke="#333333" stroke-width="1"/>
<text x="297.77" y="357.6" font-size="10.3" text-anchor="middle" fill="#1a1a1a" letter-spacing="0.35">-0.2</text>
<line x1="315.9" y1="345.5" x2="315.9" y2="347.5" stroke="#333333" stroke-width="1"/>
<line x1="334.2" y1="345.5" x2="334.2" y2="348.5" stroke="#333333" stroke-width="1"/>
<text x="334.37" y="357.6" font-size="10.3" text-anchor="middle" fill="#1a1a1a" letter-spacing="0.35">0.0</text>
<line x1="352.5" y1="345.5" x2="352.5" y2="348.5" stroke="#333333" stroke-width="1"/>
<text x="352.67" y="357.6" font-size="10.3" text-anchor="middle" fill="#1a1a1a" letter-spacing="0.35">-0.4</text>
<line x1="370.8" y1="345.5" x2="370.8" y2="347.5" stroke="#333333" stroke-width="1"/>
<line x1="389.1" y1="345.5" x2="389.1" y2="348.5" stroke="#333333" stroke-width="1"/>
<text x="389.27" y="357.6" font-size="10.3" text-anchor="middle" fill="#1a1a1a" letter-spacing="0.35">-0.2</text>
<line x1="407.4" y1="345.5" x2="407.4" y2="347.5" stroke="#333333" stroke-width="1"/>
<line x1="425.7" y1="345.5" x2="425.7" y2="348.5" stroke="#333333" stroke-width="1"/>
<text x="425.87" y="357.6" font-size="10.3" text-anchor="middle" fill="#1a1a1a" letter-spacing="0.35">0.0</text>
<text x="352.9" y="372.8" font-size="13.5" text-anchor="middle" fill="#000" >E-<tspan font-style="italic">iR</tspan> (V vs. RHE)</text>
<text transform="translate(237.7,272.9) rotate(-90)" font-size="13.6" text-anchor="middle" fill="#000">J (mA cm<tspan font-size="9.52" baseline-shift="4.9">-2</tspan>)</text>
<line x1="263.3" y1="208.1" x2="277.3" y2="208.1" stroke="#1580C4" stroke-width="1"/>
<circle cx="270.3" cy="208.1" r="2.2" fill="#1580C4"/>
<circle cx="270.1" cy="207.8" r="0.99" fill="#fff" fill-opacity="0.5"/>
<text x="280.7" y="210.9" font-size="9.6" text-anchor="start" fill="#1a1a1a" >α-PdHene</text>
<line x1="263.3" y1="219.2" x2="277.3" y2="219.2" stroke="#9DD8F6" stroke-width="1"/>
<circle cx="270.3" cy="219.2" r="2.2" fill="#9DD8F6"/>
<circle cx="270.1" cy="218.9" r="0.79" fill="#fff" fill-opacity="0.5"/>
<text x="280.7" y="222" font-size="9.6" text-anchor="start" fill="#1a1a1a" >After ADT</text>
<line x1="355.3" y1="208.1" x2="369.3" y2="208.1" stroke="#2FA35E" stroke-width="1"/>
<circle cx="362.3" cy="208.1" r="2.2" fill="#2FA35E"/>
<circle cx="362.1" cy="207.8" r="0.99" fill="#fff" fill-opacity="0.5"/>
<text x="372.7" y="210.9" font-size="9.6" text-anchor="start" fill="#1a1a1a" >Mixed-phase</text>
<text x="372.7" y="223.5" font-size="9.6" text-anchor="start" fill="#1a1a1a" >PdHene</text>
<line x1="355.3" y1="232.8" x2="369.3" y2="232.8" stroke="#B3E4C7" stroke-width="1"/>
<circle cx="362.3" cy="232.8" r="2.2" fill="#B3E4C7"/>
<circle cx="362.1" cy="232.5" r="0.79" fill="#fff" fill-opacity="0.5"/>
<text x="372.7" y="235.6" font-size="9.6" text-anchor="start" fill="#1a1a1a" >After ADT</text>
<text x="278.1" y="247.6" font-size="8" text-anchor="start" fill="#1A8CCB" >15 mV</text>
<line x1="304.1" y1="244.8" x2="319.2" y2="244.8" stroke="#1A8CCB" stroke-width="0.8"/>
<path d="M319.2,244.8 L315.7,243.2 L315.7,246.4 Z" fill="#1A8CCB"/>
<line x1="344.5" y1="244.8" x2="329.1" y2="244.8" stroke="#1A8CCB" stroke-width="0.8"/>
<path d="M329.1,244.8 L332.6,243.2 L332.6,246.4 Z" fill="#1A8CCB"/>
<text x="373.3" y="247.7" font-size="8" text-anchor="start" fill="#36AD68" >13 mV</text>
<line x1="398" y1="244.9" x2="413.3" y2="244.9" stroke="#36AD68" stroke-width="0.8"/>
<path d="M413.3,244.9 L409.8,243.3 L409.8,246.5 Z" fill="#36AD68"/>
<line x1="438.4" y1="244.9" x2="423.5" y2="244.9" stroke="#36AD68" stroke-width="0.8"/>
<path d="M423.5,244.9 L427,243.3 L427,246.5 Z" fill="#36AD68"/>
<text x="459" y="208.5" font-size="20.6" text-anchor="start" fill="#000" >f</text>
<line x1="494" y1="200.2" x2="677" y2="200.2" stroke="#333" stroke-width="1" stroke-linecap="square"/>
<line x1="494" y1="344.5" x2="677" y2="344.5" stroke="#333" stroke-width="1" stroke-linecap="square"/>
<line x1="494" y1="200.2" x2="494" y2="344.5" stroke="#1a1a1a" stroke-width="1" stroke-linecap="square"/>
<line x1="677" y1="200.2" x2="677" y2="344.5" stroke="#1a1a1a" stroke-width="1" stroke-linecap="square"/>
<line x1="491" y1="213.2" x2="494" y2="213.2" stroke="#444" stroke-width="1"/>
<text x="489.95" y="216.9" font-size="10.3" text-anchor="end" fill="#1a1a1a" letter-spacing="0.35">0</text>
<line x1="491" y1="265.7" x2="494" y2="265.7" stroke="#444" stroke-width="1"/>
<text x="489.95" y="269.4" font-size="10.3" text-anchor="end" fill="#1a1a1a" letter-spacing="0.35">-20</text>
<line x1="491" y1="318.2" x2="494" y2="318.2" stroke="#444" stroke-width="1"/>
<text x="489.95" y="321.9" font-size="10.3" text-anchor="end" fill="#1a1a1a" letter-spacing="0.35">-40</text>
<line x1="494" y1="344.5" x2="494" y2="347.5" stroke="#444" stroke-width="1"/>
<text x="494.17" y="357.6" font-size="10.3" text-anchor="middle" fill="#1a1a1a" letter-spacing="0.35">0</text>
<line x1="555" y1="344.5" x2="555" y2="347.5" stroke="#444" stroke-width="1"/>
<text x="555.17" y="357.6" font-size="10.3" text-anchor="middle" fill="#1a1a1a" letter-spacing="0.35">4</text>
<line x1="616" y1="344.5" x2="616" y2="347.5" stroke="#444" stroke-width="1"/>
<text x="616.17" y="357.6" font-size="10.3" text-anchor="middle" fill="#1a1a1a" letter-spacing="0.35">8</text>
<line x1="677" y1="344.5" x2="677" y2="347.5" stroke="#444" stroke-width="1"/>
<text x="677.17" y="357.6" font-size="10.3" text-anchor="middle" fill="#1a1a1a" letter-spacing="0.35">12</text>
<text x="585.5" y="372" font-size="13.5" text-anchor="middle" fill="#000" >Time (h)</text>
<text transform="translate(469.8,272.2) rotate(-90)" font-size="13.6" text-anchor="middle" fill="#000">J (mA cm<tspan font-size="9.52" baseline-shift="4.9">-2</tspan>)</text>
<path d="M494.3,249 L494.5,236.3 L500,237.6 L507,238.7 L514.8,239.5 L522,239.7 L532,239.4 L545,239.8 L560,240.2 L575,240.5 L590,240.6 L605,240.4 L620,240.6 L635,240.5 L650,240.7 L677,240.7" fill="none" stroke="#EF4048" stroke-width="1.5" stroke-linejoin="round"/>
</svg>
</body></html>
